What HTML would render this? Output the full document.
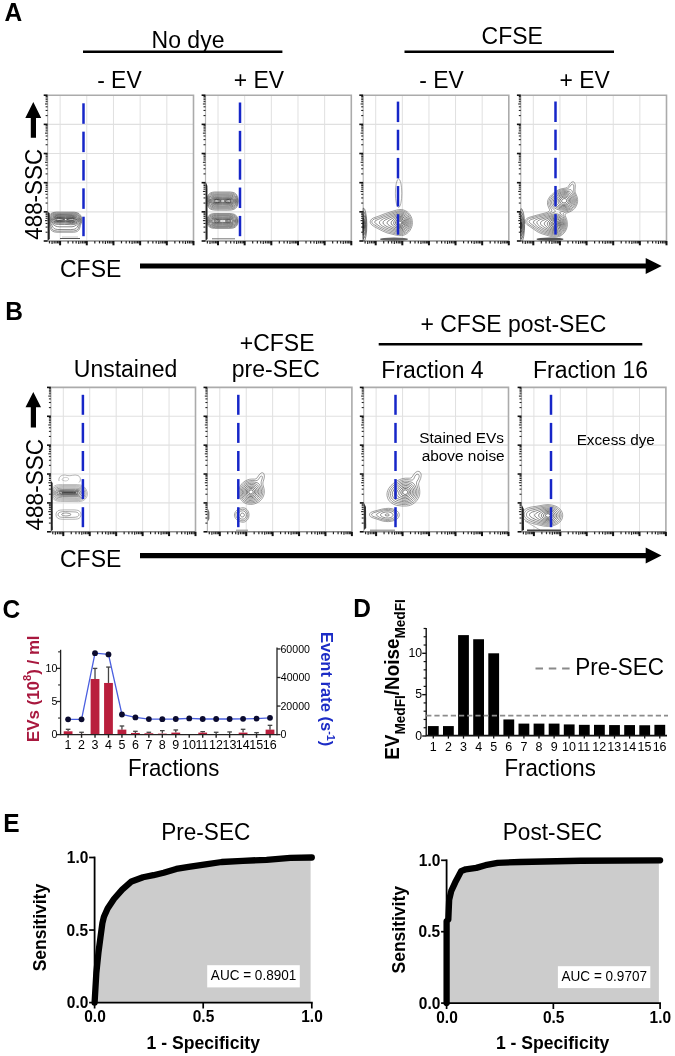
<!DOCTYPE html>
<html><head><meta charset="utf-8"><style>html,body{margin:0;padding:0;background:#fff;}svg{display:block;will-change:transform;filter:blur(0.35px);}</style></head>
<body><svg width="675" height="1056" viewBox="0 0 675 1056" font-family="Liberation Sans, sans-serif">
<rect width="675" height="1056" fill="#fff"/>
<text transform="translate(4.39,21.00) scale(1,1.05)" font-size="24.5" font-weight="bold" fill="#000">A</text>
<text transform="translate(151.56,47.60) scale(1,1.05)" font-size="23" fill="#000">No dye</text>
<line x1="83.00" y1="51.70" x2="282.40" y2="51.70" stroke="#000" stroke-width="2.5"/>
<text transform="translate(481.58,44.30) scale(1,1.05)" font-size="23" fill="#000">CFSE</text>
<line x1="404.50" y1="51.70" x2="614.00" y2="51.70" stroke="#000" stroke-width="2.5"/>
<text transform="translate(97.13,87.90) scale(1,1.05)" font-size="22.9" fill="#000">- EV</text>
<text transform="translate(233.73,87.90) scale(1,1.05)" font-size="22.9" fill="#000">+ EV</text>
<text transform="translate(419.23,87.90) scale(1,1.05)" font-size="22.9" fill="#000">- EV</text>
<text transform="translate(559.53,87.90) scale(1,1.05)" font-size="22.9" fill="#000">+ EV</text>
<line x1="60.10" y1="95.20" x2="60.10" y2="241.00" stroke="#e0e0e0" stroke-width="1.0"/>
<line x1="86.78" y1="95.20" x2="86.78" y2="241.00" stroke="#e0e0e0" stroke-width="1.0"/>
<line x1="113.46" y1="95.20" x2="113.46" y2="241.00" stroke="#e0e0e0" stroke-width="1.0"/>
<line x1="140.14" y1="95.20" x2="140.14" y2="241.00" stroke="#e0e0e0" stroke-width="1.0"/>
<line x1="166.82" y1="95.20" x2="166.82" y2="241.00" stroke="#e0e0e0" stroke-width="1.0"/>
<line x1="47.60" y1="124.36" x2="193.50" y2="124.36" stroke="#e0e0e0" stroke-width="1.1"/>
<line x1="47.60" y1="153.52" x2="193.50" y2="153.52" stroke="#e0e0e0" stroke-width="1.1"/>
<line x1="47.60" y1="182.68" x2="193.50" y2="182.68" stroke="#e0e0e0" stroke-width="1.1"/>
<line x1="47.60" y1="211.84" x2="193.50" y2="211.84" stroke="#e0e0e0" stroke-width="1.1"/>
<path d="M47.60,95.20 H193.50 V241.00" fill="none" stroke="#ababab" stroke-width="1.6"/>
<line x1="47.60" y1="95.20" x2="47.60" y2="241.00" stroke="#b8b8b8" stroke-width="1.2"/>
<line x1="47.60" y1="241.00" x2="193.50" y2="241.00" stroke="#909090" stroke-width="1.4"/>
<line x1="43.70" y1="241.00" x2="47.60" y2="241.00" stroke="#111" stroke-width="1.6"/>
<line x1="45.60" y1="232.22" x2="47.60" y2="232.22" stroke="#222" stroke-width="1.1"/>
<line x1="45.60" y1="227.09" x2="47.60" y2="227.09" stroke="#222" stroke-width="1.1"/>
<line x1="45.60" y1="223.44" x2="47.60" y2="223.44" stroke="#222" stroke-width="1.1"/>
<line x1="45.00" y1="220.62" x2="47.60" y2="220.62" stroke="#222" stroke-width="1.1"/>
<line x1="45.60" y1="218.31" x2="47.60" y2="218.31" stroke="#222" stroke-width="1.1"/>
<line x1="45.60" y1="216.36" x2="47.60" y2="216.36" stroke="#222" stroke-width="1.1"/>
<line x1="45.60" y1="214.67" x2="47.60" y2="214.67" stroke="#222" stroke-width="1.1"/>
<line x1="45.60" y1="213.17" x2="47.60" y2="213.17" stroke="#222" stroke-width="1.1"/>
<line x1="43.70" y1="211.84" x2="47.60" y2="211.84" stroke="#111" stroke-width="1.6"/>
<line x1="45.60" y1="203.06" x2="47.60" y2="203.06" stroke="#222" stroke-width="1.1"/>
<line x1="45.60" y1="197.93" x2="47.60" y2="197.93" stroke="#222" stroke-width="1.1"/>
<line x1="45.60" y1="194.28" x2="47.60" y2="194.28" stroke="#222" stroke-width="1.1"/>
<line x1="45.00" y1="191.46" x2="47.60" y2="191.46" stroke="#222" stroke-width="1.1"/>
<line x1="45.60" y1="189.15" x2="47.60" y2="189.15" stroke="#222" stroke-width="1.1"/>
<line x1="45.60" y1="187.20" x2="47.60" y2="187.20" stroke="#222" stroke-width="1.1"/>
<line x1="45.60" y1="185.51" x2="47.60" y2="185.51" stroke="#222" stroke-width="1.1"/>
<line x1="45.60" y1="184.01" x2="47.60" y2="184.01" stroke="#222" stroke-width="1.1"/>
<line x1="43.70" y1="182.68" x2="47.60" y2="182.68" stroke="#111" stroke-width="1.6"/>
<line x1="45.60" y1="173.90" x2="47.60" y2="173.90" stroke="#222" stroke-width="1.1"/>
<line x1="45.60" y1="168.77" x2="47.60" y2="168.77" stroke="#222" stroke-width="1.1"/>
<line x1="45.60" y1="165.12" x2="47.60" y2="165.12" stroke="#222" stroke-width="1.1"/>
<line x1="45.00" y1="162.30" x2="47.60" y2="162.30" stroke="#222" stroke-width="1.1"/>
<line x1="45.60" y1="159.99" x2="47.60" y2="159.99" stroke="#222" stroke-width="1.1"/>
<line x1="45.60" y1="158.04" x2="47.60" y2="158.04" stroke="#222" stroke-width="1.1"/>
<line x1="45.60" y1="156.35" x2="47.60" y2="156.35" stroke="#222" stroke-width="1.1"/>
<line x1="45.60" y1="154.85" x2="47.60" y2="154.85" stroke="#222" stroke-width="1.1"/>
<line x1="43.70" y1="153.52" x2="47.60" y2="153.52" stroke="#111" stroke-width="1.6"/>
<line x1="45.60" y1="144.74" x2="47.60" y2="144.74" stroke="#222" stroke-width="1.1"/>
<line x1="45.60" y1="139.61" x2="47.60" y2="139.61" stroke="#222" stroke-width="1.1"/>
<line x1="45.60" y1="135.96" x2="47.60" y2="135.96" stroke="#222" stroke-width="1.1"/>
<line x1="45.00" y1="133.14" x2="47.60" y2="133.14" stroke="#222" stroke-width="1.1"/>
<line x1="45.60" y1="130.83" x2="47.60" y2="130.83" stroke="#222" stroke-width="1.1"/>
<line x1="45.60" y1="128.88" x2="47.60" y2="128.88" stroke="#222" stroke-width="1.1"/>
<line x1="45.60" y1="127.19" x2="47.60" y2="127.19" stroke="#222" stroke-width="1.1"/>
<line x1="45.60" y1="125.69" x2="47.60" y2="125.69" stroke="#222" stroke-width="1.1"/>
<line x1="43.70" y1="124.36" x2="47.60" y2="124.36" stroke="#111" stroke-width="1.6"/>
<line x1="45.60" y1="115.58" x2="47.60" y2="115.58" stroke="#222" stroke-width="1.1"/>
<line x1="45.60" y1="110.45" x2="47.60" y2="110.45" stroke="#222" stroke-width="1.1"/>
<line x1="45.60" y1="106.80" x2="47.60" y2="106.80" stroke="#222" stroke-width="1.1"/>
<line x1="45.00" y1="103.98" x2="47.60" y2="103.98" stroke="#222" stroke-width="1.1"/>
<line x1="45.60" y1="101.67" x2="47.60" y2="101.67" stroke="#222" stroke-width="1.1"/>
<line x1="45.60" y1="99.72" x2="47.60" y2="99.72" stroke="#222" stroke-width="1.1"/>
<line x1="45.60" y1="98.03" x2="47.60" y2="98.03" stroke="#222" stroke-width="1.1"/>
<line x1="45.60" y1="96.53" x2="47.60" y2="96.53" stroke="#222" stroke-width="1.1"/>
<line x1="43.70" y1="95.20" x2="47.60" y2="95.20" stroke="#111" stroke-width="1.6"/>
<line x1="49.48" y1="241.00" x2="49.48" y2="243.40" stroke="#222" stroke-width="1.2"/>
<line x1="52.07" y1="241.00" x2="52.07" y2="244.00" stroke="#222" stroke-width="1.2"/>
<line x1="54.18" y1="241.00" x2="54.18" y2="243.40" stroke="#222" stroke-width="1.2"/>
<line x1="55.97" y1="241.00" x2="55.97" y2="243.40" stroke="#222" stroke-width="1.2"/>
<line x1="57.51" y1="241.00" x2="57.51" y2="243.40" stroke="#222" stroke-width="1.2"/>
<line x1="58.88" y1="241.00" x2="58.88" y2="243.40" stroke="#222" stroke-width="1.2"/>
<line x1="60.10" y1="241.00" x2="60.10" y2="245.30" stroke="#111" stroke-width="2.0"/>
<line x1="68.13" y1="241.00" x2="68.13" y2="243.40" stroke="#222" stroke-width="1.2"/>
<line x1="72.83" y1="241.00" x2="72.83" y2="243.40" stroke="#222" stroke-width="1.2"/>
<line x1="76.16" y1="241.00" x2="76.16" y2="243.40" stroke="#222" stroke-width="1.2"/>
<line x1="78.75" y1="241.00" x2="78.75" y2="244.00" stroke="#222" stroke-width="1.2"/>
<line x1="80.86" y1="241.00" x2="80.86" y2="243.40" stroke="#222" stroke-width="1.2"/>
<line x1="82.65" y1="241.00" x2="82.65" y2="243.40" stroke="#222" stroke-width="1.2"/>
<line x1="84.19" y1="241.00" x2="84.19" y2="243.40" stroke="#222" stroke-width="1.2"/>
<line x1="85.56" y1="241.00" x2="85.56" y2="243.40" stroke="#222" stroke-width="1.2"/>
<line x1="86.78" y1="241.00" x2="86.78" y2="245.30" stroke="#111" stroke-width="2.0"/>
<line x1="94.81" y1="241.00" x2="94.81" y2="243.40" stroke="#222" stroke-width="1.2"/>
<line x1="99.51" y1="241.00" x2="99.51" y2="243.40" stroke="#222" stroke-width="1.2"/>
<line x1="102.84" y1="241.00" x2="102.84" y2="243.40" stroke="#222" stroke-width="1.2"/>
<line x1="105.43" y1="241.00" x2="105.43" y2="244.00" stroke="#222" stroke-width="1.2"/>
<line x1="107.54" y1="241.00" x2="107.54" y2="243.40" stroke="#222" stroke-width="1.2"/>
<line x1="109.33" y1="241.00" x2="109.33" y2="243.40" stroke="#222" stroke-width="1.2"/>
<line x1="110.87" y1="241.00" x2="110.87" y2="243.40" stroke="#222" stroke-width="1.2"/>
<line x1="112.24" y1="241.00" x2="112.24" y2="243.40" stroke="#222" stroke-width="1.2"/>
<line x1="113.46" y1="241.00" x2="113.46" y2="245.30" stroke="#111" stroke-width="2.0"/>
<line x1="121.49" y1="241.00" x2="121.49" y2="243.40" stroke="#222" stroke-width="1.2"/>
<line x1="126.19" y1="241.00" x2="126.19" y2="243.40" stroke="#222" stroke-width="1.2"/>
<line x1="129.52" y1="241.00" x2="129.52" y2="243.40" stroke="#222" stroke-width="1.2"/>
<line x1="132.11" y1="241.00" x2="132.11" y2="244.00" stroke="#222" stroke-width="1.2"/>
<line x1="134.22" y1="241.00" x2="134.22" y2="243.40" stroke="#222" stroke-width="1.2"/>
<line x1="136.01" y1="241.00" x2="136.01" y2="243.40" stroke="#222" stroke-width="1.2"/>
<line x1="137.55" y1="241.00" x2="137.55" y2="243.40" stroke="#222" stroke-width="1.2"/>
<line x1="138.92" y1="241.00" x2="138.92" y2="243.40" stroke="#222" stroke-width="1.2"/>
<line x1="140.14" y1="241.00" x2="140.14" y2="245.30" stroke="#111" stroke-width="2.0"/>
<line x1="148.17" y1="241.00" x2="148.17" y2="243.40" stroke="#222" stroke-width="1.2"/>
<line x1="152.87" y1="241.00" x2="152.87" y2="243.40" stroke="#222" stroke-width="1.2"/>
<line x1="156.20" y1="241.00" x2="156.20" y2="243.40" stroke="#222" stroke-width="1.2"/>
<line x1="158.79" y1="241.00" x2="158.79" y2="244.00" stroke="#222" stroke-width="1.2"/>
<line x1="160.90" y1="241.00" x2="160.90" y2="243.40" stroke="#222" stroke-width="1.2"/>
<line x1="162.69" y1="241.00" x2="162.69" y2="243.40" stroke="#222" stroke-width="1.2"/>
<line x1="164.23" y1="241.00" x2="164.23" y2="243.40" stroke="#222" stroke-width="1.2"/>
<line x1="165.60" y1="241.00" x2="165.60" y2="243.40" stroke="#222" stroke-width="1.2"/>
<line x1="166.82" y1="241.00" x2="166.82" y2="245.30" stroke="#111" stroke-width="2.0"/>
<line x1="174.85" y1="241.00" x2="174.85" y2="243.40" stroke="#222" stroke-width="1.2"/>
<line x1="179.55" y1="241.00" x2="179.55" y2="243.40" stroke="#222" stroke-width="1.2"/>
<line x1="182.88" y1="241.00" x2="182.88" y2="243.40" stroke="#222" stroke-width="1.2"/>
<line x1="185.47" y1="241.00" x2="185.47" y2="244.00" stroke="#222" stroke-width="1.2"/>
<line x1="187.58" y1="241.00" x2="187.58" y2="243.40" stroke="#222" stroke-width="1.2"/>
<line x1="189.37" y1="241.00" x2="189.37" y2="243.40" stroke="#222" stroke-width="1.2"/>
<line x1="190.91" y1="241.00" x2="190.91" y2="243.40" stroke="#222" stroke-width="1.2"/>
<line x1="192.28" y1="241.00" x2="192.28" y2="243.40" stroke="#222" stroke-width="1.2"/>
<line x1="193.50" y1="241.00" x2="193.50" y2="245.30" stroke="#111" stroke-width="2.0"/>
<line x1="218.00" y1="95.20" x2="218.00" y2="241.00" stroke="#e0e0e0" stroke-width="1.0"/>
<line x1="244.66" y1="95.20" x2="244.66" y2="241.00" stroke="#e0e0e0" stroke-width="1.0"/>
<line x1="271.32" y1="95.20" x2="271.32" y2="241.00" stroke="#e0e0e0" stroke-width="1.0"/>
<line x1="297.98" y1="95.20" x2="297.98" y2="241.00" stroke="#e0e0e0" stroke-width="1.0"/>
<line x1="324.64" y1="95.20" x2="324.64" y2="241.00" stroke="#e0e0e0" stroke-width="1.0"/>
<line x1="205.50" y1="124.36" x2="351.30" y2="124.36" stroke="#e0e0e0" stroke-width="1.1"/>
<line x1="205.50" y1="153.52" x2="351.30" y2="153.52" stroke="#e0e0e0" stroke-width="1.1"/>
<line x1="205.50" y1="182.68" x2="351.30" y2="182.68" stroke="#e0e0e0" stroke-width="1.1"/>
<line x1="205.50" y1="211.84" x2="351.30" y2="211.84" stroke="#e0e0e0" stroke-width="1.1"/>
<path d="M205.50,95.20 H351.30 V241.00" fill="none" stroke="#ababab" stroke-width="1.6"/>
<line x1="205.50" y1="95.20" x2="205.50" y2="241.00" stroke="#b8b8b8" stroke-width="1.2"/>
<line x1="205.50" y1="241.00" x2="351.30" y2="241.00" stroke="#909090" stroke-width="1.4"/>
<line x1="201.60" y1="241.00" x2="205.50" y2="241.00" stroke="#111" stroke-width="1.6"/>
<line x1="203.50" y1="232.22" x2="205.50" y2="232.22" stroke="#222" stroke-width="1.1"/>
<line x1="203.50" y1="227.09" x2="205.50" y2="227.09" stroke="#222" stroke-width="1.1"/>
<line x1="203.50" y1="223.44" x2="205.50" y2="223.44" stroke="#222" stroke-width="1.1"/>
<line x1="202.90" y1="220.62" x2="205.50" y2="220.62" stroke="#222" stroke-width="1.1"/>
<line x1="203.50" y1="218.31" x2="205.50" y2="218.31" stroke="#222" stroke-width="1.1"/>
<line x1="203.50" y1="216.36" x2="205.50" y2="216.36" stroke="#222" stroke-width="1.1"/>
<line x1="203.50" y1="214.67" x2="205.50" y2="214.67" stroke="#222" stroke-width="1.1"/>
<line x1="203.50" y1="213.17" x2="205.50" y2="213.17" stroke="#222" stroke-width="1.1"/>
<line x1="201.60" y1="211.84" x2="205.50" y2="211.84" stroke="#111" stroke-width="1.6"/>
<line x1="203.50" y1="203.06" x2="205.50" y2="203.06" stroke="#222" stroke-width="1.1"/>
<line x1="203.50" y1="197.93" x2="205.50" y2="197.93" stroke="#222" stroke-width="1.1"/>
<line x1="203.50" y1="194.28" x2="205.50" y2="194.28" stroke="#222" stroke-width="1.1"/>
<line x1="202.90" y1="191.46" x2="205.50" y2="191.46" stroke="#222" stroke-width="1.1"/>
<line x1="203.50" y1="189.15" x2="205.50" y2="189.15" stroke="#222" stroke-width="1.1"/>
<line x1="203.50" y1="187.20" x2="205.50" y2="187.20" stroke="#222" stroke-width="1.1"/>
<line x1="203.50" y1="185.51" x2="205.50" y2="185.51" stroke="#222" stroke-width="1.1"/>
<line x1="203.50" y1="184.01" x2="205.50" y2="184.01" stroke="#222" stroke-width="1.1"/>
<line x1="201.60" y1="182.68" x2="205.50" y2="182.68" stroke="#111" stroke-width="1.6"/>
<line x1="203.50" y1="173.90" x2="205.50" y2="173.90" stroke="#222" stroke-width="1.1"/>
<line x1="203.50" y1="168.77" x2="205.50" y2="168.77" stroke="#222" stroke-width="1.1"/>
<line x1="203.50" y1="165.12" x2="205.50" y2="165.12" stroke="#222" stroke-width="1.1"/>
<line x1="202.90" y1="162.30" x2="205.50" y2="162.30" stroke="#222" stroke-width="1.1"/>
<line x1="203.50" y1="159.99" x2="205.50" y2="159.99" stroke="#222" stroke-width="1.1"/>
<line x1="203.50" y1="158.04" x2="205.50" y2="158.04" stroke="#222" stroke-width="1.1"/>
<line x1="203.50" y1="156.35" x2="205.50" y2="156.35" stroke="#222" stroke-width="1.1"/>
<line x1="203.50" y1="154.85" x2="205.50" y2="154.85" stroke="#222" stroke-width="1.1"/>
<line x1="201.60" y1="153.52" x2="205.50" y2="153.52" stroke="#111" stroke-width="1.6"/>
<line x1="203.50" y1="144.74" x2="205.50" y2="144.74" stroke="#222" stroke-width="1.1"/>
<line x1="203.50" y1="139.61" x2="205.50" y2="139.61" stroke="#222" stroke-width="1.1"/>
<line x1="203.50" y1="135.96" x2="205.50" y2="135.96" stroke="#222" stroke-width="1.1"/>
<line x1="202.90" y1="133.14" x2="205.50" y2="133.14" stroke="#222" stroke-width="1.1"/>
<line x1="203.50" y1="130.83" x2="205.50" y2="130.83" stroke="#222" stroke-width="1.1"/>
<line x1="203.50" y1="128.88" x2="205.50" y2="128.88" stroke="#222" stroke-width="1.1"/>
<line x1="203.50" y1="127.19" x2="205.50" y2="127.19" stroke="#222" stroke-width="1.1"/>
<line x1="203.50" y1="125.69" x2="205.50" y2="125.69" stroke="#222" stroke-width="1.1"/>
<line x1="201.60" y1="124.36" x2="205.50" y2="124.36" stroke="#111" stroke-width="1.6"/>
<line x1="203.50" y1="115.58" x2="205.50" y2="115.58" stroke="#222" stroke-width="1.1"/>
<line x1="203.50" y1="110.45" x2="205.50" y2="110.45" stroke="#222" stroke-width="1.1"/>
<line x1="203.50" y1="106.80" x2="205.50" y2="106.80" stroke="#222" stroke-width="1.1"/>
<line x1="202.90" y1="103.98" x2="205.50" y2="103.98" stroke="#222" stroke-width="1.1"/>
<line x1="203.50" y1="101.67" x2="205.50" y2="101.67" stroke="#222" stroke-width="1.1"/>
<line x1="203.50" y1="99.72" x2="205.50" y2="99.72" stroke="#222" stroke-width="1.1"/>
<line x1="203.50" y1="98.03" x2="205.50" y2="98.03" stroke="#222" stroke-width="1.1"/>
<line x1="203.50" y1="96.53" x2="205.50" y2="96.53" stroke="#222" stroke-width="1.1"/>
<line x1="201.60" y1="95.20" x2="205.50" y2="95.20" stroke="#111" stroke-width="1.6"/>
<line x1="207.39" y1="241.00" x2="207.39" y2="243.40" stroke="#222" stroke-width="1.2"/>
<line x1="209.97" y1="241.00" x2="209.97" y2="244.00" stroke="#222" stroke-width="1.2"/>
<line x1="212.09" y1="241.00" x2="212.09" y2="243.40" stroke="#222" stroke-width="1.2"/>
<line x1="213.87" y1="241.00" x2="213.87" y2="243.40" stroke="#222" stroke-width="1.2"/>
<line x1="215.42" y1="241.00" x2="215.42" y2="243.40" stroke="#222" stroke-width="1.2"/>
<line x1="216.78" y1="241.00" x2="216.78" y2="243.40" stroke="#222" stroke-width="1.2"/>
<line x1="218.00" y1="241.00" x2="218.00" y2="245.30" stroke="#111" stroke-width="2.0"/>
<line x1="226.03" y1="241.00" x2="226.03" y2="243.40" stroke="#222" stroke-width="1.2"/>
<line x1="230.72" y1="241.00" x2="230.72" y2="243.40" stroke="#222" stroke-width="1.2"/>
<line x1="234.05" y1="241.00" x2="234.05" y2="243.40" stroke="#222" stroke-width="1.2"/>
<line x1="236.63" y1="241.00" x2="236.63" y2="244.00" stroke="#222" stroke-width="1.2"/>
<line x1="238.75" y1="241.00" x2="238.75" y2="243.40" stroke="#222" stroke-width="1.2"/>
<line x1="240.53" y1="241.00" x2="240.53" y2="243.40" stroke="#222" stroke-width="1.2"/>
<line x1="242.08" y1="241.00" x2="242.08" y2="243.40" stroke="#222" stroke-width="1.2"/>
<line x1="243.44" y1="241.00" x2="243.44" y2="243.40" stroke="#222" stroke-width="1.2"/>
<line x1="244.66" y1="241.00" x2="244.66" y2="245.30" stroke="#111" stroke-width="2.0"/>
<line x1="252.69" y1="241.00" x2="252.69" y2="243.40" stroke="#222" stroke-width="1.2"/>
<line x1="257.38" y1="241.00" x2="257.38" y2="243.40" stroke="#222" stroke-width="1.2"/>
<line x1="260.71" y1="241.00" x2="260.71" y2="243.40" stroke="#222" stroke-width="1.2"/>
<line x1="263.29" y1="241.00" x2="263.29" y2="244.00" stroke="#222" stroke-width="1.2"/>
<line x1="265.41" y1="241.00" x2="265.41" y2="243.40" stroke="#222" stroke-width="1.2"/>
<line x1="267.19" y1="241.00" x2="267.19" y2="243.40" stroke="#222" stroke-width="1.2"/>
<line x1="268.74" y1="241.00" x2="268.74" y2="243.40" stroke="#222" stroke-width="1.2"/>
<line x1="270.10" y1="241.00" x2="270.10" y2="243.40" stroke="#222" stroke-width="1.2"/>
<line x1="271.32" y1="241.00" x2="271.32" y2="245.30" stroke="#111" stroke-width="2.0"/>
<line x1="279.35" y1="241.00" x2="279.35" y2="243.40" stroke="#222" stroke-width="1.2"/>
<line x1="284.04" y1="241.00" x2="284.04" y2="243.40" stroke="#222" stroke-width="1.2"/>
<line x1="287.37" y1="241.00" x2="287.37" y2="243.40" stroke="#222" stroke-width="1.2"/>
<line x1="289.95" y1="241.00" x2="289.95" y2="244.00" stroke="#222" stroke-width="1.2"/>
<line x1="292.07" y1="241.00" x2="292.07" y2="243.40" stroke="#222" stroke-width="1.2"/>
<line x1="293.85" y1="241.00" x2="293.85" y2="243.40" stroke="#222" stroke-width="1.2"/>
<line x1="295.40" y1="241.00" x2="295.40" y2="243.40" stroke="#222" stroke-width="1.2"/>
<line x1="296.76" y1="241.00" x2="296.76" y2="243.40" stroke="#222" stroke-width="1.2"/>
<line x1="297.98" y1="241.00" x2="297.98" y2="245.30" stroke="#111" stroke-width="2.0"/>
<line x1="306.01" y1="241.00" x2="306.01" y2="243.40" stroke="#222" stroke-width="1.2"/>
<line x1="310.70" y1="241.00" x2="310.70" y2="243.40" stroke="#222" stroke-width="1.2"/>
<line x1="314.03" y1="241.00" x2="314.03" y2="243.40" stroke="#222" stroke-width="1.2"/>
<line x1="316.61" y1="241.00" x2="316.61" y2="244.00" stroke="#222" stroke-width="1.2"/>
<line x1="318.73" y1="241.00" x2="318.73" y2="243.40" stroke="#222" stroke-width="1.2"/>
<line x1="320.51" y1="241.00" x2="320.51" y2="243.40" stroke="#222" stroke-width="1.2"/>
<line x1="322.06" y1="241.00" x2="322.06" y2="243.40" stroke="#222" stroke-width="1.2"/>
<line x1="323.42" y1="241.00" x2="323.42" y2="243.40" stroke="#222" stroke-width="1.2"/>
<line x1="324.64" y1="241.00" x2="324.64" y2="245.30" stroke="#111" stroke-width="2.0"/>
<line x1="332.67" y1="241.00" x2="332.67" y2="243.40" stroke="#222" stroke-width="1.2"/>
<line x1="337.36" y1="241.00" x2="337.36" y2="243.40" stroke="#222" stroke-width="1.2"/>
<line x1="340.69" y1="241.00" x2="340.69" y2="243.40" stroke="#222" stroke-width="1.2"/>
<line x1="343.27" y1="241.00" x2="343.27" y2="244.00" stroke="#222" stroke-width="1.2"/>
<line x1="345.39" y1="241.00" x2="345.39" y2="243.40" stroke="#222" stroke-width="1.2"/>
<line x1="347.17" y1="241.00" x2="347.17" y2="243.40" stroke="#222" stroke-width="1.2"/>
<line x1="348.72" y1="241.00" x2="348.72" y2="243.40" stroke="#222" stroke-width="1.2"/>
<line x1="350.08" y1="241.00" x2="350.08" y2="243.40" stroke="#222" stroke-width="1.2"/>
<line x1="351.30" y1="241.00" x2="351.30" y2="245.30" stroke="#111" stroke-width="2.0"/>
<line x1="375.70" y1="95.20" x2="375.70" y2="241.00" stroke="#e0e0e0" stroke-width="1.0"/>
<line x1="402.32" y1="95.20" x2="402.32" y2="241.00" stroke="#e0e0e0" stroke-width="1.0"/>
<line x1="428.94" y1="95.20" x2="428.94" y2="241.00" stroke="#e0e0e0" stroke-width="1.0"/>
<line x1="455.56" y1="95.20" x2="455.56" y2="241.00" stroke="#e0e0e0" stroke-width="1.0"/>
<line x1="482.18" y1="95.20" x2="482.18" y2="241.00" stroke="#e0e0e0" stroke-width="1.0"/>
<line x1="363.20" y1="124.36" x2="508.80" y2="124.36" stroke="#e0e0e0" stroke-width="1.1"/>
<line x1="363.20" y1="153.52" x2="508.80" y2="153.52" stroke="#e0e0e0" stroke-width="1.1"/>
<line x1="363.20" y1="182.68" x2="508.80" y2="182.68" stroke="#e0e0e0" stroke-width="1.1"/>
<line x1="363.20" y1="211.84" x2="508.80" y2="211.84" stroke="#e0e0e0" stroke-width="1.1"/>
<path d="M363.20,95.20 H508.80 V241.00" fill="none" stroke="#ababab" stroke-width="1.6"/>
<line x1="363.20" y1="95.20" x2="363.20" y2="241.00" stroke="#b8b8b8" stroke-width="1.2"/>
<line x1="363.20" y1="241.00" x2="508.80" y2="241.00" stroke="#909090" stroke-width="1.4"/>
<line x1="359.30" y1="241.00" x2="363.20" y2="241.00" stroke="#111" stroke-width="1.6"/>
<line x1="361.20" y1="232.22" x2="363.20" y2="232.22" stroke="#222" stroke-width="1.1"/>
<line x1="361.20" y1="227.09" x2="363.20" y2="227.09" stroke="#222" stroke-width="1.1"/>
<line x1="361.20" y1="223.44" x2="363.20" y2="223.44" stroke="#222" stroke-width="1.1"/>
<line x1="360.60" y1="220.62" x2="363.20" y2="220.62" stroke="#222" stroke-width="1.1"/>
<line x1="361.20" y1="218.31" x2="363.20" y2="218.31" stroke="#222" stroke-width="1.1"/>
<line x1="361.20" y1="216.36" x2="363.20" y2="216.36" stroke="#222" stroke-width="1.1"/>
<line x1="361.20" y1="214.67" x2="363.20" y2="214.67" stroke="#222" stroke-width="1.1"/>
<line x1="361.20" y1="213.17" x2="363.20" y2="213.17" stroke="#222" stroke-width="1.1"/>
<line x1="359.30" y1="211.84" x2="363.20" y2="211.84" stroke="#111" stroke-width="1.6"/>
<line x1="361.20" y1="203.06" x2="363.20" y2="203.06" stroke="#222" stroke-width="1.1"/>
<line x1="361.20" y1="197.93" x2="363.20" y2="197.93" stroke="#222" stroke-width="1.1"/>
<line x1="361.20" y1="194.28" x2="363.20" y2="194.28" stroke="#222" stroke-width="1.1"/>
<line x1="360.60" y1="191.46" x2="363.20" y2="191.46" stroke="#222" stroke-width="1.1"/>
<line x1="361.20" y1="189.15" x2="363.20" y2="189.15" stroke="#222" stroke-width="1.1"/>
<line x1="361.20" y1="187.20" x2="363.20" y2="187.20" stroke="#222" stroke-width="1.1"/>
<line x1="361.20" y1="185.51" x2="363.20" y2="185.51" stroke="#222" stroke-width="1.1"/>
<line x1="361.20" y1="184.01" x2="363.20" y2="184.01" stroke="#222" stroke-width="1.1"/>
<line x1="359.30" y1="182.68" x2="363.20" y2="182.68" stroke="#111" stroke-width="1.6"/>
<line x1="361.20" y1="173.90" x2="363.20" y2="173.90" stroke="#222" stroke-width="1.1"/>
<line x1="361.20" y1="168.77" x2="363.20" y2="168.77" stroke="#222" stroke-width="1.1"/>
<line x1="361.20" y1="165.12" x2="363.20" y2="165.12" stroke="#222" stroke-width="1.1"/>
<line x1="360.60" y1="162.30" x2="363.20" y2="162.30" stroke="#222" stroke-width="1.1"/>
<line x1="361.20" y1="159.99" x2="363.20" y2="159.99" stroke="#222" stroke-width="1.1"/>
<line x1="361.20" y1="158.04" x2="363.20" y2="158.04" stroke="#222" stroke-width="1.1"/>
<line x1="361.20" y1="156.35" x2="363.20" y2="156.35" stroke="#222" stroke-width="1.1"/>
<line x1="361.20" y1="154.85" x2="363.20" y2="154.85" stroke="#222" stroke-width="1.1"/>
<line x1="359.30" y1="153.52" x2="363.20" y2="153.52" stroke="#111" stroke-width="1.6"/>
<line x1="361.20" y1="144.74" x2="363.20" y2="144.74" stroke="#222" stroke-width="1.1"/>
<line x1="361.20" y1="139.61" x2="363.20" y2="139.61" stroke="#222" stroke-width="1.1"/>
<line x1="361.20" y1="135.96" x2="363.20" y2="135.96" stroke="#222" stroke-width="1.1"/>
<line x1="360.60" y1="133.14" x2="363.20" y2="133.14" stroke="#222" stroke-width="1.1"/>
<line x1="361.20" y1="130.83" x2="363.20" y2="130.83" stroke="#222" stroke-width="1.1"/>
<line x1="361.20" y1="128.88" x2="363.20" y2="128.88" stroke="#222" stroke-width="1.1"/>
<line x1="361.20" y1="127.19" x2="363.20" y2="127.19" stroke="#222" stroke-width="1.1"/>
<line x1="361.20" y1="125.69" x2="363.20" y2="125.69" stroke="#222" stroke-width="1.1"/>
<line x1="359.30" y1="124.36" x2="363.20" y2="124.36" stroke="#111" stroke-width="1.6"/>
<line x1="361.20" y1="115.58" x2="363.20" y2="115.58" stroke="#222" stroke-width="1.1"/>
<line x1="361.20" y1="110.45" x2="363.20" y2="110.45" stroke="#222" stroke-width="1.1"/>
<line x1="361.20" y1="106.80" x2="363.20" y2="106.80" stroke="#222" stroke-width="1.1"/>
<line x1="360.60" y1="103.98" x2="363.20" y2="103.98" stroke="#222" stroke-width="1.1"/>
<line x1="361.20" y1="101.67" x2="363.20" y2="101.67" stroke="#222" stroke-width="1.1"/>
<line x1="361.20" y1="99.72" x2="363.20" y2="99.72" stroke="#222" stroke-width="1.1"/>
<line x1="361.20" y1="98.03" x2="363.20" y2="98.03" stroke="#222" stroke-width="1.1"/>
<line x1="361.20" y1="96.53" x2="363.20" y2="96.53" stroke="#222" stroke-width="1.1"/>
<line x1="359.30" y1="95.20" x2="363.20" y2="95.20" stroke="#111" stroke-width="1.6"/>
<line x1="365.11" y1="241.00" x2="365.11" y2="243.40" stroke="#222" stroke-width="1.2"/>
<line x1="367.69" y1="241.00" x2="367.69" y2="244.00" stroke="#222" stroke-width="1.2"/>
<line x1="369.79" y1="241.00" x2="369.79" y2="243.40" stroke="#222" stroke-width="1.2"/>
<line x1="371.58" y1="241.00" x2="371.58" y2="243.40" stroke="#222" stroke-width="1.2"/>
<line x1="373.12" y1="241.00" x2="373.12" y2="243.40" stroke="#222" stroke-width="1.2"/>
<line x1="374.48" y1="241.00" x2="374.48" y2="243.40" stroke="#222" stroke-width="1.2"/>
<line x1="375.70" y1="241.00" x2="375.70" y2="245.30" stroke="#111" stroke-width="2.0"/>
<line x1="383.71" y1="241.00" x2="383.71" y2="243.40" stroke="#222" stroke-width="1.2"/>
<line x1="388.40" y1="241.00" x2="388.40" y2="243.40" stroke="#222" stroke-width="1.2"/>
<line x1="391.73" y1="241.00" x2="391.73" y2="243.40" stroke="#222" stroke-width="1.2"/>
<line x1="394.31" y1="241.00" x2="394.31" y2="244.00" stroke="#222" stroke-width="1.2"/>
<line x1="396.41" y1="241.00" x2="396.41" y2="243.40" stroke="#222" stroke-width="1.2"/>
<line x1="398.20" y1="241.00" x2="398.20" y2="243.40" stroke="#222" stroke-width="1.2"/>
<line x1="399.74" y1="241.00" x2="399.74" y2="243.40" stroke="#222" stroke-width="1.2"/>
<line x1="401.10" y1="241.00" x2="401.10" y2="243.40" stroke="#222" stroke-width="1.2"/>
<line x1="402.32" y1="241.00" x2="402.32" y2="245.30" stroke="#111" stroke-width="2.0"/>
<line x1="410.33" y1="241.00" x2="410.33" y2="243.40" stroke="#222" stroke-width="1.2"/>
<line x1="415.02" y1="241.00" x2="415.02" y2="243.40" stroke="#222" stroke-width="1.2"/>
<line x1="418.35" y1="241.00" x2="418.35" y2="243.40" stroke="#222" stroke-width="1.2"/>
<line x1="420.93" y1="241.00" x2="420.93" y2="244.00" stroke="#222" stroke-width="1.2"/>
<line x1="423.03" y1="241.00" x2="423.03" y2="243.40" stroke="#222" stroke-width="1.2"/>
<line x1="424.82" y1="241.00" x2="424.82" y2="243.40" stroke="#222" stroke-width="1.2"/>
<line x1="426.36" y1="241.00" x2="426.36" y2="243.40" stroke="#222" stroke-width="1.2"/>
<line x1="427.72" y1="241.00" x2="427.72" y2="243.40" stroke="#222" stroke-width="1.2"/>
<line x1="428.94" y1="241.00" x2="428.94" y2="245.30" stroke="#111" stroke-width="2.0"/>
<line x1="436.95" y1="241.00" x2="436.95" y2="243.40" stroke="#222" stroke-width="1.2"/>
<line x1="441.64" y1="241.00" x2="441.64" y2="243.40" stroke="#222" stroke-width="1.2"/>
<line x1="444.97" y1="241.00" x2="444.97" y2="243.40" stroke="#222" stroke-width="1.2"/>
<line x1="447.55" y1="241.00" x2="447.55" y2="244.00" stroke="#222" stroke-width="1.2"/>
<line x1="449.65" y1="241.00" x2="449.65" y2="243.40" stroke="#222" stroke-width="1.2"/>
<line x1="451.44" y1="241.00" x2="451.44" y2="243.40" stroke="#222" stroke-width="1.2"/>
<line x1="452.98" y1="241.00" x2="452.98" y2="243.40" stroke="#222" stroke-width="1.2"/>
<line x1="454.34" y1="241.00" x2="454.34" y2="243.40" stroke="#222" stroke-width="1.2"/>
<line x1="455.56" y1="241.00" x2="455.56" y2="245.30" stroke="#111" stroke-width="2.0"/>
<line x1="463.57" y1="241.00" x2="463.57" y2="243.40" stroke="#222" stroke-width="1.2"/>
<line x1="468.26" y1="241.00" x2="468.26" y2="243.40" stroke="#222" stroke-width="1.2"/>
<line x1="471.59" y1="241.00" x2="471.59" y2="243.40" stroke="#222" stroke-width="1.2"/>
<line x1="474.17" y1="241.00" x2="474.17" y2="244.00" stroke="#222" stroke-width="1.2"/>
<line x1="476.27" y1="241.00" x2="476.27" y2="243.40" stroke="#222" stroke-width="1.2"/>
<line x1="478.06" y1="241.00" x2="478.06" y2="243.40" stroke="#222" stroke-width="1.2"/>
<line x1="479.60" y1="241.00" x2="479.60" y2="243.40" stroke="#222" stroke-width="1.2"/>
<line x1="480.96" y1="241.00" x2="480.96" y2="243.40" stroke="#222" stroke-width="1.2"/>
<line x1="482.18" y1="241.00" x2="482.18" y2="245.30" stroke="#111" stroke-width="2.0"/>
<line x1="490.19" y1="241.00" x2="490.19" y2="243.40" stroke="#222" stroke-width="1.2"/>
<line x1="494.88" y1="241.00" x2="494.88" y2="243.40" stroke="#222" stroke-width="1.2"/>
<line x1="498.21" y1="241.00" x2="498.21" y2="243.40" stroke="#222" stroke-width="1.2"/>
<line x1="500.79" y1="241.00" x2="500.79" y2="244.00" stroke="#222" stroke-width="1.2"/>
<line x1="502.89" y1="241.00" x2="502.89" y2="243.40" stroke="#222" stroke-width="1.2"/>
<line x1="504.68" y1="241.00" x2="504.68" y2="243.40" stroke="#222" stroke-width="1.2"/>
<line x1="506.22" y1="241.00" x2="506.22" y2="243.40" stroke="#222" stroke-width="1.2"/>
<line x1="507.58" y1="241.00" x2="507.58" y2="243.40" stroke="#222" stroke-width="1.2"/>
<line x1="508.80" y1="241.00" x2="508.80" y2="245.30" stroke="#111" stroke-width="2.0"/>
<line x1="533.30" y1="95.20" x2="533.30" y2="241.00" stroke="#e0e0e0" stroke-width="1.0"/>
<line x1="559.94" y1="95.20" x2="559.94" y2="241.00" stroke="#e0e0e0" stroke-width="1.0"/>
<line x1="586.58" y1="95.20" x2="586.58" y2="241.00" stroke="#e0e0e0" stroke-width="1.0"/>
<line x1="613.22" y1="95.20" x2="613.22" y2="241.00" stroke="#e0e0e0" stroke-width="1.0"/>
<line x1="639.86" y1="95.20" x2="639.86" y2="241.00" stroke="#e0e0e0" stroke-width="1.0"/>
<line x1="520.80" y1="124.36" x2="666.50" y2="124.36" stroke="#e0e0e0" stroke-width="1.1"/>
<line x1="520.80" y1="153.52" x2="666.50" y2="153.52" stroke="#e0e0e0" stroke-width="1.1"/>
<line x1="520.80" y1="182.68" x2="666.50" y2="182.68" stroke="#e0e0e0" stroke-width="1.1"/>
<line x1="520.80" y1="211.84" x2="666.50" y2="211.84" stroke="#e0e0e0" stroke-width="1.1"/>
<path d="M520.80,95.20 H666.50 V241.00" fill="none" stroke="#ababab" stroke-width="1.6"/>
<line x1="520.80" y1="95.20" x2="520.80" y2="241.00" stroke="#b8b8b8" stroke-width="1.2"/>
<line x1="520.80" y1="241.00" x2="666.50" y2="241.00" stroke="#909090" stroke-width="1.4"/>
<line x1="516.90" y1="241.00" x2="520.80" y2="241.00" stroke="#111" stroke-width="1.6"/>
<line x1="518.80" y1="232.22" x2="520.80" y2="232.22" stroke="#222" stroke-width="1.1"/>
<line x1="518.80" y1="227.09" x2="520.80" y2="227.09" stroke="#222" stroke-width="1.1"/>
<line x1="518.80" y1="223.44" x2="520.80" y2="223.44" stroke="#222" stroke-width="1.1"/>
<line x1="518.20" y1="220.62" x2="520.80" y2="220.62" stroke="#222" stroke-width="1.1"/>
<line x1="518.80" y1="218.31" x2="520.80" y2="218.31" stroke="#222" stroke-width="1.1"/>
<line x1="518.80" y1="216.36" x2="520.80" y2="216.36" stroke="#222" stroke-width="1.1"/>
<line x1="518.80" y1="214.67" x2="520.80" y2="214.67" stroke="#222" stroke-width="1.1"/>
<line x1="518.80" y1="213.17" x2="520.80" y2="213.17" stroke="#222" stroke-width="1.1"/>
<line x1="516.90" y1="211.84" x2="520.80" y2="211.84" stroke="#111" stroke-width="1.6"/>
<line x1="518.80" y1="203.06" x2="520.80" y2="203.06" stroke="#222" stroke-width="1.1"/>
<line x1="518.80" y1="197.93" x2="520.80" y2="197.93" stroke="#222" stroke-width="1.1"/>
<line x1="518.80" y1="194.28" x2="520.80" y2="194.28" stroke="#222" stroke-width="1.1"/>
<line x1="518.20" y1="191.46" x2="520.80" y2="191.46" stroke="#222" stroke-width="1.1"/>
<line x1="518.80" y1="189.15" x2="520.80" y2="189.15" stroke="#222" stroke-width="1.1"/>
<line x1="518.80" y1="187.20" x2="520.80" y2="187.20" stroke="#222" stroke-width="1.1"/>
<line x1="518.80" y1="185.51" x2="520.80" y2="185.51" stroke="#222" stroke-width="1.1"/>
<line x1="518.80" y1="184.01" x2="520.80" y2="184.01" stroke="#222" stroke-width="1.1"/>
<line x1="516.90" y1="182.68" x2="520.80" y2="182.68" stroke="#111" stroke-width="1.6"/>
<line x1="518.80" y1="173.90" x2="520.80" y2="173.90" stroke="#222" stroke-width="1.1"/>
<line x1="518.80" y1="168.77" x2="520.80" y2="168.77" stroke="#222" stroke-width="1.1"/>
<line x1="518.80" y1="165.12" x2="520.80" y2="165.12" stroke="#222" stroke-width="1.1"/>
<line x1="518.20" y1="162.30" x2="520.80" y2="162.30" stroke="#222" stroke-width="1.1"/>
<line x1="518.80" y1="159.99" x2="520.80" y2="159.99" stroke="#222" stroke-width="1.1"/>
<line x1="518.80" y1="158.04" x2="520.80" y2="158.04" stroke="#222" stroke-width="1.1"/>
<line x1="518.80" y1="156.35" x2="520.80" y2="156.35" stroke="#222" stroke-width="1.1"/>
<line x1="518.80" y1="154.85" x2="520.80" y2="154.85" stroke="#222" stroke-width="1.1"/>
<line x1="516.90" y1="153.52" x2="520.80" y2="153.52" stroke="#111" stroke-width="1.6"/>
<line x1="518.80" y1="144.74" x2="520.80" y2="144.74" stroke="#222" stroke-width="1.1"/>
<line x1="518.80" y1="139.61" x2="520.80" y2="139.61" stroke="#222" stroke-width="1.1"/>
<line x1="518.80" y1="135.96" x2="520.80" y2="135.96" stroke="#222" stroke-width="1.1"/>
<line x1="518.20" y1="133.14" x2="520.80" y2="133.14" stroke="#222" stroke-width="1.1"/>
<line x1="518.80" y1="130.83" x2="520.80" y2="130.83" stroke="#222" stroke-width="1.1"/>
<line x1="518.80" y1="128.88" x2="520.80" y2="128.88" stroke="#222" stroke-width="1.1"/>
<line x1="518.80" y1="127.19" x2="520.80" y2="127.19" stroke="#222" stroke-width="1.1"/>
<line x1="518.80" y1="125.69" x2="520.80" y2="125.69" stroke="#222" stroke-width="1.1"/>
<line x1="516.90" y1="124.36" x2="520.80" y2="124.36" stroke="#111" stroke-width="1.6"/>
<line x1="518.80" y1="115.58" x2="520.80" y2="115.58" stroke="#222" stroke-width="1.1"/>
<line x1="518.80" y1="110.45" x2="520.80" y2="110.45" stroke="#222" stroke-width="1.1"/>
<line x1="518.80" y1="106.80" x2="520.80" y2="106.80" stroke="#222" stroke-width="1.1"/>
<line x1="518.20" y1="103.98" x2="520.80" y2="103.98" stroke="#222" stroke-width="1.1"/>
<line x1="518.80" y1="101.67" x2="520.80" y2="101.67" stroke="#222" stroke-width="1.1"/>
<line x1="518.80" y1="99.72" x2="520.80" y2="99.72" stroke="#222" stroke-width="1.1"/>
<line x1="518.80" y1="98.03" x2="520.80" y2="98.03" stroke="#222" stroke-width="1.1"/>
<line x1="518.80" y1="96.53" x2="520.80" y2="96.53" stroke="#222" stroke-width="1.1"/>
<line x1="516.90" y1="95.20" x2="520.80" y2="95.20" stroke="#111" stroke-width="1.6"/>
<line x1="522.70" y1="241.00" x2="522.70" y2="243.40" stroke="#222" stroke-width="1.2"/>
<line x1="525.28" y1="241.00" x2="525.28" y2="244.00" stroke="#222" stroke-width="1.2"/>
<line x1="527.39" y1="241.00" x2="527.39" y2="243.40" stroke="#222" stroke-width="1.2"/>
<line x1="529.17" y1="241.00" x2="529.17" y2="243.40" stroke="#222" stroke-width="1.2"/>
<line x1="530.72" y1="241.00" x2="530.72" y2="243.40" stroke="#222" stroke-width="1.2"/>
<line x1="532.08" y1="241.00" x2="532.08" y2="243.40" stroke="#222" stroke-width="1.2"/>
<line x1="533.30" y1="241.00" x2="533.30" y2="245.30" stroke="#111" stroke-width="2.0"/>
<line x1="541.32" y1="241.00" x2="541.32" y2="243.40" stroke="#222" stroke-width="1.2"/>
<line x1="546.01" y1="241.00" x2="546.01" y2="243.40" stroke="#222" stroke-width="1.2"/>
<line x1="549.34" y1="241.00" x2="549.34" y2="243.40" stroke="#222" stroke-width="1.2"/>
<line x1="551.92" y1="241.00" x2="551.92" y2="244.00" stroke="#222" stroke-width="1.2"/>
<line x1="554.03" y1="241.00" x2="554.03" y2="243.40" stroke="#222" stroke-width="1.2"/>
<line x1="555.81" y1="241.00" x2="555.81" y2="243.40" stroke="#222" stroke-width="1.2"/>
<line x1="557.36" y1="241.00" x2="557.36" y2="243.40" stroke="#222" stroke-width="1.2"/>
<line x1="558.72" y1="241.00" x2="558.72" y2="243.40" stroke="#222" stroke-width="1.2"/>
<line x1="559.94" y1="241.00" x2="559.94" y2="245.30" stroke="#111" stroke-width="2.0"/>
<line x1="567.96" y1="241.00" x2="567.96" y2="243.40" stroke="#222" stroke-width="1.2"/>
<line x1="572.65" y1="241.00" x2="572.65" y2="243.40" stroke="#222" stroke-width="1.2"/>
<line x1="575.98" y1="241.00" x2="575.98" y2="243.40" stroke="#222" stroke-width="1.2"/>
<line x1="578.56" y1="241.00" x2="578.56" y2="244.00" stroke="#222" stroke-width="1.2"/>
<line x1="580.67" y1="241.00" x2="580.67" y2="243.40" stroke="#222" stroke-width="1.2"/>
<line x1="582.45" y1="241.00" x2="582.45" y2="243.40" stroke="#222" stroke-width="1.2"/>
<line x1="584.00" y1="241.00" x2="584.00" y2="243.40" stroke="#222" stroke-width="1.2"/>
<line x1="585.36" y1="241.00" x2="585.36" y2="243.40" stroke="#222" stroke-width="1.2"/>
<line x1="586.58" y1="241.00" x2="586.58" y2="245.30" stroke="#111" stroke-width="2.0"/>
<line x1="594.60" y1="241.00" x2="594.60" y2="243.40" stroke="#222" stroke-width="1.2"/>
<line x1="599.29" y1="241.00" x2="599.29" y2="243.40" stroke="#222" stroke-width="1.2"/>
<line x1="602.62" y1="241.00" x2="602.62" y2="243.40" stroke="#222" stroke-width="1.2"/>
<line x1="605.20" y1="241.00" x2="605.20" y2="244.00" stroke="#222" stroke-width="1.2"/>
<line x1="607.31" y1="241.00" x2="607.31" y2="243.40" stroke="#222" stroke-width="1.2"/>
<line x1="609.09" y1="241.00" x2="609.09" y2="243.40" stroke="#222" stroke-width="1.2"/>
<line x1="610.64" y1="241.00" x2="610.64" y2="243.40" stroke="#222" stroke-width="1.2"/>
<line x1="612.00" y1="241.00" x2="612.00" y2="243.40" stroke="#222" stroke-width="1.2"/>
<line x1="613.22" y1="241.00" x2="613.22" y2="245.30" stroke="#111" stroke-width="2.0"/>
<line x1="621.24" y1="241.00" x2="621.24" y2="243.40" stroke="#222" stroke-width="1.2"/>
<line x1="625.93" y1="241.00" x2="625.93" y2="243.40" stroke="#222" stroke-width="1.2"/>
<line x1="629.26" y1="241.00" x2="629.26" y2="243.40" stroke="#222" stroke-width="1.2"/>
<line x1="631.84" y1="241.00" x2="631.84" y2="244.00" stroke="#222" stroke-width="1.2"/>
<line x1="633.95" y1="241.00" x2="633.95" y2="243.40" stroke="#222" stroke-width="1.2"/>
<line x1="635.73" y1="241.00" x2="635.73" y2="243.40" stroke="#222" stroke-width="1.2"/>
<line x1="637.28" y1="241.00" x2="637.28" y2="243.40" stroke="#222" stroke-width="1.2"/>
<line x1="638.64" y1="241.00" x2="638.64" y2="243.40" stroke="#222" stroke-width="1.2"/>
<line x1="639.86" y1="241.00" x2="639.86" y2="245.30" stroke="#111" stroke-width="2.0"/>
<line x1="647.88" y1="241.00" x2="647.88" y2="243.40" stroke="#222" stroke-width="1.2"/>
<line x1="652.57" y1="241.00" x2="652.57" y2="243.40" stroke="#222" stroke-width="1.2"/>
<line x1="655.90" y1="241.00" x2="655.90" y2="243.40" stroke="#222" stroke-width="1.2"/>
<line x1="658.48" y1="241.00" x2="658.48" y2="244.00" stroke="#222" stroke-width="1.2"/>
<line x1="660.59" y1="241.00" x2="660.59" y2="243.40" stroke="#222" stroke-width="1.2"/>
<line x1="662.37" y1="241.00" x2="662.37" y2="243.40" stroke="#222" stroke-width="1.2"/>
<line x1="663.92" y1="241.00" x2="663.92" y2="243.40" stroke="#222" stroke-width="1.2"/>
<line x1="665.28" y1="241.00" x2="665.28" y2="243.40" stroke="#222" stroke-width="1.2"/>
<line x1="666.50" y1="241.00" x2="666.50" y2="245.30" stroke="#111" stroke-width="2.0"/>
<path d="M73.6,232.2 57.0,232.2 54.2,231.9 52.2,231.0 51.2,230.0 50.5,228.8 48.3,220.8 48.2,219.2 48.4,217.8 48.9,216.2 49.6,215.0 50.8,213.7 52.2,212.9 54.0,212.4 56.6,212.1 74.2,212.2 77.0,212.7 79.0,213.6 80.5,215.2 81.5,217.4 81.9,219.8 81.7,222.0 80.3,225.6 79.5,228.8 78.7,230.2 77.8,231.0 76.8,231.6 75.4,232.0 73.6,232.2Z" fill="none" stroke="#5f5f5f" stroke-width="0.65"/>
<path d="M73.4,231.0 57.4,231.1 54.8,230.7 53.0,230.0 52.2,229.2 51.7,228.4 49.0,221.2 48.8,219.8 48.9,218.4 49.3,217.0 49.9,215.8 51.0,214.6 52.4,213.7 54.2,213.2 56.6,213.0 73.6,213.0 76.4,213.4 78.4,214.2 79.9,215.6 80.9,217.6 81.3,219.8 81.0,221.8 79.3,225.6 78.4,228.2 77.8,229.2 77.0,230.0 76.0,230.5 73.4,231.0Z" fill="none" stroke="#575757" stroke-width="0.65"/>
<path d="M70.8,229.6 57.8,229.5 55.6,229.2 54.2,228.6 53.1,227.4 50.5,223.0 49.8,221.4 49.5,220.2 49.5,219.0 49.8,217.8 50.3,216.6 51.3,215.4 52.6,214.6 54.2,214.1 56.6,213.8 73.4,213.8 76.0,214.2 78.0,215.0 79.5,216.4 80.4,218.4 80.6,220.6 80.0,222.6 76.8,227.6 76.0,228.5 75.1,229.0 74.0,229.3 70.8,229.6Z" fill="none" stroke="#4f4f4f" stroke-width="0.65"/>
<path d="M72.0,226.8 59.4,226.8 57.4,226.6 55.8,226.2 53.0,224.4 51.8,223.3 51.0,222.2 50.5,221.2 50.2,220.0 50.2,218.8 50.5,217.8 51.4,216.5 52.6,215.6 54.2,214.9 56.0,214.6 59.2,214.5 72.6,214.6 75.0,214.9 76.8,215.4 78.4,216.4 79.5,218.0 79.9,219.8 79.6,221.6 78.4,223.4 76.4,225.1 74.2,226.3 72.0,226.8Z" fill="none" stroke="#474747" stroke-width="0.65"/>
<path d="M73.2,224.6 70.8,224.7 64.8,224.4 58.4,224.4 55.4,224.1 53.4,223.2 51.9,222.0 51.0,220.4 51.0,218.8 51.6,217.6 52.6,216.6 54.0,215.9 56.0,215.5 59.0,215.3 72.0,215.5 74.2,215.6 75.8,215.9 77.4,216.7 78.6,217.9 79.2,219.2 79.0,220.8 78.3,222.2 77.0,223.4 75.4,224.1 73.2,224.6Z" fill="none" stroke="#3f3f3f" stroke-width="0.65"/>
<path d="M73.8,223.4 71.2,223.5 64.8,223.1 58.4,223.2 56.0,223.0 54.2,222.5 52.8,221.6 51.9,220.4 51.7,219.2 52.2,218.1 53.2,217.2 54.6,216.6 56.4,216.2 59.0,216.1 65.6,216.3 71.8,216.3 74.6,216.5 76.2,217.0 77.5,217.8 78.2,218.8 78.4,220.0 77.9,221.2 77.0,222.2 75.6,223.0 73.8,223.4Z" fill="none" stroke="#383838" stroke-width="0.65"/>
<path d="M74.2,222.4 71.4,222.6 65.2,222.1 59.2,222.3 56.6,222.2 55.0,221.9 53.6,221.2 52.8,220.4 52.6,219.4 53.0,218.4 53.8,217.7 55.0,217.2 56.8,216.9 59.2,216.8 65.2,217.1 71.6,217.0 74.0,217.2 75.4,217.5 76.6,218.1 77.3,218.8 77.6,219.6 77.3,220.6 76.6,221.4 75.6,222.0 74.2,222.4Z" fill="none" stroke="#303030" stroke-width="0.65"/>
<path d="M72.2,221.8 65.6,221.3 59.2,221.6 56.8,221.5 55.4,221.2 54.4,220.8 53.7,220.2 53.5,219.4 53.9,218.6 55.0,218.0 56.4,217.6 58.4,217.5 65.4,217.8 73.0,217.7 75.2,218.2 76.4,219.0 76.6,220.0 75.8,220.9 74.2,221.6 72.2,221.8Z" fill="none" stroke="#282828" stroke-width="0.65"/>
<path d="M73.4,221.0 71.2,221.1 65.4,220.6 57.6,221.0 55.3,220.4 54.7,220.0 54.6,219.4 55.0,218.8 55.8,218.4 58.4,218.0 65.6,218.5 72.4,218.3 74.0,218.5 75.2,219.0 75.6,219.6 75.3,220.2 74.6,220.7 73.4,221.0Z" fill="none" stroke="#202020" stroke-width="0.65"/>
<path d="M60.2,220.4 57.0,220.3 56.1,220.0 55.8,219.4 56.2,219.0 56.8,218.8 59.0,218.6 62.8,219.0 64.5,219.4 64.7,219.6 60.2,220.4Z" fill="none" stroke="#191919" stroke-width="0.65"/>
<path d="M73.2,220.4 70.2,220.4 66.6,219.6 66.9,219.4 69.1,219.0 72.6,218.9 73.8,219.1 74.3,219.6 74.1,220.0 73.2,220.4Z" fill="none" stroke="#191919" stroke-width="0.65"/>
<line x1="60.00" y1="238.50" x2="80.00" y2="238.50" stroke="#555" stroke-width="1.0"/>
<line x1="62.00" y1="237.00" x2="78.00" y2="237.00" stroke="#aaa" stroke-width="0.6"/>
<path d="M47.9,212 L49.6,213 L49.8,239 L47.9,240.5 Z" fill="#222"/>
<path d="M231.2,210.0 227.2,210.2 214.8,210.1 212.0,209.7 210.0,208.8 208.8,207.7 207.9,206.2 207.1,204.2 206.8,202.2 206.7,200.2 207.0,198.2 207.7,196.2 208.4,194.8 209.4,193.7 210.8,192.8 212.4,192.3 214.4,192.0 230.4,192.0 233.0,192.4 235.0,193.2 235.9,194.0 236.7,195.0 237.8,197.6 238.3,200.6 238.0,203.6 237.1,206.4 235.7,208.2 233.8,209.4 231.2,210.0Z" fill="none" stroke="#5f5f5f" stroke-width="0.65"/>
<path d="M230.0,228.4 214.6,228.4 212.0,228.1 210.2,227.4 209.2,226.8 208.3,225.8 207.5,224.4 207.1,223.0 206.9,221.6 206.9,220.0 207.3,218.4 207.8,217.0 208.8,215.6 210.2,214.5 211.8,213.9 214.0,213.5 230.0,213.5 232.6,213.8 234.8,214.5 235.8,215.2 236.6,216.1 237.8,218.4 238.2,221.2 237.7,223.8 236.6,225.9 235.0,227.3 233.0,228.1 230.0,228.4Z" fill="none" stroke="#5f5f5f" stroke-width="0.65"/>
<path d="M230.4,209.0 215.0,209.0 212.4,208.7 210.6,208.0 209.5,207.2 208.6,206.0 207.9,204.4 207.4,202.6 207.3,201.0 207.4,199.2 207.9,197.4 208.6,196.0 209.6,194.7 210.8,193.9 212.4,193.3 214.4,193.0 230.0,193.0 232.6,193.3 234.6,194.1 236.2,195.7 237.4,198.2 237.8,201.0 237.4,203.8 236.4,206.0 235.0,207.6 233.2,208.5 230.4,209.0Z" fill="none" stroke="#575757" stroke-width="0.65"/>
<path d="M231.8,227.4 228.6,227.6 215.8,227.6 213.0,227.4 211.2,226.9 210.0,226.3 209.2,225.6 207.9,223.6 207.5,221.0 207.9,218.4 208.8,216.8 210.0,215.7 211.6,214.9 213.4,214.5 216.8,214.4 229.2,214.4 231.8,214.6 233.8,215.0 235.6,216.1 236.8,217.8 237.5,220.0 237.5,222.2 236.8,224.2 235.6,225.9 234.0,226.9 231.8,227.4Z" fill="none" stroke="#575757" stroke-width="0.65"/>
<path d="M230.0,208.0 215.4,208.0 213.0,207.8 211.2,207.2 210.2,206.5 209.3,205.6 208.6,204.4 208.1,203.0 207.9,201.6 207.9,200.2 208.2,198.8 208.7,197.4 209.6,196.1 210.8,195.0 212.2,194.4 214.0,194.1 229.4,194.0 232.0,194.2 233.8,194.8 235.4,196.0 236.6,198.2 237.2,200.8 236.8,203.2 235.8,205.4 234.4,206.9 232.6,207.6 230.0,208.0Z" fill="none" stroke="#4f4f4f" stroke-width="0.65"/>
<path d="M231.0,226.6 216.0,226.7 213.6,226.6 211.8,226.2 210.0,225.2 208.7,223.6 208.1,221.6 208.3,219.4 209.1,217.8 210.2,216.6 211.6,215.9 213.4,215.5 216.6,215.3 229.0,215.3 231.4,215.4 233.2,215.8 234.8,216.6 236.1,218.0 236.9,220.0 236.9,222.0 236.2,223.8 235.0,225.2 233.4,226.1 231.0,226.6Z" fill="none" stroke="#4f4f4f" stroke-width="0.65"/>
<path d="M229.4,207.0 215.8,207.0 213.4,206.8 211.8,206.3 210.8,205.7 210.0,205.0 208.9,203.0 208.5,200.8 209.0,198.6 209.8,197.2 211.0,196.1 212.4,195.5 214.0,195.1 217.0,195.0 229.0,195.0 231.4,195.2 233.2,195.7 234.8,196.8 236.0,198.6 236.5,200.8 236.2,202.8 235.2,204.8 233.8,206.0 232.0,206.7 229.4,207.0Z" fill="none" stroke="#474747" stroke-width="0.65"/>
<path d="M230.2,225.8 216.2,225.9 212.6,225.5 210.8,224.7 209.5,223.4 208.9,221.8 208.9,220.0 209.5,218.6 210.6,217.5 212.0,216.7 213.6,216.3 216.4,216.1 228.6,216.1 232.4,216.5 234.2,217.3 235.5,218.6 236.2,220.2 236.1,222.0 235.4,223.6 234.2,224.7 232.4,225.5 230.2,225.8Z" fill="none" stroke="#474747" stroke-width="0.65"/>
<path d="M228.6,206.0 216.0,206.0 214.2,205.9 212.6,205.5 211.0,204.6 209.8,203.2 209.2,201.4 209.5,199.6 210.2,198.2 211.2,197.2 212.6,196.5 214.4,196.1 229.2,196.0 231.4,196.2 233.0,196.7 234.5,197.8 235.5,199.4 235.8,201.2 235.4,202.9 234.4,204.3 233.0,205.3 231.2,205.8 228.6,206.0Z" fill="none" stroke="#3f3f3f" stroke-width="0.65"/>
<path d="M231.2,224.8 228.8,225.0 222.8,224.8 216.6,225.0 213.4,224.7 211.6,224.1 210.4,223.1 209.6,221.8 209.6,220.4 210.1,219.2 211.2,218.2 212.6,217.5 214.2,217.2 216.4,217.0 222.8,217.2 228.8,217.0 231.6,217.3 233.2,217.8 234.4,218.6 235.3,219.8 235.5,221.2 235.2,222.4 234.2,223.6 233.0,224.3 231.2,224.8Z" fill="none" stroke="#3f3f3f" stroke-width="0.65"/>
<path d="M228.8,205.0 222.8,204.8 216.4,205.0 213.4,204.7 211.8,204.0 210.6,202.9 210.0,201.6 210.1,200.2 210.7,199.0 211.8,198.0 213.2,197.4 215.0,197.1 222.8,197.2 229.6,197.0 231.8,197.4 233.4,198.1 234.5,199.2 235.0,200.4 235.0,201.6 234.5,202.8 233.6,203.8 232.4,204.4 230.8,204.9 228.8,205.0Z" fill="none" stroke="#383838" stroke-width="0.65"/>
<path d="M230.6,224.0 228.2,224.1 222.4,223.9 216.6,224.1 214.0,223.9 212.4,223.5 211.2,222.7 210.5,221.6 210.4,220.6 210.9,219.6 211.8,218.8 213.0,218.3 214.6,218.0 217.0,217.9 223.0,218.1 228.8,217.9 231.0,218.0 232.6,218.5 233.8,219.2 234.5,220.2 234.7,221.2 234.3,222.2 233.4,223.1 232.2,223.7 230.6,224.0Z" fill="none" stroke="#383838" stroke-width="0.65"/>
<path d="M230.2,204.0 228.0,204.1 222.8,203.8 217.0,204.1 214.4,203.9 212.8,203.5 211.6,202.7 210.9,201.8 210.8,200.6 211.3,199.6 212.2,198.8 213.4,198.3 214.8,198.0 217.2,197.9 223.0,198.2 228.8,197.9 230.8,198.1 232.2,198.5 233.4,199.2 234.1,200.2 234.3,201.2 233.9,202.2 233.0,203.1 231.8,203.7 230.2,204.0Z" fill="none" stroke="#303030" stroke-width="0.65"/>
<path d="M230.4,223.2 228.2,223.3 222.8,223.0 217.2,223.3 214.8,223.2 213.4,222.9 212.2,222.4 211.5,221.6 211.4,220.8 211.8,220.0 212.4,219.5 213.6,219.0 215.0,218.7 217.2,218.7 222.8,219.0 228.2,218.7 230.4,218.8 231.8,219.1 232.8,219.5 233.5,220.2 233.8,221.0 233.5,221.8 232.8,222.5 231.8,222.9 230.4,223.2Z" fill="none" stroke="#303030" stroke-width="0.65"/>
<path d="M230.2,203.2 228.0,203.3 222.8,202.9 217.2,203.3 215.0,203.2 213.6,202.9 212.5,202.4 211.8,201.6 211.7,200.8 212.1,200.0 212.8,199.4 213.8,199.0 215.2,198.8 217.4,198.7 222.8,199.1 228.0,198.7 230.2,198.8 231.6,199.1 232.6,199.6 233.2,200.2 233.4,201.0 233.2,201.8 232.6,202.4 231.6,202.9 230.2,203.2Z" fill="none" stroke="#282828" stroke-width="0.65"/>
<path d="M216.6,222.6 214.8,222.5 213.4,222.0 212.6,221.4 212.6,220.6 213.8,219.8 215.6,219.4 222.8,219.8 229.0,219.4 230.4,219.5 231.6,219.9 232.4,220.4 232.6,221.0 232.4,221.6 231.8,222.0 229.8,222.5 228.0,222.6 222.6,222.2 216.6,222.6Z" fill="none" stroke="#282828" stroke-width="0.65"/>
<path d="M229.6,202.6 227.8,202.6 222.8,202.1 217.6,202.6 215.6,202.6 214.4,202.4 213.4,202.0 212.9,201.6 212.7,201.0 212.9,200.4 213.8,199.8 216.2,199.4 222.8,199.9 229.4,199.4 231.2,199.7 232.2,200.4 232.4,201.2 232.0,201.8 231.0,202.3 229.6,202.6Z" fill="none" stroke="#202020" stroke-width="0.65"/>
<path d="M217.4,221.8 215.2,221.7 214.4,221.4 214.2,221.0 214.4,220.6 214.9,220.4 216.6,220.2 218.8,220.4 220.3,221.0 219.6,221.4 217.4,221.8Z" fill="none" stroke="#202020" stroke-width="0.65"/>
<path d="M229.0,221.8 226.7,221.6 225.2,221.0 226.2,220.5 228.4,220.2 230.0,220.3 230.9,220.8 230.9,221.2 230.6,221.5 229.0,221.8Z" fill="none" stroke="#202020" stroke-width="0.65"/>
<path d="M217.6,202.0 216.0,202.0 214.7,201.8 214.0,201.4 213.9,200.8 214.8,200.2 216.8,199.9 219.9,200.4 221.3,201.0 219.9,201.6 217.6,202.0Z" fill="none" stroke="#191919" stroke-width="0.65"/>
<path d="M229.4,202.0 226.5,201.8 224.9,201.4 224.2,201.0 225.6,200.4 228.2,200.0 230.0,200.1 231.1,200.6 231.3,201.0 231.0,201.5 229.4,202.0Z" fill="none" stroke="#191919" stroke-width="0.65"/>
<line x1="212.00" y1="238.80" x2="235.00" y2="238.80" stroke="#777" stroke-width="1.0"/>
<path d="M205.8,182 L207.4,186 L207.6,239 L205.8,240.5 Z" fill="#222"/>
<path d="M401.6,235.6 398.6,235.6 395.0,234.9 387.0,232.9 382.2,230.9 374.4,226.7 371.8,224.9 370.9,223.8 370.3,222.6 370.3,221.4 370.6,220.4 371.7,219.0 373.6,217.9 378.0,216.4 385.4,213.5 396.4,210.1 398.8,209.6 401.2,209.5 403.4,209.9 405.4,210.7 407.0,211.6 408.6,213.0 409.9,214.6 411.0,216.4 411.8,218.4 412.2,220.4 412.4,222.4 412.3,224.6 411.8,226.6 411.0,228.6 409.9,230.6 408.6,232.1 407.0,233.5 405.4,234.5 403.4,235.3 401.6,235.6Z" fill="none" stroke="#6e6e6e" stroke-width="0.65"/>
<path d="M401.8,234.4 399.2,234.5 396.2,234.0 387.8,231.8 383.6,230.1 379.0,227.7 373.4,224.3 372.5,223.4 372.0,222.6 371.9,221.6 372.1,220.8 373.0,219.8 374.4,219.0 378.2,217.8 385.4,214.9 396.6,211.3 398.8,210.8 400.8,210.7 402.8,210.9 404.6,211.5 406.2,212.4 407.6,213.6 408.9,215.0 409.9,216.6 410.6,218.4 411.1,220.2 411.3,222.2 411.2,224.2 410.9,226.0 410.2,227.8 409.2,229.6 408.2,231.0 406.8,232.3 405.2,233.3 403.4,234.1 401.8,234.4Z" fill="none" stroke="#666666" stroke-width="0.65"/>
<path d="M400.4,233.4 398.2,233.3 395.6,232.7 388.2,230.4 384.4,228.9 380.2,226.7 375.8,223.6 374.7,222.4 374.8,221.4 376.0,220.4 383.4,217.1 397.0,212.3 399.0,211.9 401.0,211.8 402.8,212.1 404.4,212.7 405.8,213.5 407.2,214.7 408.2,216.0 409.2,217.6 409.8,219.2 410.2,221.0 410.3,223.0 410.1,224.8 409.6,226.6 408.8,228.2 407.8,229.7 406.6,231.0 405.2,232.0 403.8,232.7 402.2,233.2 400.4,233.4Z" fill="none" stroke="#5e5e5e" stroke-width="0.65"/>
<path d="M401.0,232.2 398.8,232.2 396.2,231.6 388.8,229.1 385.2,227.6 382.3,226.0 380.3,224.4 379.4,223.0 379.5,221.8 380.8,220.4 383.6,218.7 396.8,213.6 398.8,213.1 400.6,213.0 402.4,213.2 404.0,213.8 405.2,214.5 406.4,215.5 407.3,216.6 408.2,218.0 409.1,221.0 409.2,222.6 409.1,224.2 408.7,225.8 408.2,227.2 406.4,229.7 405.2,230.7 404.0,231.4 402.6,231.9 401.0,232.2Z" fill="none" stroke="#565656" stroke-width="0.65"/>
<path d="M401.4,231.0 399.2,231.1 396.6,230.6 387.0,226.6 385.0,225.4 383.6,224.2 383.0,223.0 383.2,221.8 384.2,220.7 385.9,219.6 397.2,214.6 399.0,214.2 400.6,214.1 402.2,214.3 403.8,214.9 405.8,216.5 407.3,218.6 408.1,221.2 408.1,224.0 407.3,226.6 405.8,228.7 403.8,230.2 401.4,231.0Z" fill="none" stroke="#4e4e4e" stroke-width="0.65"/>
<path d="M401.6,229.8 399.6,230.0 397.6,229.6 395.3,228.8 392.2,227.2 389.4,225.6 387.9,224.4 387.1,223.2 387.1,222.6 387.3,222.0 387.9,221.2 389.3,220.2 395.0,216.9 397.2,215.9 398.8,215.4 400.4,215.2 402.0,215.5 403.4,216.0 405.2,217.4 406.4,219.2 407.0,221.4 407.1,223.6 406.4,225.8 405.3,227.6 403.6,229.0 401.6,229.8Z" fill="none" stroke="#464646" stroke-width="0.65"/>
<path d="M400.6,228.8 398.0,228.5 395.0,227.2 392.2,225.0 391.4,224.0 391.1,223.0 391.2,222.2 391.8,221.2 394.4,218.8 397.2,217.1 399.8,216.4 402.0,216.7 403.0,217.1 404.0,217.8 404.8,218.7 405.5,219.8 406.1,222.2 405.8,224.6 404.6,226.7 402.8,228.2 400.6,228.8Z" fill="none" stroke="#3e3e3e" stroke-width="0.65"/>
<path d="M401.0,227.6 398.8,227.6 396.5,226.6 394.6,225.0 394.0,224.0 393.7,223.2 394.0,221.6 395.3,219.8 397.2,218.4 399.4,217.6 401.4,217.7 403.0,218.4 404.2,219.8 405.0,221.8 404.9,223.8 404.1,225.6 402.8,226.9 401.0,227.6Z" fill="none" stroke="#363636" stroke-width="0.65"/>
<path d="M401.0,226.4 399.4,226.5 397.8,226.0 396.3,224.8 395.6,223.4 395.6,222.0 396.4,220.6 397.6,219.5 399.2,218.8 400.8,218.7 402.1,219.2 403.2,220.2 403.8,221.6 403.9,223.2 403.4,224.6 402.4,225.8 401.0,226.4Z" fill="none" stroke="#2e2e2e" stroke-width="0.65"/>
<path d="M400.2,225.4 399.0,225.2 397.9,224.6 397.2,223.6 397.0,222.6 397.3,221.6 398.0,220.7 399.0,220.1 400.2,219.8 401.2,220.0 402.0,220.6 402.6,221.4 402.8,222.6 402.6,223.8 402.0,224.6 401.2,225.2 400.2,225.4Z" fill="none" stroke="#262626" stroke-width="0.65"/>
<path d="M400.4,224.2 399.8,224.3 399.1,224.0 398.7,223.6 398.4,223.0 398.4,222.4 398.6,221.8 399.2,221.2 399.8,221.0 401.0,221.2 401.7,222.2 401.7,223.0 401.4,223.6 400.4,224.2Z" fill="none" stroke="#1e1e1e" stroke-width="0.65"/>
<ellipse cx="398.6" cy="193.2" rx="3.2" ry="14.3" fill="none" stroke="#777" stroke-width="0.6"/>
<ellipse cx="394" cy="239.3" rx="14" ry="1.7" fill="#666"/>
<path d="M363.6,241.0 363.2,241.0 363.2,240.3 363.2,232.8 363.2,209.7 363.2,208.6 363.4,208.1 364.0,208.4 364.6,209.2 365.7,212.8 366.5,218.2 366.8,224.4 366.6,231.0 365.9,236.4 364.9,240.2 364.2,241.0 363.6,241.0Z" fill="none" stroke="#3c3c3c" stroke-width="0.65"/>
<path d="M363.6,238.5 363.2,238.5 363.2,238.2 363.2,236.5 363.2,230.4 363.2,213.5 363.2,212.1 363.2,211.6 363.4,211.5 364.0,211.8 364.4,212.5 365.3,215.4 365.9,219.6 366.1,224.6 365.9,229.6 365.5,233.8 364.6,237.1 364.2,237.9 363.6,238.5Z" fill="none" stroke="#323232" stroke-width="0.65"/>
<path d="M363.6,235.1 363.2,235.1 363.2,234.7 363.2,233.2 363.2,232.3 363.2,229.0 363.2,217.7 363.2,215.7 363.2,215.0 363.4,214.8 363.8,215.0 364.2,215.7 364.8,217.7 365.2,220.8 365.4,224.6 365.3,228.4 364.9,231.6 364.4,233.8 364.0,234.7 363.6,235.1Z" fill="none" stroke="#282828" stroke-width="0.65"/>
<path d="M363.6,231.7 363.2,231.7 363.2,231.5 363.2,230.4 363.2,228.2 363.2,225.4 363.2,220.4 363.2,218.9 363.4,218.2 364.0,218.9 364.4,220.2 364.8,224.6 364.4,229.4 364.0,231.1 363.6,231.7Z" fill="none" stroke="#1e1e1e" stroke-width="0.65"/>
<path d="M363.4,228.4 363.2,227.4 363.2,225.0 363.2,222.6 363.4,221.6 363.9,222.6 364.1,225.0 363.9,227.4 363.4,228.4Z" fill="none" stroke="#141414" stroke-width="0.65"/>
<path d="M556.6,237.0 554.0,237.0 551.0,236.5 542.2,233.9 538.4,232.3 535.8,230.7 526.8,224.4 525.9,223.4 525.4,222.4 525.3,221.4 525.4,220.4 525.9,219.4 526.6,218.6 528.6,217.5 538.4,214.7 546.0,212.8 547.6,212.2 548.9,211.4 549.5,210.6 549.6,209.8 547.8,205.4 547.5,204.0 547.5,202.4 547.7,200.8 548.2,199.4 549.9,196.6 551.4,195.0 553.6,193.1 556.0,191.3 558.0,190.1 561.0,188.9 565.8,188.0 567.2,187.5 568.2,186.5 570.0,183.8 571.0,182.7 572.2,181.9 573.4,181.8 574.0,182.1 574.6,182.8 575.2,184.4 575.3,186.0 575.0,189.8 575.1,191.4 575.4,192.8 577.1,196.8 577.6,199.4 577.6,201.6 577.1,204.0 575.7,207.0 574.7,208.4 573.4,209.7 571.0,211.3 566.5,213.2 565.3,214.0 565.1,214.6 565.2,215.4 566.8,219.8 567.3,222.8 567.3,226.0 566.5,229.0 564.9,232.0 562.6,234.5 559.8,236.2 558.2,236.7 556.6,237.0Z" fill="none" stroke="#6e6e6e" stroke-width="0.65"/>
<path d="M556.2,236.0 553.8,236.0 551.2,235.4 543.0,232.9 539.6,231.5 536.6,229.7 528.1,223.8 527.4,223.0 526.9,222.2 526.8,221.4 526.9,220.6 527.7,219.4 529.4,218.5 539.0,215.7 546.7,213.8 549.4,212.8 551.2,211.8 551.8,211.0 551.8,210.2 549.4,206.0 548.9,204.4 548.7,203.0 548.9,201.4 549.3,200.0 550.0,198.6 550.9,197.2 553.9,194.2 557.6,191.5 559.6,190.5 561.4,189.8 566.6,189.0 567.8,188.6 569.1,187.6 571.2,184.8 572.0,184.3 572.8,184.2 573.5,184.8 573.8,186.0 573.7,190.2 573.9,191.8 575.9,196.6 576.5,198.8 576.6,201.4 576.1,203.8 575.4,205.4 574.6,206.8 573.4,208.2 572.0,209.4 569.4,210.9 564.2,212.6 563.2,213.3 563.2,214.4 565.3,218.6 566.2,221.6 566.4,224.6 565.9,227.8 565.3,229.4 564.4,231.0 562.2,233.5 560.8,234.5 559.4,235.2 557.8,235.8 556.2,236.0Z" fill="none" stroke="#666666" stroke-width="0.65"/>
<path d="M557.2,234.8 554.6,235.0 551.8,234.5 544.0,231.9 541.0,230.7 537.0,228.3 530.2,223.2 529.1,222.0 529.1,221.0 529.8,220.2 531.0,219.6 538.4,217.1 547.4,214.8 555.1,211.8 555.4,211.4 555.2,210.8 551.7,207.2 550.8,205.8 550.3,204.2 550.1,202.6 550.4,201.0 550.9,199.6 551.8,198.0 553.6,196.0 555.8,194.0 558.0,192.5 560.0,191.4 563.2,190.5 567.8,190.1 570.4,189.6 571.0,189.7 571.8,190.6 574.3,195.6 575.1,197.6 575.5,200.6 575.0,203.4 574.3,205.2 573.2,206.8 571.8,208.2 570.2,209.3 567.0,210.6 561.2,211.7 559.9,212.2 559.8,212.6 560.0,213.0 562.9,216.4 564.5,219.2 565.3,222.2 565.4,225.4 565.0,227.2 564.5,228.8 563.7,230.2 562.7,231.6 561.6,232.7 560.2,233.7 558.8,234.4 557.2,234.8Z" fill="none" stroke="#5f5f5f" stroke-width="0.65"/>
<path d="M564.4,210.0 561.6,210.1 559.0,209.9 556.8,209.2 554.8,208.2 553.2,206.8 552.1,205.0 551.6,203.2 551.7,201.2 552.6,199.2 554.2,197.0 556.8,194.6 559.4,192.9 561.6,192.0 563.8,191.5 566.6,191.4 569.2,191.7 570.4,192.2 571.4,193.1 572.6,194.8 573.5,196.6 574.1,198.2 574.3,199.8 574.3,201.4 574.1,202.8 573.6,204.2 572.7,205.6 571.7,206.8 570.6,207.8 567.8,209.3 564.4,210.0Z" fill="none" stroke="#585858" stroke-width="0.65"/>
<path d="M556.8,233.8 554.4,233.9 551.6,233.4 544.4,230.7 541.4,229.3 538.0,227.2 535.0,224.6 533.6,222.8 533.5,222.0 533.7,221.4 535.3,220.0 538.0,218.7 546.6,216.3 552.8,214.2 554.6,213.8 556.2,213.7 557.6,214.0 559.0,214.5 561.4,216.4 562.4,217.6 563.3,219.0 564.3,222.0 564.5,225.2 564.1,226.8 563.6,228.4 562.8,229.8 561.9,231.0 559.6,232.8 558.2,233.5 556.8,233.8Z" fill="none" stroke="#585858" stroke-width="0.65"/>
<path d="M565.2,208.8 563.0,209.0 560.6,208.8 558.4,208.3 556.7,207.6 555.1,206.6 554.0,205.4 553.3,204.0 553.1,202.6 553.3,201.0 554.1,199.2 555.5,197.4 557.4,195.5 559.3,194.2 561.2,193.2 563.2,192.7 565.2,192.5 567.0,192.6 568.4,192.9 569.6,193.5 570.6,194.3 571.7,195.6 572.6,197.2 573.1,198.8 573.2,200.4 573.1,202.0 572.7,203.4 571.9,204.8 571.0,206.0 569.8,207.0 568.4,207.9 566.8,208.5 565.2,208.8Z" fill="none" stroke="#505050" stroke-width="0.65"/>
<path d="M556.6,232.8 554.2,232.9 551.6,232.3 546.0,229.9 542.4,228.2 539.5,226.2 537.7,224.4 536.9,223.0 536.9,222.2 537.2,221.6 538.2,220.6 540.2,219.6 546.4,217.6 552.8,215.3 554.6,215.0 556.2,215.0 557.6,215.3 559.0,215.9 561.1,217.6 562.7,220.0 563.5,222.6 563.5,225.4 562.7,228.0 561.1,230.4 559.0,232.0 556.6,232.8Z" fill="none" stroke="#505050" stroke-width="0.65"/>
<path d="M564.6,207.8 562.8,207.9 560.8,207.6 559.0,207.2 557.4,206.4 556.2,205.6 555.3,204.4 554.8,203.2 554.7,202.0 555.0,200.6 555.8,199.0 557.1,197.4 558.8,195.8 560.4,194.8 562.0,194.1 563.8,193.7 565.6,193.6 567.0,193.8 568.4,194.3 569.4,194.9 570.3,195.8 571.2,197.0 571.7,198.2 572.0,199.6 572.1,201.0 571.9,202.2 571.4,203.5 570.7,204.6 569.8,205.6 568.6,206.5 567.4,207.1 564.6,207.8Z" fill="none" stroke="#494949" stroke-width="0.65"/>
<path d="M556.2,231.8 554.0,231.8 551.6,231.2 548.8,229.9 544.6,227.5 542.4,226.0 541.0,224.6 540.5,223.4 540.7,222.2 541.4,221.4 542.7,220.6 550.8,217.1 552.8,216.4 554.6,216.1 556.2,216.1 557.6,216.5 559.0,217.2 560.8,218.8 562.0,220.8 562.6,223.2 562.5,225.6 561.7,227.8 560.3,229.8 558.4,231.1 556.2,231.8Z" fill="none" stroke="#494949" stroke-width="0.65"/>
<path d="M565.2,206.6 562.2,206.7 560.6,206.4 559.2,205.8 558.1,205.2 557.3,204.4 556.6,203.4 556.4,202.4 556.4,201.2 556.8,200.0 557.7,198.6 558.7,197.4 560.0,196.3 561.4,195.5 562.8,195.0 564.2,194.7 566.6,194.9 567.8,195.4 568.8,196.0 569.6,196.8 570.2,197.8 570.9,200.0 570.7,202.2 569.6,204.2 568.6,205.1 567.6,205.8 565.2,206.6Z" fill="none" stroke="#424242" stroke-width="0.65"/>
<path d="M555.8,230.8 554.0,230.7 552.0,230.2 549.8,229.1 547.3,227.4 545.5,225.8 544.5,224.6 544.3,223.4 544.7,222.4 546.0,221.2 548.5,219.6 551.0,218.2 553.0,217.5 554.6,217.2 556.2,217.2 557.6,217.6 559.0,218.4 560.3,219.8 561.2,221.6 561.6,223.6 561.4,225.8 560.7,227.6 559.4,229.2 557.8,230.3 555.8,230.8Z" fill="none" stroke="#424242" stroke-width="0.65"/>
<path d="M564.0,205.6 561.4,205.3 559.4,204.3 558.7,203.6 558.3,202.8 558.1,202.0 558.1,201.0 558.4,200.0 559.2,198.8 561.1,197.0 563.4,196.0 564.6,195.9 565.8,196.0 567.4,196.6 568.8,197.8 569.6,199.6 569.6,201.4 568.9,203.0 567.6,204.4 566.0,205.2 564.0,205.6Z" fill="none" stroke="#3b3b3b" stroke-width="0.65"/>
<path d="M555.2,229.8 554.0,229.7 552.6,229.3 550.0,227.8 548.9,226.8 547.9,225.6 547.4,224.6 547.3,223.8 547.5,222.8 548.0,222.0 549.9,220.2 552.6,218.7 555.0,218.2 557.2,218.6 559.0,219.8 560.2,221.6 560.7,223.8 560.4,226.0 559.2,228.0 557.4,229.3 555.2,229.8Z" fill="none" stroke="#3b3b3b" stroke-width="0.65"/>
<path d="M565.2,204.2 563.4,204.4 561.8,204.0 560.4,203.0 559.8,201.8 559.9,200.4 560.7,199.0 562.0,197.9 563.6,197.2 565.2,197.2 566.6,197.6 567.7,198.6 568.2,199.8 568.3,201.2 567.7,202.6 566.6,203.6 565.2,204.2Z" fill="none" stroke="#333333" stroke-width="0.65"/>
<path d="M556.2,228.6 554.2,228.7 552.2,227.9 550.3,226.4 549.4,224.6 549.4,223.0 550.3,221.6 551.9,220.2 553.8,219.4 555.6,219.3 557.4,219.8 558.8,221.1 559.6,222.8 559.7,224.8 559.0,226.6 557.8,227.9 556.2,228.6Z" fill="none" stroke="#333333" stroke-width="0.65"/>
<path d="M564.8,202.8 563.8,202.9 562.8,202.7 562.1,202.2 561.7,201.4 561.7,200.6 562.1,199.8 562.8,199.1 563.8,198.7 564.8,198.6 565.6,198.8 566.3,199.4 566.7,200.2 566.7,201.0 566.3,201.8 565.7,202.4 564.8,202.8Z" fill="none" stroke="#2c2c2c" stroke-width="0.65"/>
<path d="M556.0,227.6 554.4,227.7 553.0,227.1 551.8,226.2 551.0,224.8 550.9,223.4 551.4,222.2 552.6,221.1 554.0,220.4 555.4,220.3 556.8,220.7 557.9,221.6 558.6,223.0 558.7,224.6 558.2,226.0 557.3,227.0 556.0,227.6Z" fill="none" stroke="#2c2c2c" stroke-width="0.65"/>
<path d="M555.6,226.6 554.4,226.6 553.4,226.1 552.6,225.4 552.2,224.4 552.2,223.4 552.6,222.6 553.4,221.8 554.4,221.4 555.4,221.3 556.4,221.6 557.2,222.4 557.7,223.4 557.7,224.4 557.4,225.4 556.6,226.2 555.6,226.6Z" fill="none" stroke="#252525" stroke-width="0.65"/>
<path d="M555.4,225.6 554.6,225.6 554.0,225.3 553.6,224.8 553.4,224.2 553.4,223.6 553.7,223.0 554.8,222.4 556.0,222.6 556.7,223.6 556.7,224.4 556.4,225.0 555.4,225.6Z" fill="none" stroke="#1e1e1e" stroke-width="0.65"/>
<ellipse cx="550" cy="239.3" rx="13.5" ry="1.7" fill="#555"/>
<path d="M521.4,241.0 520.8,241.0 520.8,241.0 520.8,241.0 520.8,239.6 520.8,234.6 520.8,211.5 520.8,209.3 520.8,208.9 521.0,208.6 521.6,208.9 522.3,209.8 523.5,213.2 524.3,218.4 524.6,224.4 524.4,230.4 523.7,236.4 522.7,240.4 522.0,241.0 521.4,241.0Z" fill="none" stroke="#3c3c3c" stroke-width="0.65"/>
<path d="M521.0,239.0 520.8,238.7 520.8,238.0 520.8,235.2 520.8,225.6 520.8,215.8 520.8,213.0 520.8,212.3 521.0,212.0 521.6,212.3 522.1,213.0 523.0,216.0 523.7,220.4 523.9,225.4 523.7,230.6 523.0,235.0 522.1,238.0 521.6,238.7 521.0,239.0Z" fill="none" stroke="#323232" stroke-width="0.65"/>
<path d="M521.2,235.6 520.8,235.6 520.8,235.3 520.8,233.9 520.8,231.2 520.8,228.4 520.8,221.6 520.8,219.6 520.8,216.5 520.8,215.7 521.0,215.3 521.4,215.5 521.8,216.1 522.5,218.2 523.0,221.2 523.2,225.0 523.0,228.8 522.6,232.2 522.0,234.5 521.2,235.6Z" fill="none" stroke="#282828" stroke-width="0.65"/>
<path d="M521.2,232.2 520.8,232.2 520.8,232.0 520.8,230.8 520.8,228.6 520.8,226.0 520.8,223.2 520.8,220.8 520.8,219.3 521.0,218.7 521.6,219.3 522.0,220.6 522.4,225.0 522.1,229.8 521.7,231.4 521.2,232.2Z" fill="none" stroke="#1e1e1e" stroke-width="0.65"/>
<path d="M521.2,228.8 521.0,228.9 520.8,228.8 520.8,228.4 520.8,226.0 520.8,223.4 520.8,222.6 521.0,222.1 521.4,222.8 521.7,225.0 521.6,227.5 521.2,228.8Z" fill="none" stroke="#141414" stroke-width="0.65"/>
<line x1="83.50" y1="103.30" x2="83.50" y2="123.80" stroke="#1626c8" stroke-width="2.5"/>
<line x1="83.50" y1="131.65" x2="83.50" y2="152.15" stroke="#1626c8" stroke-width="2.5"/>
<line x1="83.50" y1="160.00" x2="83.50" y2="180.50" stroke="#1626c8" stroke-width="2.5"/>
<line x1="83.50" y1="188.35" x2="83.50" y2="208.85" stroke="#1626c8" stroke-width="2.5"/>
<line x1="83.50" y1="216.70" x2="83.50" y2="236.20" stroke="#1626c8" stroke-width="2.5"/>
<line x1="240.00" y1="102.50" x2="240.00" y2="123.00" stroke="#1626c8" stroke-width="2.5"/>
<line x1="240.00" y1="130.85" x2="240.00" y2="151.35" stroke="#1626c8" stroke-width="2.5"/>
<line x1="240.00" y1="159.20" x2="240.00" y2="179.70" stroke="#1626c8" stroke-width="2.5"/>
<line x1="240.00" y1="187.55" x2="240.00" y2="208.05" stroke="#1626c8" stroke-width="2.5"/>
<line x1="240.00" y1="215.90" x2="240.00" y2="236.20" stroke="#1626c8" stroke-width="2.5"/>
<line x1="398.00" y1="101.60" x2="398.00" y2="122.10" stroke="#1626c8" stroke-width="2.5"/>
<line x1="398.00" y1="129.75" x2="398.00" y2="150.25" stroke="#1626c8" stroke-width="2.5"/>
<line x1="398.00" y1="157.90" x2="398.00" y2="178.40" stroke="#1626c8" stroke-width="2.5"/>
<line x1="398.00" y1="186.05" x2="398.00" y2="206.55" stroke="#1626c8" stroke-width="2.5"/>
<line x1="398.00" y1="214.20" x2="398.00" y2="234.70" stroke="#1626c8" stroke-width="2.5"/>
<line x1="555.50" y1="101.50" x2="555.50" y2="122.00" stroke="#1626c8" stroke-width="2.5"/>
<line x1="555.50" y1="129.65" x2="555.50" y2="150.15" stroke="#1626c8" stroke-width="2.5"/>
<line x1="555.50" y1="157.80" x2="555.50" y2="178.30" stroke="#1626c8" stroke-width="2.5"/>
<line x1="555.50" y1="185.95" x2="555.50" y2="206.45" stroke="#1626c8" stroke-width="2.5"/>
<line x1="555.50" y1="214.10" x2="555.50" y2="234.60" stroke="#1626c8" stroke-width="2.5"/>
<g transform="translate(42.20,239.71) rotate(-90) scale(1.0,1.06)"><text x="0" y="0" font-size="22.37" fill="#000">488-SSC</text></g>
<path d="M33.3,102 L41.2,118 L36,118 L36,137.7 L30.8,137.7 L30.8,118 L25.3,118 Z" fill="#000"/>
<text transform="translate(59.98,277.40) scale(1,1.05)" font-size="23" fill="#000">CFSE</text>
<path d="M140,263.5 H645.7 V258 L661.7,266 L645.7,274 V268.6 H140 Z" fill="#000"/>
<text transform="translate(5.36,320.40) scale(1,1.05)" font-size="24.5" font-weight="bold" fill="#000">B</text>
<text transform="translate(73.78,377.20) scale(1,1.05)" font-size="23" fill="#000">Unstained</text>
<text transform="translate(239.73,350.80) scale(1,1.05)" font-size="23" fill="#000">+CFSE</text>
<text transform="translate(231.77,377.20) scale(1,1.05)" font-size="23" fill="#000">pre-SEC</text>
<text transform="translate(420.43,332.30) scale(1,1.05)" font-size="23" fill="#000">+ CFSE post-SEC</text>
<line x1="378.70" y1="344.30" x2="642.30" y2="344.30" stroke="#000" stroke-width="2.4"/>
<text transform="translate(381.36,377.60) scale(1,1.05)" font-size="23" fill="#000">Fraction 4</text>
<text transform="translate(532.96,377.60) scale(1,1.05)" font-size="23" fill="#000">Fraction 16</text>
<line x1="63.30" y1="387.40" x2="63.30" y2="531.80" stroke="#e0e0e0" stroke-width="1.0"/>
<line x1="89.74" y1="387.40" x2="89.74" y2="531.80" stroke="#e0e0e0" stroke-width="1.0"/>
<line x1="116.18" y1="387.40" x2="116.18" y2="531.80" stroke="#e0e0e0" stroke-width="1.0"/>
<line x1="142.62" y1="387.40" x2="142.62" y2="531.80" stroke="#e0e0e0" stroke-width="1.0"/>
<line x1="169.06" y1="387.40" x2="169.06" y2="531.80" stroke="#e0e0e0" stroke-width="1.0"/>
<line x1="50.90" y1="416.28" x2="195.50" y2="416.28" stroke="#e0e0e0" stroke-width="1.1"/>
<line x1="50.90" y1="445.16" x2="195.50" y2="445.16" stroke="#e0e0e0" stroke-width="1.1"/>
<line x1="50.90" y1="474.04" x2="195.50" y2="474.04" stroke="#e0e0e0" stroke-width="1.1"/>
<line x1="50.90" y1="502.92" x2="195.50" y2="502.92" stroke="#e0e0e0" stroke-width="1.1"/>
<path d="M50.90,387.40 H195.50 V531.80" fill="none" stroke="#ababab" stroke-width="1.6"/>
<line x1="50.90" y1="387.40" x2="50.90" y2="531.80" stroke="#b8b8b8" stroke-width="1.2"/>
<line x1="50.90" y1="531.80" x2="195.50" y2="531.80" stroke="#909090" stroke-width="1.4"/>
<line x1="47.00" y1="531.80" x2="50.90" y2="531.80" stroke="#111" stroke-width="1.6"/>
<line x1="48.90" y1="523.11" x2="50.90" y2="523.11" stroke="#222" stroke-width="1.1"/>
<line x1="48.90" y1="518.02" x2="50.90" y2="518.02" stroke="#222" stroke-width="1.1"/>
<line x1="48.90" y1="514.41" x2="50.90" y2="514.41" stroke="#222" stroke-width="1.1"/>
<line x1="48.30" y1="511.61" x2="50.90" y2="511.61" stroke="#222" stroke-width="1.1"/>
<line x1="48.90" y1="509.33" x2="50.90" y2="509.33" stroke="#222" stroke-width="1.1"/>
<line x1="48.90" y1="507.39" x2="50.90" y2="507.39" stroke="#222" stroke-width="1.1"/>
<line x1="48.90" y1="505.72" x2="50.90" y2="505.72" stroke="#222" stroke-width="1.1"/>
<line x1="48.90" y1="504.24" x2="50.90" y2="504.24" stroke="#222" stroke-width="1.1"/>
<line x1="47.00" y1="502.92" x2="50.90" y2="502.92" stroke="#111" stroke-width="1.6"/>
<line x1="48.90" y1="494.23" x2="50.90" y2="494.23" stroke="#222" stroke-width="1.1"/>
<line x1="48.90" y1="489.14" x2="50.90" y2="489.14" stroke="#222" stroke-width="1.1"/>
<line x1="48.90" y1="485.53" x2="50.90" y2="485.53" stroke="#222" stroke-width="1.1"/>
<line x1="48.30" y1="482.73" x2="50.90" y2="482.73" stroke="#222" stroke-width="1.1"/>
<line x1="48.90" y1="480.45" x2="50.90" y2="480.45" stroke="#222" stroke-width="1.1"/>
<line x1="48.90" y1="478.51" x2="50.90" y2="478.51" stroke="#222" stroke-width="1.1"/>
<line x1="48.90" y1="476.84" x2="50.90" y2="476.84" stroke="#222" stroke-width="1.1"/>
<line x1="48.90" y1="475.36" x2="50.90" y2="475.36" stroke="#222" stroke-width="1.1"/>
<line x1="47.00" y1="474.04" x2="50.90" y2="474.04" stroke="#111" stroke-width="1.6"/>
<line x1="48.90" y1="465.35" x2="50.90" y2="465.35" stroke="#222" stroke-width="1.1"/>
<line x1="48.90" y1="460.26" x2="50.90" y2="460.26" stroke="#222" stroke-width="1.1"/>
<line x1="48.90" y1="456.65" x2="50.90" y2="456.65" stroke="#222" stroke-width="1.1"/>
<line x1="48.30" y1="453.85" x2="50.90" y2="453.85" stroke="#222" stroke-width="1.1"/>
<line x1="48.90" y1="451.57" x2="50.90" y2="451.57" stroke="#222" stroke-width="1.1"/>
<line x1="48.90" y1="449.63" x2="50.90" y2="449.63" stroke="#222" stroke-width="1.1"/>
<line x1="48.90" y1="447.96" x2="50.90" y2="447.96" stroke="#222" stroke-width="1.1"/>
<line x1="48.90" y1="446.48" x2="50.90" y2="446.48" stroke="#222" stroke-width="1.1"/>
<line x1="47.00" y1="445.16" x2="50.90" y2="445.16" stroke="#111" stroke-width="1.6"/>
<line x1="48.90" y1="436.47" x2="50.90" y2="436.47" stroke="#222" stroke-width="1.1"/>
<line x1="48.90" y1="431.38" x2="50.90" y2="431.38" stroke="#222" stroke-width="1.1"/>
<line x1="48.90" y1="427.77" x2="50.90" y2="427.77" stroke="#222" stroke-width="1.1"/>
<line x1="48.30" y1="424.97" x2="50.90" y2="424.97" stroke="#222" stroke-width="1.1"/>
<line x1="48.90" y1="422.69" x2="50.90" y2="422.69" stroke="#222" stroke-width="1.1"/>
<line x1="48.90" y1="420.75" x2="50.90" y2="420.75" stroke="#222" stroke-width="1.1"/>
<line x1="48.90" y1="419.08" x2="50.90" y2="419.08" stroke="#222" stroke-width="1.1"/>
<line x1="48.90" y1="417.60" x2="50.90" y2="417.60" stroke="#222" stroke-width="1.1"/>
<line x1="47.00" y1="416.28" x2="50.90" y2="416.28" stroke="#111" stroke-width="1.6"/>
<line x1="48.90" y1="407.59" x2="50.90" y2="407.59" stroke="#222" stroke-width="1.1"/>
<line x1="48.90" y1="402.50" x2="50.90" y2="402.50" stroke="#222" stroke-width="1.1"/>
<line x1="48.90" y1="398.89" x2="50.90" y2="398.89" stroke="#222" stroke-width="1.1"/>
<line x1="48.30" y1="396.09" x2="50.90" y2="396.09" stroke="#222" stroke-width="1.1"/>
<line x1="48.90" y1="393.81" x2="50.90" y2="393.81" stroke="#222" stroke-width="1.1"/>
<line x1="48.90" y1="391.87" x2="50.90" y2="391.87" stroke="#222" stroke-width="1.1"/>
<line x1="48.90" y1="390.20" x2="50.90" y2="390.20" stroke="#222" stroke-width="1.1"/>
<line x1="48.90" y1="388.72" x2="50.90" y2="388.72" stroke="#222" stroke-width="1.1"/>
<line x1="47.00" y1="387.40" x2="50.90" y2="387.40" stroke="#111" stroke-width="1.6"/>
<line x1="52.78" y1="531.80" x2="52.78" y2="534.20" stroke="#222" stroke-width="1.2"/>
<line x1="55.34" y1="531.80" x2="55.34" y2="534.80" stroke="#222" stroke-width="1.2"/>
<line x1="57.43" y1="531.80" x2="57.43" y2="534.20" stroke="#222" stroke-width="1.2"/>
<line x1="59.20" y1="531.80" x2="59.20" y2="534.20" stroke="#222" stroke-width="1.2"/>
<line x1="60.74" y1="531.80" x2="60.74" y2="534.20" stroke="#222" stroke-width="1.2"/>
<line x1="62.09" y1="531.80" x2="62.09" y2="534.20" stroke="#222" stroke-width="1.2"/>
<line x1="63.30" y1="531.80" x2="63.30" y2="536.10" stroke="#111" stroke-width="2.0"/>
<line x1="71.26" y1="531.80" x2="71.26" y2="534.20" stroke="#222" stroke-width="1.2"/>
<line x1="75.92" y1="531.80" x2="75.92" y2="534.20" stroke="#222" stroke-width="1.2"/>
<line x1="79.22" y1="531.80" x2="79.22" y2="534.20" stroke="#222" stroke-width="1.2"/>
<line x1="81.78" y1="531.80" x2="81.78" y2="534.80" stroke="#222" stroke-width="1.2"/>
<line x1="83.87" y1="531.80" x2="83.87" y2="534.20" stroke="#222" stroke-width="1.2"/>
<line x1="85.64" y1="531.80" x2="85.64" y2="534.20" stroke="#222" stroke-width="1.2"/>
<line x1="87.18" y1="531.80" x2="87.18" y2="534.20" stroke="#222" stroke-width="1.2"/>
<line x1="88.53" y1="531.80" x2="88.53" y2="534.20" stroke="#222" stroke-width="1.2"/>
<line x1="89.74" y1="531.80" x2="89.74" y2="536.10" stroke="#111" stroke-width="2.0"/>
<line x1="97.70" y1="531.80" x2="97.70" y2="534.20" stroke="#222" stroke-width="1.2"/>
<line x1="102.36" y1="531.80" x2="102.36" y2="534.20" stroke="#222" stroke-width="1.2"/>
<line x1="105.66" y1="531.80" x2="105.66" y2="534.20" stroke="#222" stroke-width="1.2"/>
<line x1="108.22" y1="531.80" x2="108.22" y2="534.80" stroke="#222" stroke-width="1.2"/>
<line x1="110.31" y1="531.80" x2="110.31" y2="534.20" stroke="#222" stroke-width="1.2"/>
<line x1="112.08" y1="531.80" x2="112.08" y2="534.20" stroke="#222" stroke-width="1.2"/>
<line x1="113.62" y1="531.80" x2="113.62" y2="534.20" stroke="#222" stroke-width="1.2"/>
<line x1="114.97" y1="531.80" x2="114.97" y2="534.20" stroke="#222" stroke-width="1.2"/>
<line x1="116.18" y1="531.80" x2="116.18" y2="536.10" stroke="#111" stroke-width="2.0"/>
<line x1="124.14" y1="531.80" x2="124.14" y2="534.20" stroke="#222" stroke-width="1.2"/>
<line x1="128.80" y1="531.80" x2="128.80" y2="534.20" stroke="#222" stroke-width="1.2"/>
<line x1="132.10" y1="531.80" x2="132.10" y2="534.20" stroke="#222" stroke-width="1.2"/>
<line x1="134.66" y1="531.80" x2="134.66" y2="534.80" stroke="#222" stroke-width="1.2"/>
<line x1="136.75" y1="531.80" x2="136.75" y2="534.20" stroke="#222" stroke-width="1.2"/>
<line x1="138.52" y1="531.80" x2="138.52" y2="534.20" stroke="#222" stroke-width="1.2"/>
<line x1="140.06" y1="531.80" x2="140.06" y2="534.20" stroke="#222" stroke-width="1.2"/>
<line x1="141.41" y1="531.80" x2="141.41" y2="534.20" stroke="#222" stroke-width="1.2"/>
<line x1="142.62" y1="531.80" x2="142.62" y2="536.10" stroke="#111" stroke-width="2.0"/>
<line x1="150.58" y1="531.80" x2="150.58" y2="534.20" stroke="#222" stroke-width="1.2"/>
<line x1="155.24" y1="531.80" x2="155.24" y2="534.20" stroke="#222" stroke-width="1.2"/>
<line x1="158.54" y1="531.80" x2="158.54" y2="534.20" stroke="#222" stroke-width="1.2"/>
<line x1="161.10" y1="531.80" x2="161.10" y2="534.80" stroke="#222" stroke-width="1.2"/>
<line x1="163.19" y1="531.80" x2="163.19" y2="534.20" stroke="#222" stroke-width="1.2"/>
<line x1="164.96" y1="531.80" x2="164.96" y2="534.20" stroke="#222" stroke-width="1.2"/>
<line x1="166.50" y1="531.80" x2="166.50" y2="534.20" stroke="#222" stroke-width="1.2"/>
<line x1="167.85" y1="531.80" x2="167.85" y2="534.20" stroke="#222" stroke-width="1.2"/>
<line x1="169.06" y1="531.80" x2="169.06" y2="536.10" stroke="#111" stroke-width="2.0"/>
<line x1="177.02" y1="531.80" x2="177.02" y2="534.20" stroke="#222" stroke-width="1.2"/>
<line x1="181.68" y1="531.80" x2="181.68" y2="534.20" stroke="#222" stroke-width="1.2"/>
<line x1="184.98" y1="531.80" x2="184.98" y2="534.20" stroke="#222" stroke-width="1.2"/>
<line x1="187.54" y1="531.80" x2="187.54" y2="534.80" stroke="#222" stroke-width="1.2"/>
<line x1="189.63" y1="531.80" x2="189.63" y2="534.20" stroke="#222" stroke-width="1.2"/>
<line x1="191.40" y1="531.80" x2="191.40" y2="534.20" stroke="#222" stroke-width="1.2"/>
<line x1="192.94" y1="531.80" x2="192.94" y2="534.20" stroke="#222" stroke-width="1.2"/>
<line x1="194.29" y1="531.80" x2="194.29" y2="534.20" stroke="#222" stroke-width="1.2"/>
<line x1="195.50" y1="531.80" x2="195.50" y2="536.10" stroke="#111" stroke-width="2.0"/>
<line x1="219.80" y1="387.40" x2="219.80" y2="531.80" stroke="#e0e0e0" stroke-width="1.0"/>
<line x1="246.22" y1="387.40" x2="246.22" y2="531.80" stroke="#e0e0e0" stroke-width="1.0"/>
<line x1="272.64" y1="387.40" x2="272.64" y2="531.80" stroke="#e0e0e0" stroke-width="1.0"/>
<line x1="299.06" y1="387.40" x2="299.06" y2="531.80" stroke="#e0e0e0" stroke-width="1.0"/>
<line x1="325.48" y1="387.40" x2="325.48" y2="531.80" stroke="#e0e0e0" stroke-width="1.0"/>
<line x1="207.40" y1="416.28" x2="351.90" y2="416.28" stroke="#e0e0e0" stroke-width="1.1"/>
<line x1="207.40" y1="445.16" x2="351.90" y2="445.16" stroke="#e0e0e0" stroke-width="1.1"/>
<line x1="207.40" y1="474.04" x2="351.90" y2="474.04" stroke="#e0e0e0" stroke-width="1.1"/>
<line x1="207.40" y1="502.92" x2="351.90" y2="502.92" stroke="#e0e0e0" stroke-width="1.1"/>
<path d="M207.40,387.40 H351.90 V531.80" fill="none" stroke="#ababab" stroke-width="1.6"/>
<line x1="207.40" y1="387.40" x2="207.40" y2="531.80" stroke="#b8b8b8" stroke-width="1.2"/>
<line x1="207.40" y1="531.80" x2="351.90" y2="531.80" stroke="#909090" stroke-width="1.4"/>
<line x1="203.50" y1="531.80" x2="207.40" y2="531.80" stroke="#111" stroke-width="1.6"/>
<line x1="205.40" y1="523.11" x2="207.40" y2="523.11" stroke="#222" stroke-width="1.1"/>
<line x1="205.40" y1="518.02" x2="207.40" y2="518.02" stroke="#222" stroke-width="1.1"/>
<line x1="205.40" y1="514.41" x2="207.40" y2="514.41" stroke="#222" stroke-width="1.1"/>
<line x1="204.80" y1="511.61" x2="207.40" y2="511.61" stroke="#222" stroke-width="1.1"/>
<line x1="205.40" y1="509.33" x2="207.40" y2="509.33" stroke="#222" stroke-width="1.1"/>
<line x1="205.40" y1="507.39" x2="207.40" y2="507.39" stroke="#222" stroke-width="1.1"/>
<line x1="205.40" y1="505.72" x2="207.40" y2="505.72" stroke="#222" stroke-width="1.1"/>
<line x1="205.40" y1="504.24" x2="207.40" y2="504.24" stroke="#222" stroke-width="1.1"/>
<line x1="203.50" y1="502.92" x2="207.40" y2="502.92" stroke="#111" stroke-width="1.6"/>
<line x1="205.40" y1="494.23" x2="207.40" y2="494.23" stroke="#222" stroke-width="1.1"/>
<line x1="205.40" y1="489.14" x2="207.40" y2="489.14" stroke="#222" stroke-width="1.1"/>
<line x1="205.40" y1="485.53" x2="207.40" y2="485.53" stroke="#222" stroke-width="1.1"/>
<line x1="204.80" y1="482.73" x2="207.40" y2="482.73" stroke="#222" stroke-width="1.1"/>
<line x1="205.40" y1="480.45" x2="207.40" y2="480.45" stroke="#222" stroke-width="1.1"/>
<line x1="205.40" y1="478.51" x2="207.40" y2="478.51" stroke="#222" stroke-width="1.1"/>
<line x1="205.40" y1="476.84" x2="207.40" y2="476.84" stroke="#222" stroke-width="1.1"/>
<line x1="205.40" y1="475.36" x2="207.40" y2="475.36" stroke="#222" stroke-width="1.1"/>
<line x1="203.50" y1="474.04" x2="207.40" y2="474.04" stroke="#111" stroke-width="1.6"/>
<line x1="205.40" y1="465.35" x2="207.40" y2="465.35" stroke="#222" stroke-width="1.1"/>
<line x1="205.40" y1="460.26" x2="207.40" y2="460.26" stroke="#222" stroke-width="1.1"/>
<line x1="205.40" y1="456.65" x2="207.40" y2="456.65" stroke="#222" stroke-width="1.1"/>
<line x1="204.80" y1="453.85" x2="207.40" y2="453.85" stroke="#222" stroke-width="1.1"/>
<line x1="205.40" y1="451.57" x2="207.40" y2="451.57" stroke="#222" stroke-width="1.1"/>
<line x1="205.40" y1="449.63" x2="207.40" y2="449.63" stroke="#222" stroke-width="1.1"/>
<line x1="205.40" y1="447.96" x2="207.40" y2="447.96" stroke="#222" stroke-width="1.1"/>
<line x1="205.40" y1="446.48" x2="207.40" y2="446.48" stroke="#222" stroke-width="1.1"/>
<line x1="203.50" y1="445.16" x2="207.40" y2="445.16" stroke="#111" stroke-width="1.6"/>
<line x1="205.40" y1="436.47" x2="207.40" y2="436.47" stroke="#222" stroke-width="1.1"/>
<line x1="205.40" y1="431.38" x2="207.40" y2="431.38" stroke="#222" stroke-width="1.1"/>
<line x1="205.40" y1="427.77" x2="207.40" y2="427.77" stroke="#222" stroke-width="1.1"/>
<line x1="204.80" y1="424.97" x2="207.40" y2="424.97" stroke="#222" stroke-width="1.1"/>
<line x1="205.40" y1="422.69" x2="207.40" y2="422.69" stroke="#222" stroke-width="1.1"/>
<line x1="205.40" y1="420.75" x2="207.40" y2="420.75" stroke="#222" stroke-width="1.1"/>
<line x1="205.40" y1="419.08" x2="207.40" y2="419.08" stroke="#222" stroke-width="1.1"/>
<line x1="205.40" y1="417.60" x2="207.40" y2="417.60" stroke="#222" stroke-width="1.1"/>
<line x1="203.50" y1="416.28" x2="207.40" y2="416.28" stroke="#111" stroke-width="1.6"/>
<line x1="205.40" y1="407.59" x2="207.40" y2="407.59" stroke="#222" stroke-width="1.1"/>
<line x1="205.40" y1="402.50" x2="207.40" y2="402.50" stroke="#222" stroke-width="1.1"/>
<line x1="205.40" y1="398.89" x2="207.40" y2="398.89" stroke="#222" stroke-width="1.1"/>
<line x1="204.80" y1="396.09" x2="207.40" y2="396.09" stroke="#222" stroke-width="1.1"/>
<line x1="205.40" y1="393.81" x2="207.40" y2="393.81" stroke="#222" stroke-width="1.1"/>
<line x1="205.40" y1="391.87" x2="207.40" y2="391.87" stroke="#222" stroke-width="1.1"/>
<line x1="205.40" y1="390.20" x2="207.40" y2="390.20" stroke="#222" stroke-width="1.1"/>
<line x1="205.40" y1="388.72" x2="207.40" y2="388.72" stroke="#222" stroke-width="1.1"/>
<line x1="203.50" y1="387.40" x2="207.40" y2="387.40" stroke="#111" stroke-width="1.6"/>
<line x1="209.29" y1="531.80" x2="209.29" y2="534.20" stroke="#222" stroke-width="1.2"/>
<line x1="211.85" y1="531.80" x2="211.85" y2="534.80" stroke="#222" stroke-width="1.2"/>
<line x1="213.94" y1="531.80" x2="213.94" y2="534.20" stroke="#222" stroke-width="1.2"/>
<line x1="215.71" y1="531.80" x2="215.71" y2="534.20" stroke="#222" stroke-width="1.2"/>
<line x1="217.24" y1="531.80" x2="217.24" y2="534.20" stroke="#222" stroke-width="1.2"/>
<line x1="218.59" y1="531.80" x2="218.59" y2="534.20" stroke="#222" stroke-width="1.2"/>
<line x1="219.80" y1="531.80" x2="219.80" y2="536.10" stroke="#111" stroke-width="2.0"/>
<line x1="227.75" y1="531.80" x2="227.75" y2="534.20" stroke="#222" stroke-width="1.2"/>
<line x1="232.41" y1="531.80" x2="232.41" y2="534.20" stroke="#222" stroke-width="1.2"/>
<line x1="235.71" y1="531.80" x2="235.71" y2="534.20" stroke="#222" stroke-width="1.2"/>
<line x1="238.27" y1="531.80" x2="238.27" y2="534.80" stroke="#222" stroke-width="1.2"/>
<line x1="240.36" y1="531.80" x2="240.36" y2="534.20" stroke="#222" stroke-width="1.2"/>
<line x1="242.13" y1="531.80" x2="242.13" y2="534.20" stroke="#222" stroke-width="1.2"/>
<line x1="243.66" y1="531.80" x2="243.66" y2="534.20" stroke="#222" stroke-width="1.2"/>
<line x1="245.01" y1="531.80" x2="245.01" y2="534.20" stroke="#222" stroke-width="1.2"/>
<line x1="246.22" y1="531.80" x2="246.22" y2="536.10" stroke="#111" stroke-width="2.0"/>
<line x1="254.17" y1="531.80" x2="254.17" y2="534.20" stroke="#222" stroke-width="1.2"/>
<line x1="258.83" y1="531.80" x2="258.83" y2="534.20" stroke="#222" stroke-width="1.2"/>
<line x1="262.13" y1="531.80" x2="262.13" y2="534.20" stroke="#222" stroke-width="1.2"/>
<line x1="264.69" y1="531.80" x2="264.69" y2="534.80" stroke="#222" stroke-width="1.2"/>
<line x1="266.78" y1="531.80" x2="266.78" y2="534.20" stroke="#222" stroke-width="1.2"/>
<line x1="268.55" y1="531.80" x2="268.55" y2="534.20" stroke="#222" stroke-width="1.2"/>
<line x1="270.08" y1="531.80" x2="270.08" y2="534.20" stroke="#222" stroke-width="1.2"/>
<line x1="271.43" y1="531.80" x2="271.43" y2="534.20" stroke="#222" stroke-width="1.2"/>
<line x1="272.64" y1="531.80" x2="272.64" y2="536.10" stroke="#111" stroke-width="2.0"/>
<line x1="280.59" y1="531.80" x2="280.59" y2="534.20" stroke="#222" stroke-width="1.2"/>
<line x1="285.25" y1="531.80" x2="285.25" y2="534.20" stroke="#222" stroke-width="1.2"/>
<line x1="288.55" y1="531.80" x2="288.55" y2="534.20" stroke="#222" stroke-width="1.2"/>
<line x1="291.11" y1="531.80" x2="291.11" y2="534.80" stroke="#222" stroke-width="1.2"/>
<line x1="293.20" y1="531.80" x2="293.20" y2="534.20" stroke="#222" stroke-width="1.2"/>
<line x1="294.97" y1="531.80" x2="294.97" y2="534.20" stroke="#222" stroke-width="1.2"/>
<line x1="296.50" y1="531.80" x2="296.50" y2="534.20" stroke="#222" stroke-width="1.2"/>
<line x1="297.85" y1="531.80" x2="297.85" y2="534.20" stroke="#222" stroke-width="1.2"/>
<line x1="299.06" y1="531.80" x2="299.06" y2="536.10" stroke="#111" stroke-width="2.0"/>
<line x1="307.01" y1="531.80" x2="307.01" y2="534.20" stroke="#222" stroke-width="1.2"/>
<line x1="311.67" y1="531.80" x2="311.67" y2="534.20" stroke="#222" stroke-width="1.2"/>
<line x1="314.97" y1="531.80" x2="314.97" y2="534.20" stroke="#222" stroke-width="1.2"/>
<line x1="317.53" y1="531.80" x2="317.53" y2="534.80" stroke="#222" stroke-width="1.2"/>
<line x1="319.62" y1="531.80" x2="319.62" y2="534.20" stroke="#222" stroke-width="1.2"/>
<line x1="321.39" y1="531.80" x2="321.39" y2="534.20" stroke="#222" stroke-width="1.2"/>
<line x1="322.92" y1="531.80" x2="322.92" y2="534.20" stroke="#222" stroke-width="1.2"/>
<line x1="324.27" y1="531.80" x2="324.27" y2="534.20" stroke="#222" stroke-width="1.2"/>
<line x1="325.48" y1="531.80" x2="325.48" y2="536.10" stroke="#111" stroke-width="2.0"/>
<line x1="333.43" y1="531.80" x2="333.43" y2="534.20" stroke="#222" stroke-width="1.2"/>
<line x1="338.09" y1="531.80" x2="338.09" y2="534.20" stroke="#222" stroke-width="1.2"/>
<line x1="341.39" y1="531.80" x2="341.39" y2="534.20" stroke="#222" stroke-width="1.2"/>
<line x1="343.95" y1="531.80" x2="343.95" y2="534.80" stroke="#222" stroke-width="1.2"/>
<line x1="346.04" y1="531.80" x2="346.04" y2="534.20" stroke="#222" stroke-width="1.2"/>
<line x1="347.81" y1="531.80" x2="347.81" y2="534.20" stroke="#222" stroke-width="1.2"/>
<line x1="349.34" y1="531.80" x2="349.34" y2="534.20" stroke="#222" stroke-width="1.2"/>
<line x1="350.69" y1="531.80" x2="350.69" y2="534.20" stroke="#222" stroke-width="1.2"/>
<line x1="351.90" y1="531.80" x2="351.90" y2="536.10" stroke="#111" stroke-width="2.0"/>
<line x1="376.10" y1="387.40" x2="376.10" y2="531.80" stroke="#e0e0e0" stroke-width="1.0"/>
<line x1="402.58" y1="387.40" x2="402.58" y2="531.80" stroke="#e0e0e0" stroke-width="1.0"/>
<line x1="429.06" y1="387.40" x2="429.06" y2="531.80" stroke="#e0e0e0" stroke-width="1.0"/>
<line x1="455.54" y1="387.40" x2="455.54" y2="531.80" stroke="#e0e0e0" stroke-width="1.0"/>
<line x1="482.02" y1="387.40" x2="482.02" y2="531.80" stroke="#e0e0e0" stroke-width="1.0"/>
<line x1="363.70" y1="416.28" x2="508.50" y2="416.28" stroke="#e0e0e0" stroke-width="1.1"/>
<line x1="363.70" y1="445.16" x2="508.50" y2="445.16" stroke="#e0e0e0" stroke-width="1.1"/>
<line x1="363.70" y1="474.04" x2="508.50" y2="474.04" stroke="#e0e0e0" stroke-width="1.1"/>
<line x1="363.70" y1="502.92" x2="508.50" y2="502.92" stroke="#e0e0e0" stroke-width="1.1"/>
<path d="M363.70,387.40 H508.50 V531.80" fill="none" stroke="#ababab" stroke-width="1.6"/>
<line x1="363.70" y1="387.40" x2="363.70" y2="531.80" stroke="#b8b8b8" stroke-width="1.2"/>
<line x1="363.70" y1="531.80" x2="508.50" y2="531.80" stroke="#909090" stroke-width="1.4"/>
<line x1="359.80" y1="531.80" x2="363.70" y2="531.80" stroke="#111" stroke-width="1.6"/>
<line x1="361.70" y1="523.11" x2="363.70" y2="523.11" stroke="#222" stroke-width="1.1"/>
<line x1="361.70" y1="518.02" x2="363.70" y2="518.02" stroke="#222" stroke-width="1.1"/>
<line x1="361.70" y1="514.41" x2="363.70" y2="514.41" stroke="#222" stroke-width="1.1"/>
<line x1="361.10" y1="511.61" x2="363.70" y2="511.61" stroke="#222" stroke-width="1.1"/>
<line x1="361.70" y1="509.33" x2="363.70" y2="509.33" stroke="#222" stroke-width="1.1"/>
<line x1="361.70" y1="507.39" x2="363.70" y2="507.39" stroke="#222" stroke-width="1.1"/>
<line x1="361.70" y1="505.72" x2="363.70" y2="505.72" stroke="#222" stroke-width="1.1"/>
<line x1="361.70" y1="504.24" x2="363.70" y2="504.24" stroke="#222" stroke-width="1.1"/>
<line x1="359.80" y1="502.92" x2="363.70" y2="502.92" stroke="#111" stroke-width="1.6"/>
<line x1="361.70" y1="494.23" x2="363.70" y2="494.23" stroke="#222" stroke-width="1.1"/>
<line x1="361.70" y1="489.14" x2="363.70" y2="489.14" stroke="#222" stroke-width="1.1"/>
<line x1="361.70" y1="485.53" x2="363.70" y2="485.53" stroke="#222" stroke-width="1.1"/>
<line x1="361.10" y1="482.73" x2="363.70" y2="482.73" stroke="#222" stroke-width="1.1"/>
<line x1="361.70" y1="480.45" x2="363.70" y2="480.45" stroke="#222" stroke-width="1.1"/>
<line x1="361.70" y1="478.51" x2="363.70" y2="478.51" stroke="#222" stroke-width="1.1"/>
<line x1="361.70" y1="476.84" x2="363.70" y2="476.84" stroke="#222" stroke-width="1.1"/>
<line x1="361.70" y1="475.36" x2="363.70" y2="475.36" stroke="#222" stroke-width="1.1"/>
<line x1="359.80" y1="474.04" x2="363.70" y2="474.04" stroke="#111" stroke-width="1.6"/>
<line x1="361.70" y1="465.35" x2="363.70" y2="465.35" stroke="#222" stroke-width="1.1"/>
<line x1="361.70" y1="460.26" x2="363.70" y2="460.26" stroke="#222" stroke-width="1.1"/>
<line x1="361.70" y1="456.65" x2="363.70" y2="456.65" stroke="#222" stroke-width="1.1"/>
<line x1="361.10" y1="453.85" x2="363.70" y2="453.85" stroke="#222" stroke-width="1.1"/>
<line x1="361.70" y1="451.57" x2="363.70" y2="451.57" stroke="#222" stroke-width="1.1"/>
<line x1="361.70" y1="449.63" x2="363.70" y2="449.63" stroke="#222" stroke-width="1.1"/>
<line x1="361.70" y1="447.96" x2="363.70" y2="447.96" stroke="#222" stroke-width="1.1"/>
<line x1="361.70" y1="446.48" x2="363.70" y2="446.48" stroke="#222" stroke-width="1.1"/>
<line x1="359.80" y1="445.16" x2="363.70" y2="445.16" stroke="#111" stroke-width="1.6"/>
<line x1="361.70" y1="436.47" x2="363.70" y2="436.47" stroke="#222" stroke-width="1.1"/>
<line x1="361.70" y1="431.38" x2="363.70" y2="431.38" stroke="#222" stroke-width="1.1"/>
<line x1="361.70" y1="427.77" x2="363.70" y2="427.77" stroke="#222" stroke-width="1.1"/>
<line x1="361.10" y1="424.97" x2="363.70" y2="424.97" stroke="#222" stroke-width="1.1"/>
<line x1="361.70" y1="422.69" x2="363.70" y2="422.69" stroke="#222" stroke-width="1.1"/>
<line x1="361.70" y1="420.75" x2="363.70" y2="420.75" stroke="#222" stroke-width="1.1"/>
<line x1="361.70" y1="419.08" x2="363.70" y2="419.08" stroke="#222" stroke-width="1.1"/>
<line x1="361.70" y1="417.60" x2="363.70" y2="417.60" stroke="#222" stroke-width="1.1"/>
<line x1="359.80" y1="416.28" x2="363.70" y2="416.28" stroke="#111" stroke-width="1.6"/>
<line x1="361.70" y1="407.59" x2="363.70" y2="407.59" stroke="#222" stroke-width="1.1"/>
<line x1="361.70" y1="402.50" x2="363.70" y2="402.50" stroke="#222" stroke-width="1.1"/>
<line x1="361.70" y1="398.89" x2="363.70" y2="398.89" stroke="#222" stroke-width="1.1"/>
<line x1="361.10" y1="396.09" x2="363.70" y2="396.09" stroke="#222" stroke-width="1.1"/>
<line x1="361.70" y1="393.81" x2="363.70" y2="393.81" stroke="#222" stroke-width="1.1"/>
<line x1="361.70" y1="391.87" x2="363.70" y2="391.87" stroke="#222" stroke-width="1.1"/>
<line x1="361.70" y1="390.20" x2="363.70" y2="390.20" stroke="#222" stroke-width="1.1"/>
<line x1="361.70" y1="388.72" x2="363.70" y2="388.72" stroke="#222" stroke-width="1.1"/>
<line x1="359.80" y1="387.40" x2="363.70" y2="387.40" stroke="#111" stroke-width="1.6"/>
<line x1="365.56" y1="531.80" x2="365.56" y2="534.20" stroke="#222" stroke-width="1.2"/>
<line x1="368.13" y1="531.80" x2="368.13" y2="534.80" stroke="#222" stroke-width="1.2"/>
<line x1="370.23" y1="531.80" x2="370.23" y2="534.20" stroke="#222" stroke-width="1.2"/>
<line x1="372.00" y1="531.80" x2="372.00" y2="534.20" stroke="#222" stroke-width="1.2"/>
<line x1="373.53" y1="531.80" x2="373.53" y2="534.20" stroke="#222" stroke-width="1.2"/>
<line x1="374.89" y1="531.80" x2="374.89" y2="534.20" stroke="#222" stroke-width="1.2"/>
<line x1="376.10" y1="531.80" x2="376.10" y2="536.10" stroke="#111" stroke-width="2.0"/>
<line x1="384.07" y1="531.80" x2="384.07" y2="534.20" stroke="#222" stroke-width="1.2"/>
<line x1="388.73" y1="531.80" x2="388.73" y2="534.20" stroke="#222" stroke-width="1.2"/>
<line x1="392.04" y1="531.80" x2="392.04" y2="534.20" stroke="#222" stroke-width="1.2"/>
<line x1="394.61" y1="531.80" x2="394.61" y2="534.80" stroke="#222" stroke-width="1.2"/>
<line x1="396.71" y1="531.80" x2="396.71" y2="534.20" stroke="#222" stroke-width="1.2"/>
<line x1="398.48" y1="531.80" x2="398.48" y2="534.20" stroke="#222" stroke-width="1.2"/>
<line x1="400.01" y1="531.80" x2="400.01" y2="534.20" stroke="#222" stroke-width="1.2"/>
<line x1="401.37" y1="531.80" x2="401.37" y2="534.20" stroke="#222" stroke-width="1.2"/>
<line x1="402.58" y1="531.80" x2="402.58" y2="536.10" stroke="#111" stroke-width="2.0"/>
<line x1="410.55" y1="531.80" x2="410.55" y2="534.20" stroke="#222" stroke-width="1.2"/>
<line x1="415.21" y1="531.80" x2="415.21" y2="534.20" stroke="#222" stroke-width="1.2"/>
<line x1="418.52" y1="531.80" x2="418.52" y2="534.20" stroke="#222" stroke-width="1.2"/>
<line x1="421.09" y1="531.80" x2="421.09" y2="534.80" stroke="#222" stroke-width="1.2"/>
<line x1="423.19" y1="531.80" x2="423.19" y2="534.20" stroke="#222" stroke-width="1.2"/>
<line x1="424.96" y1="531.80" x2="424.96" y2="534.20" stroke="#222" stroke-width="1.2"/>
<line x1="426.49" y1="531.80" x2="426.49" y2="534.20" stroke="#222" stroke-width="1.2"/>
<line x1="427.85" y1="531.80" x2="427.85" y2="534.20" stroke="#222" stroke-width="1.2"/>
<line x1="429.06" y1="531.80" x2="429.06" y2="536.10" stroke="#111" stroke-width="2.0"/>
<line x1="437.03" y1="531.80" x2="437.03" y2="534.20" stroke="#222" stroke-width="1.2"/>
<line x1="441.69" y1="531.80" x2="441.69" y2="534.20" stroke="#222" stroke-width="1.2"/>
<line x1="445.00" y1="531.80" x2="445.00" y2="534.20" stroke="#222" stroke-width="1.2"/>
<line x1="447.57" y1="531.80" x2="447.57" y2="534.80" stroke="#222" stroke-width="1.2"/>
<line x1="449.67" y1="531.80" x2="449.67" y2="534.20" stroke="#222" stroke-width="1.2"/>
<line x1="451.44" y1="531.80" x2="451.44" y2="534.20" stroke="#222" stroke-width="1.2"/>
<line x1="452.97" y1="531.80" x2="452.97" y2="534.20" stroke="#222" stroke-width="1.2"/>
<line x1="454.33" y1="531.80" x2="454.33" y2="534.20" stroke="#222" stroke-width="1.2"/>
<line x1="455.54" y1="531.80" x2="455.54" y2="536.10" stroke="#111" stroke-width="2.0"/>
<line x1="463.51" y1="531.80" x2="463.51" y2="534.20" stroke="#222" stroke-width="1.2"/>
<line x1="468.17" y1="531.80" x2="468.17" y2="534.20" stroke="#222" stroke-width="1.2"/>
<line x1="471.48" y1="531.80" x2="471.48" y2="534.20" stroke="#222" stroke-width="1.2"/>
<line x1="474.05" y1="531.80" x2="474.05" y2="534.80" stroke="#222" stroke-width="1.2"/>
<line x1="476.15" y1="531.80" x2="476.15" y2="534.20" stroke="#222" stroke-width="1.2"/>
<line x1="477.92" y1="531.80" x2="477.92" y2="534.20" stroke="#222" stroke-width="1.2"/>
<line x1="479.45" y1="531.80" x2="479.45" y2="534.20" stroke="#222" stroke-width="1.2"/>
<line x1="480.81" y1="531.80" x2="480.81" y2="534.20" stroke="#222" stroke-width="1.2"/>
<line x1="482.02" y1="531.80" x2="482.02" y2="536.10" stroke="#111" stroke-width="2.0"/>
<line x1="489.99" y1="531.80" x2="489.99" y2="534.20" stroke="#222" stroke-width="1.2"/>
<line x1="494.65" y1="531.80" x2="494.65" y2="534.20" stroke="#222" stroke-width="1.2"/>
<line x1="497.96" y1="531.80" x2="497.96" y2="534.20" stroke="#222" stroke-width="1.2"/>
<line x1="500.53" y1="531.80" x2="500.53" y2="534.80" stroke="#222" stroke-width="1.2"/>
<line x1="502.63" y1="531.80" x2="502.63" y2="534.20" stroke="#222" stroke-width="1.2"/>
<line x1="504.40" y1="531.80" x2="504.40" y2="534.20" stroke="#222" stroke-width="1.2"/>
<line x1="505.93" y1="531.80" x2="505.93" y2="534.20" stroke="#222" stroke-width="1.2"/>
<line x1="507.29" y1="531.80" x2="507.29" y2="534.20" stroke="#222" stroke-width="1.2"/>
<line x1="508.50" y1="531.80" x2="508.50" y2="536.10" stroke="#111" stroke-width="2.0"/>
<line x1="533.90" y1="387.40" x2="533.90" y2="531.80" stroke="#e0e0e0" stroke-width="1.0"/>
<line x1="560.30" y1="387.40" x2="560.30" y2="531.80" stroke="#e0e0e0" stroke-width="1.0"/>
<line x1="586.70" y1="387.40" x2="586.70" y2="531.80" stroke="#e0e0e0" stroke-width="1.0"/>
<line x1="613.10" y1="387.40" x2="613.10" y2="531.80" stroke="#e0e0e0" stroke-width="1.0"/>
<line x1="639.50" y1="387.40" x2="639.50" y2="531.80" stroke="#e0e0e0" stroke-width="1.0"/>
<line x1="521.50" y1="416.28" x2="665.90" y2="416.28" stroke="#e0e0e0" stroke-width="1.1"/>
<line x1="521.50" y1="445.16" x2="665.90" y2="445.16" stroke="#e0e0e0" stroke-width="1.1"/>
<line x1="521.50" y1="474.04" x2="665.90" y2="474.04" stroke="#e0e0e0" stroke-width="1.1"/>
<line x1="521.50" y1="502.92" x2="665.90" y2="502.92" stroke="#e0e0e0" stroke-width="1.1"/>
<path d="M521.50,387.40 H665.90 V531.80" fill="none" stroke="#ababab" stroke-width="1.6"/>
<line x1="521.50" y1="387.40" x2="521.50" y2="531.80" stroke="#b8b8b8" stroke-width="1.2"/>
<line x1="521.50" y1="531.80" x2="665.90" y2="531.80" stroke="#909090" stroke-width="1.4"/>
<line x1="517.60" y1="531.80" x2="521.50" y2="531.80" stroke="#111" stroke-width="1.6"/>
<line x1="519.50" y1="523.11" x2="521.50" y2="523.11" stroke="#222" stroke-width="1.1"/>
<line x1="519.50" y1="518.02" x2="521.50" y2="518.02" stroke="#222" stroke-width="1.1"/>
<line x1="519.50" y1="514.41" x2="521.50" y2="514.41" stroke="#222" stroke-width="1.1"/>
<line x1="518.90" y1="511.61" x2="521.50" y2="511.61" stroke="#222" stroke-width="1.1"/>
<line x1="519.50" y1="509.33" x2="521.50" y2="509.33" stroke="#222" stroke-width="1.1"/>
<line x1="519.50" y1="507.39" x2="521.50" y2="507.39" stroke="#222" stroke-width="1.1"/>
<line x1="519.50" y1="505.72" x2="521.50" y2="505.72" stroke="#222" stroke-width="1.1"/>
<line x1="519.50" y1="504.24" x2="521.50" y2="504.24" stroke="#222" stroke-width="1.1"/>
<line x1="517.60" y1="502.92" x2="521.50" y2="502.92" stroke="#111" stroke-width="1.6"/>
<line x1="519.50" y1="494.23" x2="521.50" y2="494.23" stroke="#222" stroke-width="1.1"/>
<line x1="519.50" y1="489.14" x2="521.50" y2="489.14" stroke="#222" stroke-width="1.1"/>
<line x1="519.50" y1="485.53" x2="521.50" y2="485.53" stroke="#222" stroke-width="1.1"/>
<line x1="518.90" y1="482.73" x2="521.50" y2="482.73" stroke="#222" stroke-width="1.1"/>
<line x1="519.50" y1="480.45" x2="521.50" y2="480.45" stroke="#222" stroke-width="1.1"/>
<line x1="519.50" y1="478.51" x2="521.50" y2="478.51" stroke="#222" stroke-width="1.1"/>
<line x1="519.50" y1="476.84" x2="521.50" y2="476.84" stroke="#222" stroke-width="1.1"/>
<line x1="519.50" y1="475.36" x2="521.50" y2="475.36" stroke="#222" stroke-width="1.1"/>
<line x1="517.60" y1="474.04" x2="521.50" y2="474.04" stroke="#111" stroke-width="1.6"/>
<line x1="519.50" y1="465.35" x2="521.50" y2="465.35" stroke="#222" stroke-width="1.1"/>
<line x1="519.50" y1="460.26" x2="521.50" y2="460.26" stroke="#222" stroke-width="1.1"/>
<line x1="519.50" y1="456.65" x2="521.50" y2="456.65" stroke="#222" stroke-width="1.1"/>
<line x1="518.90" y1="453.85" x2="521.50" y2="453.85" stroke="#222" stroke-width="1.1"/>
<line x1="519.50" y1="451.57" x2="521.50" y2="451.57" stroke="#222" stroke-width="1.1"/>
<line x1="519.50" y1="449.63" x2="521.50" y2="449.63" stroke="#222" stroke-width="1.1"/>
<line x1="519.50" y1="447.96" x2="521.50" y2="447.96" stroke="#222" stroke-width="1.1"/>
<line x1="519.50" y1="446.48" x2="521.50" y2="446.48" stroke="#222" stroke-width="1.1"/>
<line x1="517.60" y1="445.16" x2="521.50" y2="445.16" stroke="#111" stroke-width="1.6"/>
<line x1="519.50" y1="436.47" x2="521.50" y2="436.47" stroke="#222" stroke-width="1.1"/>
<line x1="519.50" y1="431.38" x2="521.50" y2="431.38" stroke="#222" stroke-width="1.1"/>
<line x1="519.50" y1="427.77" x2="521.50" y2="427.77" stroke="#222" stroke-width="1.1"/>
<line x1="518.90" y1="424.97" x2="521.50" y2="424.97" stroke="#222" stroke-width="1.1"/>
<line x1="519.50" y1="422.69" x2="521.50" y2="422.69" stroke="#222" stroke-width="1.1"/>
<line x1="519.50" y1="420.75" x2="521.50" y2="420.75" stroke="#222" stroke-width="1.1"/>
<line x1="519.50" y1="419.08" x2="521.50" y2="419.08" stroke="#222" stroke-width="1.1"/>
<line x1="519.50" y1="417.60" x2="521.50" y2="417.60" stroke="#222" stroke-width="1.1"/>
<line x1="517.60" y1="416.28" x2="521.50" y2="416.28" stroke="#111" stroke-width="1.6"/>
<line x1="519.50" y1="407.59" x2="521.50" y2="407.59" stroke="#222" stroke-width="1.1"/>
<line x1="519.50" y1="402.50" x2="521.50" y2="402.50" stroke="#222" stroke-width="1.1"/>
<line x1="519.50" y1="398.89" x2="521.50" y2="398.89" stroke="#222" stroke-width="1.1"/>
<line x1="518.90" y1="396.09" x2="521.50" y2="396.09" stroke="#222" stroke-width="1.1"/>
<line x1="519.50" y1="393.81" x2="521.50" y2="393.81" stroke="#222" stroke-width="1.1"/>
<line x1="519.50" y1="391.87" x2="521.50" y2="391.87" stroke="#222" stroke-width="1.1"/>
<line x1="519.50" y1="390.20" x2="521.50" y2="390.20" stroke="#222" stroke-width="1.1"/>
<line x1="519.50" y1="388.72" x2="521.50" y2="388.72" stroke="#222" stroke-width="1.1"/>
<line x1="517.60" y1="387.40" x2="521.50" y2="387.40" stroke="#111" stroke-width="1.6"/>
<line x1="523.39" y1="531.80" x2="523.39" y2="534.20" stroke="#222" stroke-width="1.2"/>
<line x1="525.95" y1="531.80" x2="525.95" y2="534.80" stroke="#222" stroke-width="1.2"/>
<line x1="528.04" y1="531.80" x2="528.04" y2="534.20" stroke="#222" stroke-width="1.2"/>
<line x1="529.81" y1="531.80" x2="529.81" y2="534.20" stroke="#222" stroke-width="1.2"/>
<line x1="531.34" y1="531.80" x2="531.34" y2="534.20" stroke="#222" stroke-width="1.2"/>
<line x1="532.69" y1="531.80" x2="532.69" y2="534.20" stroke="#222" stroke-width="1.2"/>
<line x1="533.90" y1="531.80" x2="533.90" y2="536.10" stroke="#111" stroke-width="2.0"/>
<line x1="541.85" y1="531.80" x2="541.85" y2="534.20" stroke="#222" stroke-width="1.2"/>
<line x1="546.50" y1="531.80" x2="546.50" y2="534.20" stroke="#222" stroke-width="1.2"/>
<line x1="549.79" y1="531.80" x2="549.79" y2="534.20" stroke="#222" stroke-width="1.2"/>
<line x1="552.35" y1="531.80" x2="552.35" y2="534.80" stroke="#222" stroke-width="1.2"/>
<line x1="554.44" y1="531.80" x2="554.44" y2="534.20" stroke="#222" stroke-width="1.2"/>
<line x1="556.21" y1="531.80" x2="556.21" y2="534.20" stroke="#222" stroke-width="1.2"/>
<line x1="557.74" y1="531.80" x2="557.74" y2="534.20" stroke="#222" stroke-width="1.2"/>
<line x1="559.09" y1="531.80" x2="559.09" y2="534.20" stroke="#222" stroke-width="1.2"/>
<line x1="560.30" y1="531.80" x2="560.30" y2="536.10" stroke="#111" stroke-width="2.0"/>
<line x1="568.25" y1="531.80" x2="568.25" y2="534.20" stroke="#222" stroke-width="1.2"/>
<line x1="572.90" y1="531.80" x2="572.90" y2="534.20" stroke="#222" stroke-width="1.2"/>
<line x1="576.19" y1="531.80" x2="576.19" y2="534.20" stroke="#222" stroke-width="1.2"/>
<line x1="578.75" y1="531.80" x2="578.75" y2="534.80" stroke="#222" stroke-width="1.2"/>
<line x1="580.84" y1="531.80" x2="580.84" y2="534.20" stroke="#222" stroke-width="1.2"/>
<line x1="582.61" y1="531.80" x2="582.61" y2="534.20" stroke="#222" stroke-width="1.2"/>
<line x1="584.14" y1="531.80" x2="584.14" y2="534.20" stroke="#222" stroke-width="1.2"/>
<line x1="585.49" y1="531.80" x2="585.49" y2="534.20" stroke="#222" stroke-width="1.2"/>
<line x1="586.70" y1="531.80" x2="586.70" y2="536.10" stroke="#111" stroke-width="2.0"/>
<line x1="594.65" y1="531.80" x2="594.65" y2="534.20" stroke="#222" stroke-width="1.2"/>
<line x1="599.30" y1="531.80" x2="599.30" y2="534.20" stroke="#222" stroke-width="1.2"/>
<line x1="602.59" y1="531.80" x2="602.59" y2="534.20" stroke="#222" stroke-width="1.2"/>
<line x1="605.15" y1="531.80" x2="605.15" y2="534.80" stroke="#222" stroke-width="1.2"/>
<line x1="607.24" y1="531.80" x2="607.24" y2="534.20" stroke="#222" stroke-width="1.2"/>
<line x1="609.01" y1="531.80" x2="609.01" y2="534.20" stroke="#222" stroke-width="1.2"/>
<line x1="610.54" y1="531.80" x2="610.54" y2="534.20" stroke="#222" stroke-width="1.2"/>
<line x1="611.89" y1="531.80" x2="611.89" y2="534.20" stroke="#222" stroke-width="1.2"/>
<line x1="613.10" y1="531.80" x2="613.10" y2="536.10" stroke="#111" stroke-width="2.0"/>
<line x1="621.05" y1="531.80" x2="621.05" y2="534.20" stroke="#222" stroke-width="1.2"/>
<line x1="625.70" y1="531.80" x2="625.70" y2="534.20" stroke="#222" stroke-width="1.2"/>
<line x1="628.99" y1="531.80" x2="628.99" y2="534.20" stroke="#222" stroke-width="1.2"/>
<line x1="631.55" y1="531.80" x2="631.55" y2="534.80" stroke="#222" stroke-width="1.2"/>
<line x1="633.64" y1="531.80" x2="633.64" y2="534.20" stroke="#222" stroke-width="1.2"/>
<line x1="635.41" y1="531.80" x2="635.41" y2="534.20" stroke="#222" stroke-width="1.2"/>
<line x1="636.94" y1="531.80" x2="636.94" y2="534.20" stroke="#222" stroke-width="1.2"/>
<line x1="638.29" y1="531.80" x2="638.29" y2="534.20" stroke="#222" stroke-width="1.2"/>
<line x1="639.50" y1="531.80" x2="639.50" y2="536.10" stroke="#111" stroke-width="2.0"/>
<line x1="647.45" y1="531.80" x2="647.45" y2="534.20" stroke="#222" stroke-width="1.2"/>
<line x1="652.10" y1="531.80" x2="652.10" y2="534.20" stroke="#222" stroke-width="1.2"/>
<line x1="655.39" y1="531.80" x2="655.39" y2="534.20" stroke="#222" stroke-width="1.2"/>
<line x1="657.95" y1="531.80" x2="657.95" y2="534.80" stroke="#222" stroke-width="1.2"/>
<line x1="660.04" y1="531.80" x2="660.04" y2="534.20" stroke="#222" stroke-width="1.2"/>
<line x1="661.81" y1="531.80" x2="661.81" y2="534.20" stroke="#222" stroke-width="1.2"/>
<line x1="663.34" y1="531.80" x2="663.34" y2="534.20" stroke="#222" stroke-width="1.2"/>
<line x1="664.69" y1="531.80" x2="664.69" y2="534.20" stroke="#222" stroke-width="1.2"/>
<line x1="665.90" y1="531.80" x2="665.90" y2="536.10" stroke="#111" stroke-width="2.0"/>
<path d="M80.8,501.4 78.4,501.6 60.4,501.4 57.4,501.1 55.4,500.5 54.2,499.8 53.2,498.8 52.5,497.6 51.9,496.0 51.5,494.2 51.5,492.4 51.7,490.6 52.3,488.8 53.2,487.2 54.6,485.9 56.4,485.1 58.4,484.7 62.4,484.6 77.2,484.6 80.2,484.9 82.2,485.5 84.2,486.9 86.0,489.2 87.1,491.8 87.4,494.4 87.2,495.6 86.7,497.0 85.2,499.2 83.2,500.7 80.8,501.4Z" fill="none" stroke="#969696" stroke-width="0.65"/>
<path d="M79.0,500.4 60.6,500.2 57.8,500.0 56.0,499.5 54.8,498.8 54.0,498.0 53.3,497.0 52.7,495.6 52.3,494.0 52.2,492.6 52.4,491.2 52.9,489.8 53.8,488.2 55.0,487.1 56.6,486.3 58.6,485.9 62.4,485.7 76.8,485.7 79.6,485.9 81.6,486.5 83.6,487.8 85.1,489.8 86.0,492.4 86.2,493.8 86.0,495.0 85.2,497.2 83.6,499.0 81.6,500.0 79.0,500.4Z" fill="none" stroke="#868686" stroke-width="0.65"/>
<path d="M78.8,499.2 61.2,499.0 58.8,498.9 57.0,498.5 55.2,497.5 53.8,495.8 53.1,493.4 53.3,491.2 54.1,489.6 55.2,488.4 56.6,487.7 58.6,487.2 62.2,486.9 76.2,486.9 78.8,487.0 80.6,487.4 82.5,488.4 83.9,490.0 84.8,492.2 84.9,494.4 84.3,496.4 83.0,497.9 81.2,498.8 78.8,499.2Z" fill="none" stroke="#767676" stroke-width="0.65"/>
<path d="M80.0,497.8 77.8,498.0 62.2,497.8 58.2,497.4 56.4,496.8 55.0,495.6 54.1,494.0 54.0,492.2 54.6,490.8 55.8,489.6 57.2,488.8 59.0,488.4 62.4,488.2 75.8,488.2 79.6,488.4 81.4,489.1 82.6,490.1 83.5,491.6 83.8,493.2 83.6,494.8 82.8,496.3 81.6,497.3 80.0,497.8Z" fill="none" stroke="#676767" stroke-width="0.65"/>
<path d="M78.6,496.6 62.4,496.5 59.0,496.2 57.2,495.7 55.8,494.8 55.1,493.6 55.0,492.4 55.5,491.4 56.4,490.6 57.8,489.9 59.6,489.6 75.4,489.4 78.8,489.6 80.4,490.0 81.6,490.8 82.4,492.0 82.6,493.2 82.3,494.6 81.5,495.6 80.2,496.3 78.6,496.6Z" fill="none" stroke="#575757" stroke-width="0.65"/>
<path d="M78.0,495.4 63.0,495.4 59.6,495.2 58.0,494.8 56.8,494.2 56.1,493.4 56.1,492.6 56.4,491.9 57.2,491.3 58.4,490.8 60.0,490.5 74.6,490.4 78.0,490.5 79.4,490.8 80.4,491.4 81.1,492.2 81.3,493.0 81.0,494.0 80.4,494.7 79.4,495.2 78.0,495.4Z" fill="none" stroke="#474747" stroke-width="0.65"/>
<path d="M77.8,494.4 75.2,494.6 60.8,494.4 58.2,493.9 57.6,493.4 57.3,492.8 57.6,492.2 58.3,491.8 60.8,491.3 76.8,491.3 78.8,491.7 79.4,492.0 79.9,492.6 79.9,493.2 79.5,493.8 77.8,494.4Z" fill="none" stroke="#383838" stroke-width="0.65"/>
<path d="M75.8,493.8 61.8,493.8 59.6,493.4 59.2,493.2 59.0,492.8 59.4,492.4 59.9,492.2 61.6,491.9 73.4,491.9 77.0,492.1 78.0,492.4 78.3,492.8 78.2,493.2 77.8,493.5 75.8,493.8Z" fill="none" stroke="#282828" stroke-width="0.65"/>
<path d="M74.0,493.2 63.8,493.1 62.0,493.0 61.8,492.8 63.6,492.5 73.4,492.5 75.4,492.6 76.0,492.8 75.6,493.1 74.0,493.2Z" fill="none" stroke="#191919" stroke-width="0.65"/>
<path d="M75.4,519.2 62.8,519.3 60.6,519.1 59.0,518.8 57.4,517.9 56.4,516.6 56.0,514.8 56.2,513.0 56.9,511.8 57.8,510.9 59.0,510.4 60.6,510.1 64.8,509.9 74.0,509.9 76.4,510.1 78.0,510.4 79.5,511.2 80.5,512.4 81.0,514.2 80.8,516.0 80.1,517.4 79.0,518.4 77.6,518.9 75.4,519.2Z" fill="none" stroke="#8c8c8c" stroke-width="0.65"/>
<path d="M71.0,517.4 64.6,517.5 60.4,517.1 59.2,516.6 58.5,516.0 58.0,515.0 58.1,514.0 58.8,512.8 60.0,512.2 62.2,511.7 65.4,511.5 76.0,512.0 77.7,512.6 78.7,513.6 78.9,514.4 78.8,515.4 78.4,516.0 77.6,516.7 75.4,517.2 71.0,517.4Z" fill="none" stroke="#787878" stroke-width="0.65"/>
<path d="M68.0,515.8 65.8,516.0 63.6,515.7 62.2,515.2 61.7,514.8 61.7,514.4 62.1,513.8 63.0,513.4 64.4,513.1 66.0,512.9 69.2,513.4 70.2,513.8 71.0,514.4 70.9,514.8 70.3,515.2 68.0,515.8Z" fill="none" stroke="#646464" stroke-width="0.65"/>
<path d="M59,481 C58,476 63,474 67,475.5 C71,476.5 74,474 78,475.5 C81,477 81,481 79,482.5" fill="none" stroke="#888" stroke-width="0.6"/>
<path d="M62,480 C62,477.5 66,476.8 68,478 C70,479 68,481 65,481 Z" fill="none" stroke="#999" stroke-width="0.5"/>
<path d="M51.0,481 L52.6,483 L52.8,530 L51.0,531 Z" fill="#222"/>
<path d="M250.8,504.4 247.6,504.1 245.2,503.3 242.8,501.7 240.8,499.4 239.4,496.6 238.7,493.6 238.8,490.4 239.6,487.6 240.5,485.6 241.8,483.8 243.4,482.2 245.0,481.1 247.0,480.1 249.4,479.3 251.4,479.1 254.8,479.1 256.0,478.8 257.2,477.8 259.0,475.0 260.2,473.7 261.6,472.8 262.4,472.7 263.0,472.9 263.6,473.3 264.0,474.0 264.4,476.0 264.2,478.2 263.1,481.8 262.9,483.2 263.0,484.8 264.0,488.6 264.3,490.8 264.2,493.6 263.5,496.0 262.6,497.8 261.5,499.4 260.2,500.8 258.6,502.0 257.0,502.9 255.0,503.7 253.0,504.2 250.8,504.4Z" fill="none" stroke="#6e6e6e" stroke-width="0.65"/>
<path d="M243.2,522.2 241.8,522.1 240.2,521.7 238.6,520.9 237.0,519.9 236.0,518.9 235.2,517.8 234.7,516.6 234.4,515.2 234.6,513.8 235.0,512.6 235.7,511.4 236.6,510.5 238.2,509.3 239.8,508.4 241.4,507.9 242.8,507.7 245.0,508.1 246.0,508.7 247.0,509.6 247.9,510.8 248.5,512.0 248.9,513.4 249.0,514.8 248.7,517.4 248.1,518.8 247.4,519.9 245.6,521.5 244.4,522.0 243.2,522.2Z" fill="none" stroke="#6e6e6e" stroke-width="0.65"/>
<path d="M252.0,503.0 249.2,503.0 246.4,502.4 244.0,501.0 242.2,499.2 240.8,496.8 240.0,494.2 240.0,491.2 240.6,488.4 241.5,486.4 242.7,484.8 244.2,483.2 245.8,482.1 248.0,481.1 250.2,480.6 252.2,480.5 255.8,480.7 257.2,480.4 258.4,479.5 260.4,476.5 261.2,476.0 261.8,476.0 262.3,476.6 262.4,477.8 261.3,481.4 261.1,482.8 261.3,484.4 262.5,488.2 262.9,490.4 262.9,492.8 262.3,495.2 261.6,496.8 260.7,498.2 258.4,500.5 255.4,502.2 252.0,503.0Z" fill="none" stroke="#646464" stroke-width="0.65"/>
<path d="M243.2,520.8 242.0,520.8 240.8,520.5 238.2,519.1 237.2,518.2 236.5,517.2 236.0,516.2 235.9,515.2 235.9,514.2 236.2,513.2 237.6,511.4 240.0,509.8 242.4,509.2 244.4,509.5 246.1,510.6 247.3,512.4 247.8,514.6 247.6,516.8 246.6,518.8 245.1,520.2 243.2,520.8Z" fill="none" stroke="#646464" stroke-width="0.65"/>
<path d="M250.6,501.8 248.2,501.6 246.2,500.9 244.4,499.7 242.8,498.0 241.8,496.0 241.2,493.8 241.2,491.4 241.7,489.0 242.7,487.0 244.0,485.2 245.8,483.7 247.8,482.6 249.8,482.0 252.0,481.8 254.4,482.1 257.0,482.7 258.2,483.2 259.0,484.0 260.0,485.6 260.9,487.8 261.4,489.6 261.6,491.2 261.5,493.0 261.1,494.6 260.5,496.0 259.6,497.4 258.6,498.6 257.2,499.7 255.6,500.6 254.0,501.3 252.2,501.7 250.6,501.8Z" fill="none" stroke="#5a5a5a" stroke-width="0.65"/>
<path d="M243.0,519.2 241.2,519.0 239.4,518.0 238.1,516.6 237.7,515.2 237.9,513.8 238.9,512.4 240.4,511.3 242.2,510.8 243.8,511.0 245.0,511.7 246.0,513.0 246.4,514.6 246.3,516.2 245.6,517.7 244.4,518.8 243.0,519.2Z" fill="none" stroke="#5a5a5a" stroke-width="0.65"/>
<path d="M251.8,500.4 250.0,500.5 248.2,500.2 246.6,499.6 245.2,498.7 244.0,497.4 243.1,496.0 242.6,494.4 242.4,492.6 242.5,490.8 243.0,489.0 243.9,487.4 245.0,486.0 246.4,484.8 248.0,483.9 249.8,483.4 251.6,483.2 253.4,483.3 255.0,483.7 256.4,484.3 257.7,485.2 258.7,486.4 259.5,488.0 260.1,489.8 260.2,491.4 260.1,493.0 259.6,494.6 258.9,496.0 257.8,497.4 256.6,498.5 255.2,499.4 253.6,500.0 251.8,500.4Z" fill="none" stroke="#505050" stroke-width="0.65"/>
<path d="M243.2,516.8 242.4,517.0 241.6,516.8 240.8,516.2 240.5,515.6 240.4,514.8 240.6,514.2 241.0,513.6 241.7,513.2 242.4,513.0 243.2,513.2 243.8,513.6 244.2,514.2 244.4,515.0 244.2,515.8 243.8,516.4 243.2,516.8Z" fill="none" stroke="#505050" stroke-width="0.65"/>
<path d="M250.6,499.2 249.0,499.1 247.6,498.6 246.2,497.8 245.2,496.8 244.4,495.6 243.9,494.2 243.6,492.8 243.7,491.2 244.1,489.8 244.8,488.3 245.8,487.0 247.0,486.0 248.4,485.2 249.8,484.7 251.2,484.5 252.8,484.6 254.2,484.9 255.4,485.5 256.5,486.2 257.4,487.2 258.1,488.4 258.6,489.8 258.8,491.2 258.7,492.6 258.4,494.0 257.8,495.2 257.0,496.3 256.0,497.3 254.8,498.1 253.4,498.7 250.6,499.2Z" fill="none" stroke="#464646" stroke-width="0.65"/>
<path d="M251.6,497.8 250.2,497.9 249.0,497.7 247.8,497.3 246.8,496.6 246.1,495.8 245.4,494.8 245.0,493.6 244.9,492.4 245.0,491.2 245.4,490.0 246.0,488.8 246.8,487.8 247.8,487.0 249.0,486.4 251.4,485.9 253.6,486.2 255.6,487.4 256.9,489.2 257.4,491.4 257.0,493.6 255.8,495.6 254.0,497.0 251.6,497.8Z" fill="none" stroke="#3c3c3c" stroke-width="0.65"/>
<path d="M252.0,496.4 250.0,496.6 248.2,495.9 246.8,494.6 246.2,493.0 246.4,491.0 247.2,489.3 248.6,488.0 250.6,487.3 252.6,487.3 254.2,488.1 255.4,489.4 256.0,491.0 255.8,492.8 255.0,494.4 253.8,495.6 252.0,496.4Z" fill="none" stroke="#323232" stroke-width="0.65"/>
<path d="M251.4,495.2 250.0,495.2 248.7,494.6 247.8,493.6 247.5,492.2 247.8,490.8 248.6,489.7 249.8,488.8 251.2,488.5 252.4,488.7 253.6,489.4 254.3,490.4 254.6,491.6 254.4,492.8 253.6,494.0 252.6,494.8 251.4,495.2Z" fill="none" stroke="#282828" stroke-width="0.65"/>
<path d="M251.6,493.8 250.8,494.0 250.0,493.8 249.4,493.4 248.9,492.6 248.9,491.8 249.2,491.0 249.8,490.3 250.6,490.0 251.4,489.9 252.2,490.1 252.7,490.6 253.1,491.2 253.1,492.0 252.9,492.8 252.3,493.4 251.6,493.8Z" fill="none" stroke="#1e1e1e" stroke-width="0.65"/>
<line x1="236.00" y1="530.20" x2="248.00" y2="530.20" stroke="#888" stroke-width="1.0"/>
<path d="M207.6,508 L209.4,512 L209.4,519 L207.6,522 Z" fill="#777"/>
<path d="M406.4,506.0 401.8,506.0 396.8,505.4 393.6,504.3 390.9,502.6 388.7,500.2 387.9,498.8 387.4,497.2 387.0,495.6 387.0,494.0 387.2,492.4 387.7,490.6 388.9,488.2 390.8,485.8 393.6,483.3 397.0,480.9 399.8,479.5 402.8,478.5 405.6,478.2 409.8,478.2 411.0,478.0 412.0,477.2 414.2,473.8 415.6,472.3 417.4,471.4 419.0,471.4 420.0,472.1 420.7,473.0 421.1,474.2 421.2,475.6 420.7,478.4 419.0,482.4 418.6,483.8 418.7,485.2 419.6,489.2 419.8,491.6 419.7,494.2 419.0,496.8 418.2,498.6 417.1,500.2 415.8,501.8 414.2,503.1 412.4,504.3 410.6,505.1 408.6,505.7 406.4,506.0Z" fill="none" stroke="#6e6e6e" stroke-width="0.65"/>
<path d="M388.4,521.6 385.4,521.5 382.2,520.9 372.0,517.5 370.6,516.7 369.8,515.8 369.5,514.8 369.6,513.8 370.6,512.6 372.4,511.7 381.6,509.2 385.4,508.5 388.8,508.3 392.0,508.7 394.8,509.6 397.0,510.9 398.5,512.4 399.2,514.2 399.2,516.0 398.2,517.8 396.6,519.3 394.2,520.5 391.4,521.3 388.4,521.6Z" fill="none" stroke="#6e6e6e" stroke-width="0.65"/>
<path d="M405.8,504.6 401.6,504.5 397.4,503.9 394.4,502.9 392.0,501.4 390.1,499.2 388.9,496.6 388.7,495.2 388.7,493.6 389.3,490.8 390.5,488.6 392.4,486.4 395.2,484.0 398.2,481.9 401.2,480.5 404.2,479.7 406.8,479.6 411.2,480.1 412.6,479.9 413.2,479.5 413.7,479.0 414.9,476.2 415.8,475.0 417.0,474.2 418.0,474.2 418.6,474.6 419.0,475.2 419.2,476.2 419.1,477.2 418.4,479.0 416.8,481.6 416.5,482.8 416.6,484.2 417.9,488.6 418.3,491.0 418.2,493.8 417.5,496.6 416.7,498.2 415.6,499.8 414.4,501.1 413.0,502.2 411.4,503.1 409.6,503.9 405.8,504.6Z" fill="none" stroke="#646464" stroke-width="0.65"/>
<path d="M389.8,520.4 387.6,520.5 385.2,520.4 380.6,519.3 372.8,516.2 371.7,515.2 371.6,514.2 372.2,513.5 373.2,512.9 380.8,510.5 383.6,509.8 386.0,509.5 388.4,509.4 390.8,509.7 392.8,510.2 395.0,511.3 396.6,512.7 397.4,514.4 397.3,516.0 396.4,517.5 394.8,518.8 392.4,519.9 389.8,520.4Z" fill="none" stroke="#646464" stroke-width="0.65"/>
<path d="M405.0,503.2 402.0,503.1 398.6,502.6 396.0,501.8 394.0,500.7 392.3,499.2 391.1,497.4 390.5,495.4 390.4,493.4 391.0,491.2 392.2,489.0 394.2,486.8 397.0,484.4 399.8,482.7 402.2,481.7 404.8,481.1 407.2,481.2 409.4,481.6 411.8,482.3 413.2,483.1 414.2,484.1 415.3,486.0 416.3,488.4 416.8,490.8 416.8,493.0 416.5,495.0 415.7,497.0 414.5,498.8 413.0,500.3 411.4,501.5 409.4,502.4 407.4,502.9 405.0,503.2Z" fill="none" stroke="#5a5a5a" stroke-width="0.65"/>
<path d="M389.8,519.2 387.8,519.4 385.8,519.3 381.8,518.3 379.6,517.4 377.9,516.4 376.8,515.4 376.6,514.6 377.4,513.6 379.1,512.6 381.2,511.7 383.6,511.0 385.8,510.7 388.0,510.6 390.0,510.8 391.8,511.2 393.6,512.1 394.8,513.2 395.4,514.4 395.4,515.6 394.8,516.8 393.6,517.8 391.8,518.7 389.8,519.2Z" fill="none" stroke="#5a5a5a" stroke-width="0.65"/>
<path d="M406.6,501.6 404.2,501.8 401.4,501.5 398.6,500.9 396.4,500.1 394.8,499.1 393.5,497.8 392.7,496.2 392.3,494.6 392.4,492.8 393.1,491.0 394.2,489.2 396.0,487.2 398.4,485.3 400.6,483.9 402.8,483.0 405.0,482.6 407.0,482.6 408.8,483.0 410.6,483.7 412.2,484.7 413.4,486.0 414.4,487.6 415.0,489.4 415.4,491.2 415.3,493.0 415.0,494.8 414.3,496.4 413.2,498.0 412.0,499.2 410.4,500.4 408.6,501.1 406.6,501.6Z" fill="none" stroke="#505050" stroke-width="0.65"/>
<path d="M388.6,518.0 385.6,517.9 382.6,517.0 380.8,515.8 380.5,515.0 380.6,514.4 381.3,513.6 382.3,513.0 385.2,512.1 388.4,511.9 391.0,512.6 392.0,513.2 392.8,514.0 393.0,514.8 392.9,515.8 392.2,516.6 391.4,517.2 390.2,517.7 388.6,518.0Z" fill="none" stroke="#505050" stroke-width="0.65"/>
<path d="M406.0,500.2 404.0,500.3 401.8,500.1 399.6,499.5 397.6,498.7 396.3,497.8 395.2,496.6 394.6,495.4 394.3,494.0 394.6,492.4 395.2,490.8 396.4,489.1 398.1,487.4 400.0,485.9 401.8,484.9 403.6,484.3 405.6,484.0 407.2,484.2 408.8,484.6 410.2,485.3 411.4,486.2 412.5,487.4 413.2,488.8 413.7,490.2 413.9,491.8 413.8,493.4 413.4,494.8 412.7,496.2 411.8,497.4 410.6,498.5 409.2,499.3 407.6,499.9 406.0,500.2Z" fill="none" stroke="#464646" stroke-width="0.65"/>
<path d="M387.8,516.0 385.9,515.8 385.3,515.4 385.1,514.8 385.4,514.4 386.4,514.0 387.6,513.9 388.6,514.2 389.1,514.6 389.2,515.2 388.8,515.7 387.8,516.0Z" fill="none" stroke="#464646" stroke-width="0.65"/>
<path d="M405.6,498.8 404.0,498.8 402.2,498.6 400.4,498.0 399.0,497.4 398.0,496.6 397.1,495.6 396.7,494.6 396.5,493.4 396.8,492.0 397.5,490.6 398.5,489.2 399.8,487.9 401.2,486.9 402.8,486.1 404.2,485.7 405.8,485.5 407.2,485.7 408.4,486.0 409.6,486.7 410.6,487.5 411.9,489.6 412.3,490.8 412.4,492.2 411.9,494.6 411.2,495.8 410.4,496.7 409.4,497.5 408.2,498.2 405.6,498.8Z" fill="none" stroke="#3c3c3c" stroke-width="0.65"/>
<path d="M406.4,497.2 403.8,497.3 401.3,496.6 399.6,495.3 399.1,494.6 398.8,493.6 398.8,492.6 399.0,491.6 400.3,489.6 402.2,488.0 404.6,487.1 406.8,487.1 408.6,487.8 410.0,489.2 410.8,491.2 410.7,493.2 409.9,495.0 408.4,496.4 406.4,497.2Z" fill="none" stroke="#323232" stroke-width="0.65"/>
<path d="M406.0,495.8 404.2,495.9 402.6,495.4 401.4,494.4 400.8,493.0 401.0,491.6 402.0,490.1 403.4,489.0 405.0,488.5 406.6,488.6 407.9,489.2 408.8,490.2 409.3,491.6 409.2,493.0 408.6,494.2 407.5,495.2 406.0,495.8Z" fill="none" stroke="#282828" stroke-width="0.65"/>
<path d="M405.6,494.4 404.6,494.4 403.6,494.0 403.0,493.4 402.7,492.6 402.9,491.6 403.4,490.8 404.2,490.2 405.2,489.9 406.2,490.0 406.9,490.4 407.5,491.0 407.8,491.8 407.7,492.8 407.2,493.6 406.4,494.2 405.6,494.4Z" fill="none" stroke="#1e1e1e" stroke-width="0.65"/>
<line x1="370.00" y1="530.20" x2="395.00" y2="530.20" stroke="#888" stroke-width="1.1"/>
<path d="M364,503 L366,507 L366.2,528 L364,530 Z" fill="#333"/>
<path d="M548.6,526.4 543.8,526.1 536.4,524.5 530.6,522.9 526.8,521.2 524.2,519.2 523.2,518.0 522.6,516.8 522.2,515.6 522.1,514.2 522.4,512.8 523.0,511.6 523.9,510.4 525.2,509.3 526.6,508.4 528.4,507.7 531.0,507.1 537.0,506.2 544.2,504.9 548.0,504.6 551.4,504.9 554.6,505.7 557.2,506.9 558.8,508.0 560.3,509.4 561.3,510.8 562.1,512.4 562.6,514.2 562.7,515.8 562.5,517.4 562.0,519.0 561.1,520.6 559.9,522.0 558.4,523.3 556.8,524.3 554.8,525.2 552.8,525.9 548.6,526.4Z" fill="none" stroke="#6e6e6e" stroke-width="0.65"/>
<path d="M549.6,525.2 545.8,525.2 541.6,524.4 533.6,522.3 528.8,520.4 526.3,518.8 524.7,516.8 524.3,515.8 524.1,514.6 524.3,513.4 524.7,512.4 525.4,511.3 526.4,510.4 527.6,509.7 529.2,509.0 544.0,506.1 547.2,505.7 550.2,505.9 553.2,506.5 555.6,507.4 557.0,508.3 558.4,509.4 559.5,510.6 560.4,512.0 560.9,513.4 561.2,514.8 561.2,516.4 560.9,517.8 560.3,519.2 559.3,520.6 558.2,521.8 556.8,522.9 555.2,523.8 553.4,524.5 549.6,525.2Z" fill="none" stroke="#646464" stroke-width="0.65"/>
<path d="M550.0,524.0 546.6,524.1 542.8,523.5 536.2,521.5 531.0,519.6 528.6,518.2 527.0,516.6 526.6,515.8 526.4,514.8 526.7,513.2 527.2,512.4 528.0,511.6 530.2,510.5 544.0,507.3 546.8,506.9 549.4,506.9 551.8,507.3 554.2,508.1 556.9,509.8 557.9,510.8 558.7,512.0 559.3,513.2 559.7,514.6 559.7,516.0 559.5,517.2 559.1,518.4 558.4,519.6 557.4,520.7 556.2,521.7 553.2,523.3 550.0,524.0Z" fill="none" stroke="#5a5a5a" stroke-width="0.65"/>
<path d="M550.2,522.8 547.2,523.0 544.0,522.5 540.6,521.5 536.0,519.7 532.6,518.1 530.6,516.8 529.6,515.4 529.5,514.6 529.6,514.0 530.4,513.0 532.0,512.1 544.2,508.4 546.6,508.1 549.0,508.1 551.2,508.4 553.2,509.0 555.6,510.4 557.3,512.4 558.1,514.6 558.1,516.8 557.1,519.0 555.4,520.7 553.0,522.1 550.2,522.8Z" fill="none" stroke="#505050" stroke-width="0.65"/>
<path d="M548.8,521.8 546.6,521.8 544.4,521.4 542.0,520.6 539.6,519.6 537.3,518.2 535.5,516.8 534.7,515.6 534.8,514.6 535.9,513.4 538.4,512.0 541.6,510.5 544.4,509.6 546.8,509.2 549.0,509.2 551.0,509.5 553.0,510.3 554.9,511.6 556.2,513.4 556.7,515.2 556.4,517.2 555.3,519.0 553.6,520.4 551.4,521.4 548.8,521.8Z" fill="none" stroke="#464646" stroke-width="0.65"/>
<path d="M549.2,520.6 547.2,520.7 545.2,520.3 543.2,519.7 541.2,518.6 539.9,517.6 538.9,516.4 538.7,515.2 539.1,514.2 540.2,513.0 541.8,512.0 543.8,511.1 545.8,510.5 547.8,510.3 549.6,510.4 551.4,510.9 552.8,511.6 554.0,512.6 554.9,514.0 555.2,515.6 554.9,517.0 554.0,518.4 552.8,519.4 551.2,520.2 549.2,520.6Z" fill="none" stroke="#3c3c3c" stroke-width="0.65"/>
<path d="M549.4,519.4 547.8,519.5 546.0,519.3 544.4,518.8 543.0,518.0 542.1,517.2 541.5,516.2 541.4,515.2 541.8,514.2 542.5,513.4 543.6,512.6 545.0,512.0 546.6,511.6 548.2,511.5 549.6,511.6 550.9,512.0 552.0,512.6 552.8,513.4 553.4,514.4 553.6,515.6 553.4,516.6 552.8,517.6 552.0,518.4 550.8,519.0 549.4,519.4Z" fill="none" stroke="#323232" stroke-width="0.65"/>
<path d="M548.0,518.4 546.8,518.3 545.6,517.9 544.6,517.4 543.8,516.6 543.5,515.8 543.5,515.0 544.0,514.2 544.7,513.6 546.4,512.8 548.6,512.6 550.4,513.1 551.7,514.2 552.1,515.6 551.9,516.4 551.5,517.0 550.0,518.0 548.0,518.4Z" fill="none" stroke="#282828" stroke-width="0.65"/>
<path d="M548.6,517.2 547.0,517.1 545.8,516.5 545.4,515.6 545.7,514.6 546.7,514.0 547.8,513.7 549.0,513.9 550.0,514.4 550.5,515.2 550.4,516.0 549.7,516.8 548.6,517.2Z" fill="none" stroke="#1e1e1e" stroke-width="0.65"/>
<line x1="525.00" y1="521.00" x2="540.00" y2="530.00" stroke="#888" stroke-width="0.6"/>
<line x1="527.00" y1="530.30" x2="561.00" y2="530.30" stroke="#444" stroke-width="1.5"/>
<path d="M521.8,505 L523.8,509 L524,530 L521.8,531 Z" fill="#222"/>
<line x1="82.90" y1="394.80" x2="82.90" y2="414.80" stroke="#1626c8" stroke-width="2.5"/>
<line x1="82.90" y1="422.90" x2="82.90" y2="442.90" stroke="#1626c8" stroke-width="2.5"/>
<line x1="82.90" y1="451.00" x2="82.90" y2="471.00" stroke="#1626c8" stroke-width="2.5"/>
<line x1="82.90" y1="479.10" x2="82.90" y2="499.10" stroke="#1626c8" stroke-width="2.5"/>
<line x1="82.90" y1="507.20" x2="82.90" y2="527.20" stroke="#1626c8" stroke-width="2.5"/>
<line x1="238.30" y1="394.80" x2="238.30" y2="414.80" stroke="#1626c8" stroke-width="2.5"/>
<line x1="238.30" y1="422.90" x2="238.30" y2="442.90" stroke="#1626c8" stroke-width="2.5"/>
<line x1="238.30" y1="451.00" x2="238.30" y2="471.00" stroke="#1626c8" stroke-width="2.5"/>
<line x1="238.30" y1="479.10" x2="238.30" y2="499.10" stroke="#1626c8" stroke-width="2.5"/>
<line x1="238.30" y1="507.20" x2="238.30" y2="527.20" stroke="#1626c8" stroke-width="2.5"/>
<line x1="395.50" y1="394.80" x2="395.50" y2="414.80" stroke="#1626c8" stroke-width="2.5"/>
<line x1="395.50" y1="422.90" x2="395.50" y2="442.90" stroke="#1626c8" stroke-width="2.5"/>
<line x1="395.50" y1="451.00" x2="395.50" y2="471.00" stroke="#1626c8" stroke-width="2.5"/>
<line x1="395.50" y1="479.10" x2="395.50" y2="499.10" stroke="#1626c8" stroke-width="2.5"/>
<line x1="395.50" y1="507.20" x2="395.50" y2="527.20" stroke="#1626c8" stroke-width="2.5"/>
<line x1="551.00" y1="394.80" x2="551.00" y2="414.80" stroke="#1626c8" stroke-width="2.5"/>
<line x1="551.00" y1="422.90" x2="551.00" y2="442.90" stroke="#1626c8" stroke-width="2.5"/>
<line x1="551.00" y1="451.00" x2="551.00" y2="471.00" stroke="#1626c8" stroke-width="2.5"/>
<line x1="551.00" y1="479.10" x2="551.00" y2="499.10" stroke="#1626c8" stroke-width="2.5"/>
<line x1="551.00" y1="507.20" x2="551.00" y2="527.20" stroke="#1626c8" stroke-width="2.5"/>
<g transform="translate(42.50,530.52) rotate(-90) scale(1.0,1.06)"><text x="0" y="0" font-size="22.57" fill="#000">488-SSC</text></g>
<path d="M33.3,391.9 L41,407.3 L36,407.3 L36,427.4 L30.8,427.4 L30.8,407.3 L25.5,407.3 Z" fill="#000"/>
<text transform="translate(59.98,566.90) scale(1,1.05)" font-size="23" fill="#000">CFSE</text>
<path d="M140,553.1 H645.7 V547.6 L661.5,555.6 L645.7,563.6 V558.2 H140 Z" fill="#000"/>
<text x="419.30" y="443.00" font-size="15.4" fill="#000">Stained EVs</text>
<text x="421.65" y="460.60" font-size="15.4" fill="#000">above noise</text>
<text x="576.64" y="444.90" font-size="15.3" fill="#000">Excess dye</text>
<text transform="translate(2.60,617.50) scale(1,1.05)" font-size="24.5" font-weight="bold" fill="#000">C</text>
<line x1="60.60" y1="649.80" x2="60.60" y2="735.20" stroke="#222" stroke-width="1.3"/>
<line x1="277.00" y1="647.60" x2="277.00" y2="735.20" stroke="#222" stroke-width="1.3"/>
<line x1="56.60" y1="734.60" x2="60.60" y2="734.60" stroke="#222" stroke-width="1.3"/>
<line x1="56.60" y1="701.50" x2="60.60" y2="701.50" stroke="#222" stroke-width="1.3"/>
<line x1="56.60" y1="668.40" x2="60.60" y2="668.40" stroke="#222" stroke-width="1.3"/>
<line x1="58.10" y1="718.05" x2="60.60" y2="718.05" stroke="#222" stroke-width="1.1"/>
<line x1="58.10" y1="684.95" x2="60.60" y2="684.95" stroke="#222" stroke-width="1.1"/>
<line x1="58.10" y1="651.85" x2="60.60" y2="651.85" stroke="#222" stroke-width="1.1"/>
<line x1="277.00" y1="734.60" x2="280.50" y2="734.60" stroke="#222" stroke-width="1.3"/>
<line x1="277.00" y1="706.05" x2="280.50" y2="706.05" stroke="#222" stroke-width="1.3"/>
<line x1="277.00" y1="677.50" x2="280.50" y2="677.50" stroke="#222" stroke-width="1.3"/>
<line x1="277.00" y1="648.95" x2="280.50" y2="648.95" stroke="#222" stroke-width="1.3"/>
<text transform="translate(51.52,737.90) scale(1,1.05)" font-size="10.6" fill="#000">0</text>
<text transform="translate(51.55,704.80) scale(1,1.05)" font-size="10.6" fill="#000">5</text>
<text transform="translate(45.62,671.70) scale(1,1.05)" font-size="10.6" fill="#000">10</text>
<text transform="translate(280.59,738.20) scale(1,1.05)" font-size="10.6" fill="#000">0</text>
<text transform="translate(280.47,709.65) scale(1,1.05)" font-size="10.6" fill="#000">20000</text>
<text transform="translate(280.76,681.10) scale(1,1.05)" font-size="10.6" fill="#000">40000</text>
<text transform="translate(280.46,652.55) scale(1,1.05)" font-size="10.6" fill="#000">60000</text>
<line x1="68.10" y1="729.30" x2="68.10" y2="731.29" stroke="#444" stroke-width="1.3"/>
<line x1="65.80" y1="729.30" x2="70.40" y2="729.30" stroke="#444" stroke-width="1.3"/>
<rect x="63.70" y="731.29" width="8.80" height="3.31" fill="#b91f3d"/>
<line x1="81.56" y1="732.28" x2="81.56" y2="733.94" stroke="#444" stroke-width="1.3"/>
<line x1="79.26" y1="732.28" x2="83.86" y2="732.28" stroke="#444" stroke-width="1.3"/>
<rect x="77.16" y="733.94" width="8.80" height="0.66" fill="#b91f3d"/>
<line x1="95.02" y1="668.40" x2="95.02" y2="678.99" stroke="#444" stroke-width="1.3"/>
<line x1="92.72" y1="668.40" x2="97.32" y2="668.40" stroke="#444" stroke-width="1.3"/>
<rect x="90.62" y="678.99" width="8.80" height="55.61" fill="#b91f3d"/>
<line x1="108.48" y1="667.08" x2="108.48" y2="682.96" stroke="#444" stroke-width="1.3"/>
<line x1="106.18" y1="667.08" x2="110.78" y2="667.08" stroke="#444" stroke-width="1.3"/>
<rect x="104.08" y="682.96" width="8.80" height="51.64" fill="#b91f3d"/>
<line x1="121.94" y1="725.99" x2="121.94" y2="729.63" stroke="#444" stroke-width="1.3"/>
<line x1="119.64" y1="725.99" x2="124.24" y2="725.99" stroke="#444" stroke-width="1.3"/>
<rect x="117.54" y="729.63" width="8.80" height="4.97" fill="#b91f3d"/>
<line x1="135.40" y1="731.29" x2="135.40" y2="732.95" stroke="#444" stroke-width="1.3"/>
<line x1="133.10" y1="731.29" x2="137.70" y2="731.29" stroke="#444" stroke-width="1.3"/>
<rect x="131.00" y="732.95" width="8.80" height="1.65" fill="#b91f3d"/>
<line x1="148.86" y1="732.28" x2="148.86" y2="733.28" stroke="#444" stroke-width="1.3"/>
<line x1="146.56" y1="732.28" x2="151.16" y2="732.28" stroke="#444" stroke-width="1.3"/>
<rect x="144.46" y="733.28" width="8.80" height="1.32" fill="#b91f3d"/>
<line x1="162.32" y1="730.63" x2="162.32" y2="733.61" stroke="#444" stroke-width="1.3"/>
<line x1="160.02" y1="730.63" x2="164.62" y2="730.63" stroke="#444" stroke-width="1.3"/>
<rect x="157.92" y="733.61" width="8.80" height="0.99" fill="#b91f3d"/>
<line x1="175.78" y1="729.97" x2="175.78" y2="732.61" stroke="#444" stroke-width="1.3"/>
<line x1="173.48" y1="729.97" x2="178.08" y2="729.97" stroke="#444" stroke-width="1.3"/>
<rect x="171.38" y="732.61" width="8.80" height="1.99" fill="#b91f3d"/>
<line x1="202.70" y1="731.62" x2="202.70" y2="732.61" stroke="#444" stroke-width="1.3"/>
<line x1="200.40" y1="731.62" x2="205.00" y2="731.62" stroke="#444" stroke-width="1.3"/>
<rect x="198.30" y="732.61" width="8.80" height="1.99" fill="#b91f3d"/>
<line x1="216.16" y1="732.28" x2="216.16" y2="734.27" stroke="#444" stroke-width="1.3"/>
<line x1="213.86" y1="732.28" x2="218.46" y2="732.28" stroke="#444" stroke-width="1.3"/>
<rect x="211.76" y="734.27" width="8.80" height="0.33" fill="#b91f3d"/>
<line x1="229.62" y1="731.95" x2="229.62" y2="734.27" stroke="#444" stroke-width="1.3"/>
<line x1="227.32" y1="731.95" x2="231.92" y2="731.95" stroke="#444" stroke-width="1.3"/>
<rect x="225.22" y="734.27" width="8.80" height="0.33" fill="#b91f3d"/>
<line x1="243.08" y1="729.30" x2="243.08" y2="732.61" stroke="#444" stroke-width="1.3"/>
<line x1="240.78" y1="729.30" x2="245.38" y2="729.30" stroke="#444" stroke-width="1.3"/>
<rect x="238.68" y="732.61" width="8.80" height="1.99" fill="#b91f3d"/>
<line x1="256.54" y1="732.61" x2="256.54" y2="734.27" stroke="#444" stroke-width="1.3"/>
<line x1="254.24" y1="732.61" x2="258.84" y2="732.61" stroke="#444" stroke-width="1.3"/>
<rect x="252.14" y="734.27" width="8.80" height="0.33" fill="#b91f3d"/>
<line x1="270.00" y1="725.33" x2="270.00" y2="729.63" stroke="#444" stroke-width="1.3"/>
<line x1="267.70" y1="725.33" x2="272.30" y2="725.33" stroke="#444" stroke-width="1.3"/>
<rect x="265.60" y="729.63" width="8.80" height="4.97" fill="#b91f3d"/>
<line x1="60.60" y1="734.60" x2="277.00" y2="734.60" stroke="#222" stroke-width="1.4"/>
<line x1="68.10" y1="734.60" x2="68.10" y2="737.80" stroke="#222" stroke-width="1.4"/>
<line x1="81.56" y1="734.60" x2="81.56" y2="737.80" stroke="#222" stroke-width="1.4"/>
<line x1="95.02" y1="734.60" x2="95.02" y2="737.80" stroke="#222" stroke-width="1.4"/>
<line x1="108.48" y1="734.60" x2="108.48" y2="737.80" stroke="#222" stroke-width="1.4"/>
<line x1="121.94" y1="734.60" x2="121.94" y2="737.80" stroke="#222" stroke-width="1.4"/>
<line x1="135.40" y1="734.60" x2="135.40" y2="737.80" stroke="#222" stroke-width="1.4"/>
<line x1="148.86" y1="734.60" x2="148.86" y2="737.80" stroke="#222" stroke-width="1.4"/>
<line x1="162.32" y1="734.60" x2="162.32" y2="737.80" stroke="#222" stroke-width="1.4"/>
<line x1="175.78" y1="734.60" x2="175.78" y2="737.80" stroke="#222" stroke-width="1.4"/>
<line x1="189.24" y1="734.60" x2="189.24" y2="737.80" stroke="#222" stroke-width="1.4"/>
<line x1="202.70" y1="734.60" x2="202.70" y2="737.80" stroke="#222" stroke-width="1.4"/>
<line x1="216.16" y1="734.60" x2="216.16" y2="737.80" stroke="#222" stroke-width="1.4"/>
<line x1="229.62" y1="734.60" x2="229.62" y2="737.80" stroke="#222" stroke-width="1.4"/>
<line x1="243.08" y1="734.60" x2="243.08" y2="737.80" stroke="#222" stroke-width="1.4"/>
<line x1="256.54" y1="734.60" x2="256.54" y2="737.80" stroke="#222" stroke-width="1.4"/>
<line x1="270.00" y1="734.60" x2="270.00" y2="737.80" stroke="#222" stroke-width="1.4"/>
<text transform="translate(64.45,749.00) scale(1,1.05)" font-size="12.5" fill="#000">1</text>
<text transform="translate(78.08,749.00) scale(1,1.05)" font-size="12.5" fill="#000">2</text>
<text transform="translate(91.58,749.00) scale(1,1.05)" font-size="12.5" fill="#000">3</text>
<text transform="translate(105.04,749.00) scale(1,1.05)" font-size="12.5" fill="#000">4</text>
<text transform="translate(118.48,749.00) scale(1,1.05)" font-size="12.5" fill="#000">5</text>
<text transform="translate(131.88,749.00) scale(1,1.05)" font-size="12.5" fill="#000">6</text>
<text transform="translate(145.38,749.00) scale(1,1.05)" font-size="12.5" fill="#000">7</text>
<text transform="translate(158.84,749.00) scale(1,1.05)" font-size="12.5" fill="#000">8</text>
<text transform="translate(172.31,749.00) scale(1,1.05)" font-size="12.5" fill="#000">9</text>
<text transform="translate(182.06,749.00) scale(1,1.05)" font-size="12.5" fill="#000">10</text>
<text transform="translate(195.58,749.00) scale(1,1.05)" font-size="12.5" fill="#000">11</text>
<text transform="translate(209.05,749.00) scale(1,1.05)" font-size="12.5" fill="#000">12</text>
<text transform="translate(222.47,749.00) scale(1,1.05)" font-size="12.5" fill="#000">13</text>
<text transform="translate(235.84,749.00) scale(1,1.05)" font-size="12.5" fill="#000">14</text>
<text transform="translate(249.37,749.00) scale(1,1.05)" font-size="12.5" fill="#000">15</text>
<text transform="translate(262.85,749.00) scale(1,1.05)" font-size="12.5" fill="#000">16</text>
<polyline points="68.10,719.30 81.56,719.30 95.02,653.20 108.48,654.40 121.94,714.50 135.40,717.40 148.86,719.10 162.32,719.20 175.78,719.00 189.24,718.40 202.70,719.00 216.16,719.00 229.62,719.00 243.08,718.80 256.54,718.60 270.00,717.80" fill="none" stroke="#4a5fe0" stroke-width="1.3"/>
<circle cx="68.10" cy="719.30" r="2.9" fill="#0b0b2e"/>
<circle cx="81.56" cy="719.30" r="2.9" fill="#0b0b2e"/>
<circle cx="95.02" cy="653.20" r="2.9" fill="#0b0b2e"/>
<circle cx="108.48" cy="654.40" r="2.9" fill="#0b0b2e"/>
<circle cx="121.94" cy="714.50" r="2.9" fill="#0b0b2e"/>
<circle cx="135.40" cy="717.40" r="2.9" fill="#0b0b2e"/>
<circle cx="148.86" cy="719.10" r="2.9" fill="#0b0b2e"/>
<circle cx="162.32" cy="719.20" r="2.9" fill="#0b0b2e"/>
<circle cx="175.78" cy="719.00" r="2.9" fill="#0b0b2e"/>
<circle cx="189.24" cy="718.40" r="2.9" fill="#0b0b2e"/>
<circle cx="202.70" cy="719.00" r="2.9" fill="#0b0b2e"/>
<circle cx="216.16" cy="719.00" r="2.9" fill="#0b0b2e"/>
<circle cx="229.62" cy="719.00" r="2.9" fill="#0b0b2e"/>
<circle cx="243.08" cy="718.80" r="2.9" fill="#0b0b2e"/>
<circle cx="256.54" cy="718.60" r="2.9" fill="#0b0b2e"/>
<circle cx="270.00" cy="717.80" r="2.9" fill="#0b0b2e"/>
<text transform="translate(128.03,775.80) scale(1,1.05)" font-size="22.2" fill="#000">Fractions</text>
<g transform="translate(38.50,741.93) rotate(-90) scale(0.97,1.0)"><text x="0" y="0" font-size="17.4" font-weight="bold" fill="#a8183e">EVs (10<tspan font-size="11.5" dy="-7.2">8</tspan><tspan dy="7.2">) / ml</tspan></text></g>
<g transform="translate(320.60,631.89) rotate(90) scale(0.93,0.96)"><text x="0" y="0" font-size="17.8" font-weight="bold" fill="#1c2cc6">Event rate (s<tspan font-size="11.5" dy="-6.5">-1</tspan><tspan dy="6.5">)</tspan></text></g>
<text transform="translate(353.36,617.00) scale(1,1.05)" font-size="24.5" font-weight="bold" fill="#000">D</text>
<line x1="426.20" y1="628.00" x2="426.20" y2="736.20" stroke="#111" stroke-width="1.4"/>
<line x1="422.20" y1="736.00" x2="426.20" y2="736.00" stroke="#111" stroke-width="1.4"/>
<line x1="422.20" y1="694.65" x2="426.20" y2="694.65" stroke="#111" stroke-width="1.4"/>
<line x1="422.20" y1="653.30" x2="426.20" y2="653.30" stroke="#111" stroke-width="1.4"/>
<line x1="423.60" y1="727.73" x2="426.20" y2="727.73" stroke="#111" stroke-width="1.2"/>
<line x1="423.60" y1="719.46" x2="426.20" y2="719.46" stroke="#111" stroke-width="1.2"/>
<line x1="423.60" y1="711.19" x2="426.20" y2="711.19" stroke="#111" stroke-width="1.2"/>
<line x1="423.60" y1="702.92" x2="426.20" y2="702.92" stroke="#111" stroke-width="1.2"/>
<line x1="423.60" y1="686.38" x2="426.20" y2="686.38" stroke="#111" stroke-width="1.2"/>
<line x1="423.60" y1="678.11" x2="426.20" y2="678.11" stroke="#111" stroke-width="1.2"/>
<line x1="423.60" y1="669.84" x2="426.20" y2="669.84" stroke="#111" stroke-width="1.2"/>
<line x1="423.60" y1="661.57" x2="426.20" y2="661.57" stroke="#111" stroke-width="1.2"/>
<line x1="423.60" y1="645.03" x2="426.20" y2="645.03" stroke="#111" stroke-width="1.2"/>
<line x1="423.60" y1="636.76" x2="426.20" y2="636.76" stroke="#111" stroke-width="1.2"/>
<line x1="423.60" y1="628.49" x2="426.20" y2="628.49" stroke="#111" stroke-width="1.2"/>
<text transform="translate(415.24,739.50) scale(1,1.05)" font-size="12.3" fill="#000">0</text>
<text transform="translate(415.28,698.15) scale(1,1.05)" font-size="12.3" fill="#000">5</text>
<text transform="translate(408.40,656.80) scale(1,1.05)" font-size="12.3" fill="#000">10</text>
<rect x="427.90" y="726.08" width="10.80" height="9.52" fill="#000"/>
<rect x="443.00" y="726.08" width="10.80" height="9.52" fill="#000"/>
<rect x="458.10" y="635.11" width="10.80" height="100.49" fill="#000"/>
<rect x="473.20" y="639.24" width="10.80" height="96.36" fill="#000"/>
<rect x="488.30" y="653.30" width="10.80" height="82.30" fill="#000"/>
<rect x="503.40" y="719.46" width="10.80" height="16.14" fill="#000"/>
<rect x="518.50" y="723.60" width="10.80" height="12.00" fill="#000"/>
<rect x="533.60" y="723.60" width="10.80" height="12.00" fill="#000"/>
<rect x="548.70" y="723.60" width="10.80" height="12.00" fill="#000"/>
<rect x="563.80" y="724.42" width="10.80" height="11.18" fill="#000"/>
<rect x="578.90" y="724.84" width="10.80" height="10.76" fill="#000"/>
<rect x="594.00" y="724.84" width="10.80" height="10.76" fill="#000"/>
<rect x="609.10" y="725.08" width="10.80" height="10.52" fill="#000"/>
<rect x="624.20" y="725.08" width="10.80" height="10.52" fill="#000"/>
<rect x="639.30" y="725.25" width="10.80" height="10.35" fill="#000"/>
<rect x="654.40" y="724.84" width="10.80" height="10.76" fill="#000"/>
<line x1="426.20" y1="735.60" x2="667.00" y2="735.60" stroke="#111" stroke-width="1.6"/>
<line x1="433.30" y1="735.60" x2="433.30" y2="738.60" stroke="#111" stroke-width="1.3"/>
<line x1="448.40" y1="735.60" x2="448.40" y2="738.60" stroke="#111" stroke-width="1.3"/>
<line x1="463.50" y1="735.60" x2="463.50" y2="738.60" stroke="#111" stroke-width="1.3"/>
<line x1="478.60" y1="735.60" x2="478.60" y2="738.60" stroke="#111" stroke-width="1.3"/>
<line x1="493.70" y1="735.60" x2="493.70" y2="738.60" stroke="#111" stroke-width="1.3"/>
<line x1="508.80" y1="735.60" x2="508.80" y2="738.60" stroke="#111" stroke-width="1.3"/>
<line x1="523.90" y1="735.60" x2="523.90" y2="738.60" stroke="#111" stroke-width="1.3"/>
<line x1="539.00" y1="735.60" x2="539.00" y2="738.60" stroke="#111" stroke-width="1.3"/>
<line x1="554.10" y1="735.60" x2="554.10" y2="738.60" stroke="#111" stroke-width="1.3"/>
<line x1="569.20" y1="735.60" x2="569.20" y2="738.60" stroke="#111" stroke-width="1.3"/>
<line x1="584.30" y1="735.60" x2="584.30" y2="738.60" stroke="#111" stroke-width="1.3"/>
<line x1="599.40" y1="735.60" x2="599.40" y2="738.60" stroke="#111" stroke-width="1.3"/>
<line x1="614.50" y1="735.60" x2="614.50" y2="738.60" stroke="#111" stroke-width="1.3"/>
<line x1="629.60" y1="735.60" x2="629.60" y2="738.60" stroke="#111" stroke-width="1.3"/>
<line x1="644.70" y1="735.60" x2="644.70" y2="738.60" stroke="#111" stroke-width="1.3"/>
<line x1="659.80" y1="735.60" x2="659.80" y2="738.60" stroke="#111" stroke-width="1.3"/>
<text transform="translate(429.65,750.60) scale(1,1.05)" font-size="12.5" fill="#000">1</text>
<text transform="translate(444.92,750.60) scale(1,1.05)" font-size="12.5" fill="#000">2</text>
<text transform="translate(460.06,750.60) scale(1,1.05)" font-size="12.5" fill="#000">3</text>
<text transform="translate(475.16,750.60) scale(1,1.05)" font-size="12.5" fill="#000">4</text>
<text transform="translate(490.24,750.60) scale(1,1.05)" font-size="12.5" fill="#000">5</text>
<text transform="translate(505.28,750.60) scale(1,1.05)" font-size="12.5" fill="#000">6</text>
<text transform="translate(520.42,750.60) scale(1,1.05)" font-size="12.5" fill="#000">7</text>
<text transform="translate(535.52,750.60) scale(1,1.05)" font-size="12.5" fill="#000">8</text>
<text transform="translate(550.63,750.60) scale(1,1.05)" font-size="12.5" fill="#000">9</text>
<text transform="translate(562.02,750.60) scale(1,1.05)" font-size="12.5" fill="#000">10</text>
<text transform="translate(577.18,750.60) scale(1,1.05)" font-size="12.5" fill="#000">11</text>
<text transform="translate(592.29,750.60) scale(1,1.05)" font-size="12.5" fill="#000">12</text>
<text transform="translate(607.35,750.60) scale(1,1.05)" font-size="12.5" fill="#000">13</text>
<text transform="translate(622.36,750.60) scale(1,1.05)" font-size="12.5" fill="#000">14</text>
<text transform="translate(637.53,750.60) scale(1,1.05)" font-size="12.5" fill="#000">15</text>
<text transform="translate(652.65,750.60) scale(1,1.05)" font-size="12.5" fill="#000">16</text>
<line x1="426.20" y1="715.60" x2="668.00" y2="715.60" stroke="#8c8c8c" stroke-width="1.8" stroke-dasharray="5.2,3"/>
<line x1="535.50" y1="668.40" x2="570.00" y2="668.40" stroke="#8a8a8a" stroke-width="2.0" stroke-dasharray="7.5,5.8"/>
<text transform="translate(575.20,675.40) scale(1,1.05)" font-size="22.5" fill="#000">Pre-SEC</text>
<text transform="translate(504.53,776.00) scale(1,1.05)" font-size="22.2" fill="#000">Fractions</text>
<g transform="translate(398.60,759.76) rotate(-90) scale(0.962,1.045)"><text x="0" y="0" font-size="19.6" font-weight="bold" fill="#000">EV<tspan font-size="14.2" dy="5.9">MedFI</tspan><tspan dy="-5.9">/Noise</tspan><tspan font-size="14.2" dy="5.9">MedFI</tspan></text></g>
<text transform="translate(3.36,832.00) scale(1,1.05)" font-size="24.5" font-weight="bold" fill="#000">E</text>
<path d="M94.60,1002.60 L96.34,972.85 L98.51,951.96 L100.46,937.45 L102.42,922.94 L103.94,916.70 L107.63,908.43 L113.93,899.00 L122.18,889.71 L131.52,881.44 L143.04,877.23 L153.46,875.20 L163.67,872.74 L176.27,868.96 L188.65,866.93 L207.33,864.03 L221.66,862.00 L242.95,860.84 L266.62,859.82 L290.30,857.79 L310.60,857.50 L310.60,1002.60 L94.60,1002.60 Z" fill="#cccccc"/>
<line x1="94.60" y1="856.60" x2="94.60" y2="1003.50" stroke="#000" stroke-width="1.8"/>
<line x1="93.70" y1="1002.60" x2="312.70" y2="1002.60" stroke="#000" stroke-width="1.9"/>
<line x1="89.10" y1="1002.60" x2="94.60" y2="1002.60" stroke="#000" stroke-width="1.7"/>
<line x1="94.60" y1="1002.60" x2="94.60" y2="1008.50" stroke="#000" stroke-width="1.7"/>
<text transform="translate(66.79,1008.10) scale(1,1.03)" font-size="15.5" font-weight="bold" fill="#000">0.0</text>
<text transform="translate(84.24,1022.10) scale(1,1.03)" font-size="15.5" font-weight="bold" fill="#000">0.0</text>
<line x1="89.10" y1="930.05" x2="94.60" y2="930.05" stroke="#000" stroke-width="1.7"/>
<line x1="203.20" y1="1002.60" x2="203.20" y2="1008.50" stroke="#000" stroke-width="1.7"/>
<text transform="translate(66.58,935.55) scale(1,1.03)" font-size="15.5" font-weight="bold" fill="#000">0.5</text>
<text transform="translate(192.74,1022.10) scale(1,1.03)" font-size="15.5" font-weight="bold" fill="#000">0.5</text>
<line x1="89.10" y1="857.50" x2="94.60" y2="857.50" stroke="#000" stroke-width="1.7"/>
<line x1="311.80" y1="1002.60" x2="311.80" y2="1008.50" stroke="#000" stroke-width="1.7"/>
<text transform="translate(66.79,863.00) scale(1,1.03)" font-size="15.5" font-weight="bold" fill="#000">1.0</text>
<text transform="translate(301.26,1022.10) scale(1,1.03)" font-size="15.5" font-weight="bold" fill="#000">1.0</text>
<path d="M94.60,1002.60 L96.34,972.85 L98.51,951.96 L100.46,937.45 L102.42,922.94 L103.94,916.70 L107.63,908.43 L113.93,899.00 L122.18,889.71 L131.52,881.44 L143.04,877.23 L153.46,875.20 L163.67,872.74 L176.27,868.96 L188.65,866.93 L207.33,864.03 L221.66,862.00 L242.95,860.84 L266.62,859.82 L290.30,857.79 L311.80,857.50" fill="none" stroke="#000" stroke-width="6.3" stroke-linejoin="round" stroke-linecap="round"/>
<text transform="translate(161.20,839.60) scale(1,1.05)" font-size="22.6" fill="#000">Pre-SEC</text>
<rect x="207.20" y="965.20" width="92.60" height="22.20" fill="#fff"/>
<text transform="translate(210.87,980.40) scale(1,1.05)" font-size="13.55" fill="#000">AUC = 0.8901</text>
<path d="M446.60,1003.10 L446.60,921.13 L448.31,919.70 L449.16,899.86 L451.30,890.86 L455.14,882.58 L461.12,871.15 L465.81,869.30 L476.28,867.87 L485.46,865.16 L497.63,862.87 L520.04,862.01 L580.68,860.73 L658.90,860.30 L658.90,1003.10 L446.60,1003.10 Z" fill="#cccccc"/>
<line x1="446.60" y1="859.40" x2="446.60" y2="1004.00" stroke="#000" stroke-width="1.8"/>
<line x1="445.70" y1="1003.10" x2="661.00" y2="1003.10" stroke="#000" stroke-width="1.9"/>
<line x1="441.10" y1="1003.10" x2="446.60" y2="1003.10" stroke="#000" stroke-width="1.7"/>
<line x1="446.60" y1="1003.10" x2="446.60" y2="1009.00" stroke="#000" stroke-width="1.7"/>
<text transform="translate(418.79,1008.60) scale(1,1.03)" font-size="15.5" font-weight="bold" fill="#000">0.0</text>
<text transform="translate(436.24,1022.60) scale(1,1.03)" font-size="15.5" font-weight="bold" fill="#000">0.0</text>
<line x1="441.10" y1="931.70" x2="446.60" y2="931.70" stroke="#000" stroke-width="1.7"/>
<line x1="553.35" y1="1003.10" x2="553.35" y2="1009.00" stroke="#000" stroke-width="1.7"/>
<text transform="translate(418.58,937.20) scale(1,1.03)" font-size="15.5" font-weight="bold" fill="#000">0.5</text>
<text transform="translate(542.89,1022.60) scale(1,1.03)" font-size="15.5" font-weight="bold" fill="#000">0.5</text>
<line x1="441.10" y1="860.30" x2="446.60" y2="860.30" stroke="#000" stroke-width="1.7"/>
<line x1="660.10" y1="1003.10" x2="660.10" y2="1009.00" stroke="#000" stroke-width="1.7"/>
<text transform="translate(418.79,865.80) scale(1,1.03)" font-size="15.5" font-weight="bold" fill="#000">1.0</text>
<text transform="translate(649.56,1022.60) scale(1,1.03)" font-size="15.5" font-weight="bold" fill="#000">1.0</text>
<path d="M446.60,1003.10 L446.60,921.13 L448.31,919.70 L449.16,899.86 L451.30,890.86 L455.14,882.58 L461.12,871.15 L465.81,869.30 L476.28,867.87 L485.46,865.16 L497.63,862.87 L520.04,862.01 L580.68,860.73 L660.10,860.30" fill="none" stroke="#000" stroke-width="6.3" stroke-linejoin="round" stroke-linecap="round"/>
<text transform="translate(502.80,839.60) scale(1,1.05)" font-size="22.6" fill="#000">Post-SEC</text>
<rect x="557.90" y="966.20" width="92.40" height="21.90" fill="#fff"/>
<text transform="translate(561.57,981.10) scale(1,1.05)" font-size="13.55" fill="#000">AUC = 0.9707</text>
<g transform="translate(46.20,971.30) rotate(-90) scale(1.0,1.06)"><text x="0" y="0" font-size="17.5" font-weight="bold" fill="#000">Sensitivity</text></g>
<g transform="translate(405.30,973.50) rotate(-90) scale(1.0,1.06)"><text x="0" y="0" font-size="17.5" font-weight="bold" fill="#000">Sensitivity</text></g>
<text transform="translate(146.59,1049.30) scale(1,1.05)" font-size="17.6" font-weight="bold" fill="#000">1 - Specificity</text>
<text transform="translate(495.93,1049.30) scale(1,1.05)" font-size="17.6" font-weight="bold" fill="#000">1 - Specificity</text>
</svg></body></html>
